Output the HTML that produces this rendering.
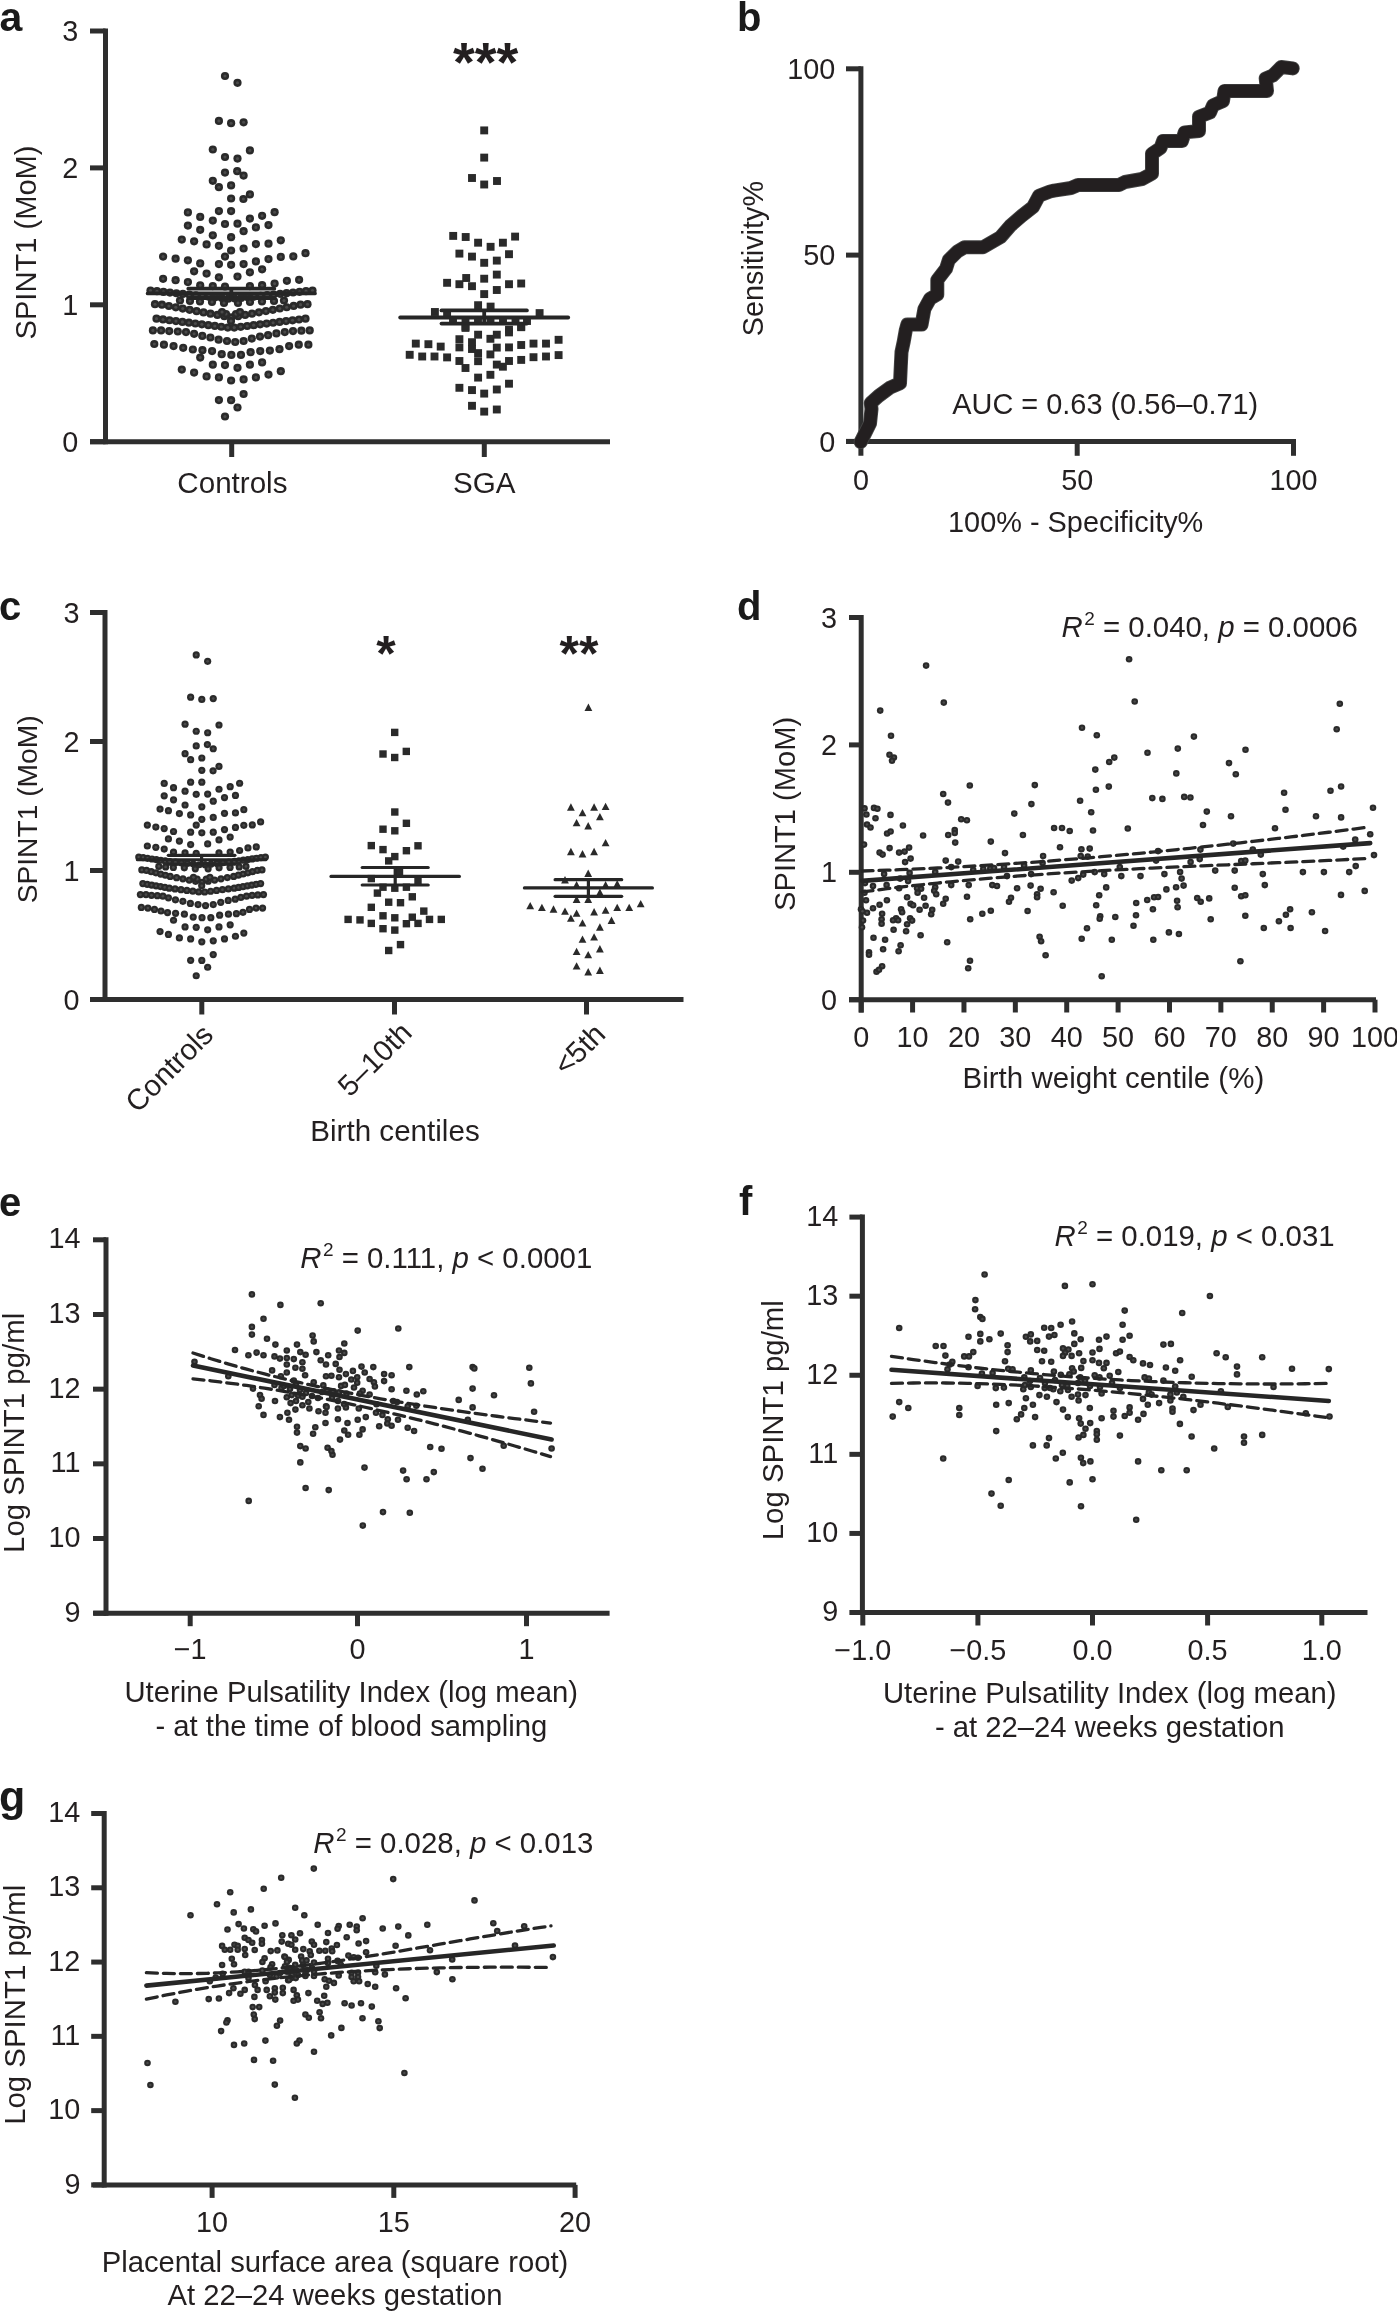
<!DOCTYPE html>
<html><head><meta charset="utf-8"><title>SPINT1 figure</title>
<style>
html,body{margin:0;padding:0;background:#fff;}
svg{display:block;will-change:transform;}
text{font-family:"Liberation Sans",sans-serif;}
</style></head>
<body>
<svg width="1397" height="2315" viewBox="0 0 1397 2315">
<rect width="1397" height="2315" fill="#fff"/>
<text x="-0.5" y="30.8" font-size="41" text-anchor="start" font-weight="bold" fill="#1a1a1a">a</text>
<line x1="105.5" y1="28.5" x2="105.5" y2="444.2" stroke="#2e2e2e" stroke-width="5" stroke-linecap="butt"/>
<line x1="90" y1="441.7" x2="105.5" y2="441.7" stroke="#2e2e2e" stroke-width="5" stroke-linecap="butt"/>
<text x="78.3" y="451.84" font-size="28.8" text-anchor="end" fill="#231f20">0</text>
<line x1="90" y1="304.8" x2="105.5" y2="304.8" stroke="#2e2e2e" stroke-width="5" stroke-linecap="butt"/>
<text x="78.3" y="314.94" font-size="28.8" text-anchor="end" fill="#231f20">1</text>
<line x1="90" y1="167.9" x2="105.5" y2="167.9" stroke="#2e2e2e" stroke-width="5" stroke-linecap="butt"/>
<text x="78.3" y="178.04" font-size="28.8" text-anchor="end" fill="#231f20">2</text>
<line x1="90" y1="31" x2="105.5" y2="31" stroke="#2e2e2e" stroke-width="5" stroke-linecap="butt"/>
<text x="78.3" y="41.14" font-size="28.8" text-anchor="end" fill="#231f20">3</text>
<line x1="90" y1="441.7" x2="610" y2="441.7" stroke="#2e2e2e" stroke-width="5" stroke-linecap="butt"/>
<line x1="231.7" y1="441.7" x2="231.7" y2="457" stroke="#2e2e2e" stroke-width="5" stroke-linecap="butt"/>
<line x1="484.3" y1="441.7" x2="484.3" y2="457" stroke="#2e2e2e" stroke-width="5" stroke-linecap="butt"/>
<text x="232.4" y="493.3" font-size="29.6" text-anchor="middle" fill="#231f20">Controls</text>
<text x="484.3" y="493.3" font-size="29.6" text-anchor="middle" fill="#231f20">SGA</text>
<text x="0" y="0" font-size="29.1" text-anchor="middle" fill="#231f20" transform="translate(35.8,242.5) rotate(-90)">SPINT1 (MoM)</text>
<g fill="#2a2a2a"><circle cx="225" cy="76" r="4.1"/><circle cx="225" cy="76" r="1.56" fill="#4a4a4a"/><circle cx="237.5" cy="82.8" r="4.1"/><circle cx="237.5" cy="82.8" r="1.56" fill="#4a4a4a"/><circle cx="218.9" cy="120.9" r="4.1"/><circle cx="218.9" cy="120.9" r="1.56" fill="#4a4a4a"/><circle cx="231.1" cy="123.2" r="4.1"/><circle cx="231.1" cy="123.2" r="1.56" fill="#4a4a4a"/><circle cx="243.6" cy="122.3" r="4.1"/><circle cx="243.6" cy="122.3" r="1.56" fill="#4a4a4a"/><circle cx="212.8" cy="149.5" r="4.1"/><circle cx="212.8" cy="149.5" r="1.56" fill="#4a4a4a"/><circle cx="249.9" cy="150.4" r="4.1"/><circle cx="249.9" cy="150.4" r="1.56" fill="#4a4a4a"/><circle cx="225" cy="157" r="4.1"/><circle cx="225" cy="157" r="1.56" fill="#4a4a4a"/><circle cx="237.5" cy="158.6" r="4.1"/><circle cx="237.5" cy="158.6" r="1.56" fill="#4a4a4a"/><circle cx="225" cy="172.6" r="4.1"/><circle cx="225" cy="172.6" r="1.56" fill="#4a4a4a"/><circle cx="237.2" cy="171.2" r="4.1"/><circle cx="237.2" cy="171.2" r="1.56" fill="#4a4a4a"/><circle cx="243.6" cy="175.6" r="4.1"/><circle cx="243.6" cy="175.6" r="1.56" fill="#4a4a4a"/><circle cx="212.8" cy="180.8" r="4.1"/><circle cx="212.8" cy="180.8" r="1.56" fill="#4a4a4a"/><circle cx="218.9" cy="187.2" r="4.1"/><circle cx="218.9" cy="187.2" r="1.56" fill="#4a4a4a"/><circle cx="231.1" cy="185.4" r="4.1"/><circle cx="231.1" cy="185.4" r="1.56" fill="#4a4a4a"/><circle cx="249.9" cy="194.4" r="4.1"/><circle cx="249.9" cy="194.4" r="1.56" fill="#4a4a4a"/><circle cx="231.1" cy="198.5" r="4.1"/><circle cx="231.1" cy="198.5" r="1.56" fill="#4a4a4a"/><circle cx="243.4" cy="199" r="4.1"/><circle cx="243.4" cy="199" r="1.56" fill="#4a4a4a"/><circle cx="187.9" cy="212.4" r="4.1"/><circle cx="187.9" cy="212.4" r="1.56" fill="#4a4a4a"/><circle cx="218.9" cy="211.1" r="4.1"/><circle cx="218.9" cy="211.1" r="1.56" fill="#4a4a4a"/><circle cx="231.1" cy="211.1" r="4.1"/><circle cx="231.1" cy="211.1" r="1.56" fill="#4a4a4a"/><circle cx="274.6" cy="212.2" r="4.1"/><circle cx="274.6" cy="212.2" r="1.56" fill="#4a4a4a"/><circle cx="200.2" cy="216.9" r="4.1"/><circle cx="200.2" cy="216.9" r="1.56" fill="#4a4a4a"/><circle cx="262.1" cy="215.8" r="4.1"/><circle cx="262.1" cy="215.8" r="1.56" fill="#4a4a4a"/><circle cx="212.8" cy="220.6" r="4.1"/><circle cx="212.8" cy="220.6" r="1.56" fill="#4a4a4a"/><circle cx="249.9" cy="218.6" r="4.1"/><circle cx="249.9" cy="218.6" r="1.56" fill="#4a4a4a"/><circle cx="225" cy="224" r="4.1"/><circle cx="225" cy="224" r="1.56" fill="#4a4a4a"/><circle cx="237.5" cy="223.7" r="4.1"/><circle cx="237.5" cy="223.7" r="1.56" fill="#4a4a4a"/><circle cx="187.9" cy="225.6" r="4.1"/><circle cx="187.9" cy="225.6" r="1.56" fill="#4a4a4a"/><circle cx="268.5" cy="225.1" r="4.1"/><circle cx="268.5" cy="225.1" r="1.56" fill="#4a4a4a"/><circle cx="255.9" cy="227.4" r="4.1"/><circle cx="255.9" cy="227.4" r="1.56" fill="#4a4a4a"/><circle cx="200.2" cy="229.8" r="4.1"/><circle cx="200.2" cy="229.8" r="1.56" fill="#4a4a4a"/><circle cx="243.6" cy="231.2" r="4.1"/><circle cx="243.6" cy="231.2" r="1.56" fill="#4a4a4a"/><circle cx="212.8" cy="235.3" r="4.1"/><circle cx="212.8" cy="235.3" r="1.56" fill="#4a4a4a"/><circle cx="231.1" cy="237.2" r="4.1"/><circle cx="231.1" cy="237.2" r="1.56" fill="#4a4a4a"/><circle cx="181.8" cy="239.6" r="4.1"/><circle cx="181.8" cy="239.6" r="1.56" fill="#4a4a4a"/><circle cx="194.1" cy="241.3" r="4.1"/><circle cx="194.1" cy="241.3" r="1.56" fill="#4a4a4a"/><circle cx="280.8" cy="240.3" r="4.1"/><circle cx="280.8" cy="240.3" r="1.56" fill="#4a4a4a"/><circle cx="206.6" cy="244.4" r="4.1"/><circle cx="206.6" cy="244.4" r="1.56" fill="#4a4a4a"/><circle cx="255.9" cy="244.1" r="4.1"/><circle cx="255.9" cy="244.1" r="1.56" fill="#4a4a4a"/><circle cx="268.5" cy="243.7" r="4.1"/><circle cx="268.5" cy="243.7" r="1.56" fill="#4a4a4a"/><circle cx="218.9" cy="245.8" r="4.1"/><circle cx="218.9" cy="245.8" r="1.56" fill="#4a4a4a"/><circle cx="243.6" cy="248.5" r="4.1"/><circle cx="243.6" cy="248.5" r="1.56" fill="#4a4a4a"/><circle cx="231.1" cy="250.5" r="4.1"/><circle cx="231.1" cy="250.5" r="1.56" fill="#4a4a4a"/><circle cx="225" cy="256.6" r="4.1"/><circle cx="225" cy="256.6" r="1.56" fill="#4a4a4a"/><circle cx="305.5" cy="253.2" r="4.1"/><circle cx="305.5" cy="253.2" r="1.56" fill="#4a4a4a"/><circle cx="163.1" cy="256.6" r="4.1"/><circle cx="163.1" cy="256.6" r="1.56" fill="#4a4a4a"/><circle cx="175.6" cy="258.7" r="4.1"/><circle cx="175.6" cy="258.7" r="1.56" fill="#4a4a4a"/><circle cx="187.9" cy="260.3" r="4.1"/><circle cx="187.9" cy="260.3" r="1.56" fill="#4a4a4a"/><circle cx="280.8" cy="256.9" r="4.1"/><circle cx="280.8" cy="256.9" r="1.56" fill="#4a4a4a"/><circle cx="293.3" cy="256.4" r="4.1"/><circle cx="293.3" cy="256.4" r="1.56" fill="#4a4a4a"/><circle cx="268.5" cy="259.1" r="4.1"/><circle cx="268.5" cy="259.1" r="1.56" fill="#4a4a4a"/><circle cx="255.9" cy="261.4" r="4.1"/><circle cx="255.9" cy="261.4" r="1.56" fill="#4a4a4a"/><circle cx="200.2" cy="263.4" r="4.1"/><circle cx="200.2" cy="263.4" r="1.56" fill="#4a4a4a"/><circle cx="218.9" cy="264.1" r="4.1"/><circle cx="218.9" cy="264.1" r="1.56" fill="#4a4a4a"/><circle cx="231.1" cy="264.8" r="4.1"/><circle cx="231.1" cy="264.8" r="1.56" fill="#4a4a4a"/><circle cx="243.6" cy="264.1" r="4.1"/><circle cx="243.6" cy="264.1" r="1.56" fill="#4a4a4a"/><circle cx="262.1" cy="269.3" r="4.1"/><circle cx="262.1" cy="269.3" r="1.56" fill="#4a4a4a"/><circle cx="194.1" cy="271.3" r="4.1"/><circle cx="194.1" cy="271.3" r="1.56" fill="#4a4a4a"/><circle cx="249.9" cy="272.3" r="4.1"/><circle cx="249.9" cy="272.3" r="1.56" fill="#4a4a4a"/><circle cx="206.6" cy="273.6" r="4.1"/><circle cx="206.6" cy="273.6" r="1.56" fill="#4a4a4a"/><circle cx="218.9" cy="277.3" r="4.1"/><circle cx="218.9" cy="277.3" r="1.56" fill="#4a4a4a"/><circle cx="237.5" cy="276.6" r="4.1"/><circle cx="237.5" cy="276.6" r="1.56" fill="#4a4a4a"/><circle cx="163.1" cy="278.8" r="4.1"/><circle cx="163.1" cy="278.8" r="1.56" fill="#4a4a4a"/><circle cx="175.6" cy="280.2" r="4.1"/><circle cx="175.6" cy="280.2" r="1.56" fill="#4a4a4a"/><circle cx="187.9" cy="282.1" r="4.1"/><circle cx="187.9" cy="282.1" r="1.56" fill="#4a4a4a"/><circle cx="286.9" cy="280.8" r="4.1"/><circle cx="286.9" cy="280.8" r="1.56" fill="#4a4a4a"/><circle cx="299.1" cy="279.8" r="4.1"/><circle cx="299.1" cy="279.8" r="1.56" fill="#4a4a4a"/><circle cx="274.6" cy="283.6" r="4.1"/><circle cx="274.6" cy="283.6" r="1.56" fill="#4a4a4a"/><circle cx="200.2" cy="285.4" r="4.1"/><circle cx="200.2" cy="285.4" r="1.56" fill="#4a4a4a"/><circle cx="212.8" cy="286.1" r="4.1"/><circle cx="212.8" cy="286.1" r="1.56" fill="#4a4a4a"/><circle cx="225" cy="286.5" r="4.1"/><circle cx="225" cy="286.5" r="1.56" fill="#4a4a4a"/><circle cx="249.9" cy="286.1" r="4.1"/><circle cx="249.9" cy="286.1" r="1.56" fill="#4a4a4a"/><circle cx="262.1" cy="285.2" r="4.1"/><circle cx="262.1" cy="285.2" r="1.56" fill="#4a4a4a"/><circle cx="200.2" cy="357.6" r="4.1"/><circle cx="200.2" cy="357.6" r="1.56" fill="#4a4a4a"/><circle cx="212.8" cy="364.7" r="4.1"/><circle cx="212.8" cy="364.7" r="1.56" fill="#4a4a4a"/><circle cx="225" cy="365.1" r="4.1"/><circle cx="225" cy="365.1" r="1.56" fill="#4a4a4a"/><circle cx="237.5" cy="367.8" r="4.1"/><circle cx="237.5" cy="367.8" r="1.56" fill="#4a4a4a"/><circle cx="249.9" cy="364.7" r="4.1"/><circle cx="249.9" cy="364.7" r="1.56" fill="#4a4a4a"/><circle cx="262.1" cy="362.4" r="4.1"/><circle cx="262.1" cy="362.4" r="1.56" fill="#4a4a4a"/><circle cx="181.8" cy="369.6" r="4.1"/><circle cx="181.8" cy="369.6" r="1.56" fill="#4a4a4a"/><circle cx="194.1" cy="372.6" r="4.1"/><circle cx="194.1" cy="372.6" r="1.56" fill="#4a4a4a"/><circle cx="206.6" cy="376.4" r="4.1"/><circle cx="206.6" cy="376.4" r="1.56" fill="#4a4a4a"/><circle cx="218.9" cy="377.4" r="4.1"/><circle cx="218.9" cy="377.4" r="1.56" fill="#4a4a4a"/><circle cx="231.1" cy="380.5" r="4.1"/><circle cx="231.1" cy="380.5" r="1.56" fill="#4a4a4a"/><circle cx="243.6" cy="379.4" r="4.1"/><circle cx="243.6" cy="379.4" r="1.56" fill="#4a4a4a"/><circle cx="255.9" cy="377.4" r="4.1"/><circle cx="255.9" cy="377.4" r="1.56" fill="#4a4a4a"/><circle cx="268.5" cy="374.6" r="4.1"/><circle cx="268.5" cy="374.6" r="1.56" fill="#4a4a4a"/><circle cx="280.8" cy="371.2" r="4.1"/><circle cx="280.8" cy="371.2" r="1.56" fill="#4a4a4a"/><circle cx="243.6" cy="394" r="4.1"/><circle cx="243.6" cy="394" r="1.56" fill="#4a4a4a"/><circle cx="218.9" cy="400.1" r="4.1"/><circle cx="218.9" cy="400.1" r="1.56" fill="#4a4a4a"/><circle cx="231.1" cy="400.2" r="4.1"/><circle cx="231.1" cy="400.2" r="1.56" fill="#4a4a4a"/><circle cx="237.5" cy="407.5" r="4.1"/><circle cx="237.5" cy="407.5" r="1.56" fill="#4a4a4a"/><circle cx="225" cy="416.5" r="4.1"/><circle cx="225" cy="416.5" r="1.56" fill="#4a4a4a"/><circle cx="150.5" cy="290.6" r="4.1"/><circle cx="150.5" cy="290.6" r="1.56" fill="#4a4a4a"/><circle cx="156.98" cy="291.22" r="4.1"/><circle cx="156.98" cy="291.22" r="1.56" fill="#4a4a4a"/><circle cx="163.46" cy="291.9" r="4.1"/><circle cx="163.46" cy="291.9" r="1.56" fill="#4a4a4a"/><circle cx="169.94" cy="292.58" r="4.1"/><circle cx="169.94" cy="292.58" r="1.56" fill="#4a4a4a"/><circle cx="176.42" cy="293.26" r="4.1"/><circle cx="176.42" cy="293.26" r="1.56" fill="#4a4a4a"/><circle cx="182.9" cy="293.94" r="4.1"/><circle cx="182.9" cy="293.94" r="1.56" fill="#4a4a4a"/><circle cx="189.38" cy="294.62" r="4.1"/><circle cx="189.38" cy="294.62" r="1.56" fill="#4a4a4a"/><circle cx="195.86" cy="295.3" r="4.1"/><circle cx="195.86" cy="295.3" r="1.56" fill="#4a4a4a"/><circle cx="202.34" cy="295.98" r="4.1"/><circle cx="202.34" cy="295.98" r="1.56" fill="#4a4a4a"/><circle cx="208.82" cy="296.66" r="4.1"/><circle cx="208.82" cy="296.66" r="1.56" fill="#4a4a4a"/><circle cx="215.3" cy="297.34" r="4.1"/><circle cx="215.3" cy="297.34" r="1.56" fill="#4a4a4a"/><circle cx="221.78" cy="298.02" r="4.1"/><circle cx="221.78" cy="298.02" r="1.56" fill="#4a4a4a"/><circle cx="228.26" cy="298.7" r="4.1"/><circle cx="228.26" cy="298.7" r="1.56" fill="#4a4a4a"/><circle cx="234.74" cy="298.62" r="4.1"/><circle cx="234.74" cy="298.62" r="1.56" fill="#4a4a4a"/><circle cx="241.22" cy="297.94" r="4.1"/><circle cx="241.22" cy="297.94" r="1.56" fill="#4a4a4a"/><circle cx="247.7" cy="297.26" r="4.1"/><circle cx="247.7" cy="297.26" r="1.56" fill="#4a4a4a"/><circle cx="254.18" cy="296.58" r="4.1"/><circle cx="254.18" cy="296.58" r="1.56" fill="#4a4a4a"/><circle cx="260.66" cy="295.9" r="4.1"/><circle cx="260.66" cy="295.9" r="1.56" fill="#4a4a4a"/><circle cx="267.14" cy="295.22" r="4.1"/><circle cx="267.14" cy="295.22" r="1.56" fill="#4a4a4a"/><circle cx="273.62" cy="294.54" r="4.1"/><circle cx="273.62" cy="294.54" r="1.56" fill="#4a4a4a"/><circle cx="280.1" cy="293.86" r="4.1"/><circle cx="280.1" cy="293.86" r="1.56" fill="#4a4a4a"/><circle cx="286.58" cy="293.17" r="4.1"/><circle cx="286.58" cy="293.17" r="1.56" fill="#4a4a4a"/><circle cx="293.06" cy="292.49" r="4.1"/><circle cx="293.06" cy="292.49" r="1.56" fill="#4a4a4a"/><circle cx="299.54" cy="291.81" r="4.1"/><circle cx="299.54" cy="291.81" r="1.56" fill="#4a4a4a"/><circle cx="306.02" cy="291.13" r="4.1"/><circle cx="306.02" cy="291.13" r="1.56" fill="#4a4a4a"/><circle cx="312.5" cy="290.6" r="4.1"/><circle cx="312.5" cy="290.6" r="1.56" fill="#4a4a4a"/><circle cx="155" cy="304.2" r="4.1"/><circle cx="155" cy="304.2" r="1.56" fill="#4a4a4a"/><circle cx="161.93" cy="304.72" r="4.1"/><circle cx="161.93" cy="304.72" r="1.56" fill="#4a4a4a"/><circle cx="168.86" cy="306" r="4.1"/><circle cx="168.86" cy="306" r="1.56" fill="#4a4a4a"/><circle cx="175.8" cy="307.28" r="4.1"/><circle cx="175.8" cy="307.28" r="1.56" fill="#4a4a4a"/><circle cx="182.73" cy="308.56" r="4.1"/><circle cx="182.73" cy="308.56" r="1.56" fill="#4a4a4a"/><circle cx="189.66" cy="309.84" r="4.1"/><circle cx="189.66" cy="309.84" r="1.56" fill="#4a4a4a"/><circle cx="196.59" cy="311.13" r="4.1"/><circle cx="196.59" cy="311.13" r="1.56" fill="#4a4a4a"/><circle cx="203.52" cy="312.41" r="4.1"/><circle cx="203.52" cy="312.41" r="1.56" fill="#4a4a4a"/><circle cx="210.45" cy="313.69" r="4.1"/><circle cx="210.45" cy="313.69" r="1.56" fill="#4a4a4a"/><circle cx="217.39" cy="314.97" r="4.1"/><circle cx="217.39" cy="314.97" r="1.56" fill="#4a4a4a"/><circle cx="224.32" cy="316.25" r="4.1"/><circle cx="224.32" cy="316.25" r="1.56" fill="#4a4a4a"/><circle cx="231.25" cy="317.47" r="4.1"/><circle cx="231.25" cy="317.47" r="1.56" fill="#4a4a4a"/><circle cx="238.18" cy="316.19" r="4.1"/><circle cx="238.18" cy="316.19" r="1.56" fill="#4a4a4a"/><circle cx="245.11" cy="314.91" r="4.1"/><circle cx="245.11" cy="314.91" r="1.56" fill="#4a4a4a"/><circle cx="252.05" cy="313.63" r="4.1"/><circle cx="252.05" cy="313.63" r="1.56" fill="#4a4a4a"/><circle cx="258.98" cy="312.35" r="4.1"/><circle cx="258.98" cy="312.35" r="1.56" fill="#4a4a4a"/><circle cx="265.91" cy="311.07" r="4.1"/><circle cx="265.91" cy="311.07" r="1.56" fill="#4a4a4a"/><circle cx="272.84" cy="309.79" r="4.1"/><circle cx="272.84" cy="309.79" r="1.56" fill="#4a4a4a"/><circle cx="279.77" cy="308.51" r="4.1"/><circle cx="279.77" cy="308.51" r="1.56" fill="#4a4a4a"/><circle cx="286.7" cy="307.23" r="4.1"/><circle cx="286.7" cy="307.23" r="1.56" fill="#4a4a4a"/><circle cx="293.64" cy="305.95" r="4.1"/><circle cx="293.64" cy="305.95" r="1.56" fill="#4a4a4a"/><circle cx="300.57" cy="304.67" r="4.1"/><circle cx="300.57" cy="304.67" r="1.56" fill="#4a4a4a"/><circle cx="307.5" cy="304.2" r="4.1"/><circle cx="307.5" cy="304.2" r="1.56" fill="#4a4a4a"/><circle cx="156.5" cy="318.65" r="4.1"/><circle cx="156.5" cy="318.65" r="1.56" fill="#4a4a4a"/><circle cx="162.98" cy="319.46" r="4.1"/><circle cx="162.98" cy="319.46" r="1.56" fill="#4a4a4a"/><circle cx="169.46" cy="320.27" r="4.1"/><circle cx="169.46" cy="320.27" r="1.56" fill="#4a4a4a"/><circle cx="175.93" cy="321.09" r="4.1"/><circle cx="175.93" cy="321.09" r="1.56" fill="#4a4a4a"/><circle cx="182.41" cy="321.9" r="4.1"/><circle cx="182.41" cy="321.9" r="1.56" fill="#4a4a4a"/><circle cx="188.89" cy="322.71" r="4.1"/><circle cx="188.89" cy="322.71" r="1.56" fill="#4a4a4a"/><circle cx="195.37" cy="323.52" r="4.1"/><circle cx="195.37" cy="323.52" r="1.56" fill="#4a4a4a"/><circle cx="201.85" cy="324.33" r="4.1"/><circle cx="201.85" cy="324.33" r="1.56" fill="#4a4a4a"/><circle cx="208.33" cy="325.15" r="4.1"/><circle cx="208.33" cy="325.15" r="1.56" fill="#4a4a4a"/><circle cx="214.8" cy="325.96" r="4.1"/><circle cx="214.8" cy="325.96" r="1.56" fill="#4a4a4a"/><circle cx="221.28" cy="326.77" r="4.1"/><circle cx="221.28" cy="326.77" r="1.56" fill="#4a4a4a"/><circle cx="227.76" cy="327.58" r="4.1"/><circle cx="227.76" cy="327.58" r="1.56" fill="#4a4a4a"/><circle cx="234.24" cy="327.61" r="4.1"/><circle cx="234.24" cy="327.61" r="1.56" fill="#4a4a4a"/><circle cx="240.72" cy="326.79" r="4.1"/><circle cx="240.72" cy="326.79" r="1.56" fill="#4a4a4a"/><circle cx="247.2" cy="325.98" r="4.1"/><circle cx="247.2" cy="325.98" r="1.56" fill="#4a4a4a"/><circle cx="253.67" cy="325.17" r="4.1"/><circle cx="253.67" cy="325.17" r="1.56" fill="#4a4a4a"/><circle cx="260.15" cy="324.36" r="4.1"/><circle cx="260.15" cy="324.36" r="1.56" fill="#4a4a4a"/><circle cx="266.63" cy="323.55" r="4.1"/><circle cx="266.63" cy="323.55" r="1.56" fill="#4a4a4a"/><circle cx="273.11" cy="322.73" r="4.1"/><circle cx="273.11" cy="322.73" r="1.56" fill="#4a4a4a"/><circle cx="279.59" cy="321.92" r="4.1"/><circle cx="279.59" cy="321.92" r="1.56" fill="#4a4a4a"/><circle cx="286.07" cy="321.11" r="4.1"/><circle cx="286.07" cy="321.11" r="1.56" fill="#4a4a4a"/><circle cx="292.54" cy="320.3" r="4.1"/><circle cx="292.54" cy="320.3" r="1.56" fill="#4a4a4a"/><circle cx="299.02" cy="319.49" r="4.1"/><circle cx="299.02" cy="319.49" r="1.56" fill="#4a4a4a"/><circle cx="305.5" cy="318.68" r="4.1"/><circle cx="305.5" cy="318.68" r="1.56" fill="#4a4a4a"/><circle cx="152.9" cy="330.4" r="4.1"/><circle cx="152.9" cy="330.4" r="1.56" fill="#4a4a4a"/><circle cx="161.1" cy="330.4" r="4.1"/><circle cx="161.1" cy="330.4" r="1.56" fill="#4a4a4a"/><circle cx="169.2" cy="331.1" r="4.1"/><circle cx="169.2" cy="331.1" r="1.56" fill="#4a4a4a"/><circle cx="177.8" cy="331.5" r="4.1"/><circle cx="177.8" cy="331.5" r="1.56" fill="#4a4a4a"/><circle cx="186" cy="332.1" r="4.1"/><circle cx="186" cy="332.1" r="1.56" fill="#4a4a4a"/><circle cx="194.1" cy="333.8" r="4.1"/><circle cx="194.1" cy="333.8" r="1.56" fill="#4a4a4a"/><circle cx="202.3" cy="335.9" r="4.1"/><circle cx="202.3" cy="335.9" r="1.56" fill="#4a4a4a"/><circle cx="210.4" cy="337.5" r="4.1"/><circle cx="210.4" cy="337.5" r="1.56" fill="#4a4a4a"/><circle cx="218.6" cy="339.7" r="4.1"/><circle cx="218.6" cy="339.7" r="1.56" fill="#4a4a4a"/><circle cx="227" cy="341" r="4.1"/><circle cx="227" cy="341" r="1.56" fill="#4a4a4a"/><circle cx="235.2" cy="342" r="4.1"/><circle cx="235.2" cy="342" r="1.56" fill="#4a4a4a"/><circle cx="243.6" cy="341" r="4.1"/><circle cx="243.6" cy="341" r="1.56" fill="#4a4a4a"/><circle cx="251.8" cy="338.6" r="4.1"/><circle cx="251.8" cy="338.6" r="1.56" fill="#4a4a4a"/><circle cx="260" cy="336.6" r="4.1"/><circle cx="260" cy="336.6" r="1.56" fill="#4a4a4a"/><circle cx="268.1" cy="335.2" r="4.1"/><circle cx="268.1" cy="335.2" r="1.56" fill="#4a4a4a"/><circle cx="276.4" cy="333.4" r="4.1"/><circle cx="276.4" cy="333.4" r="1.56" fill="#4a4a4a"/><circle cx="284.8" cy="332.1" r="4.1"/><circle cx="284.8" cy="332.1" r="1.56" fill="#4a4a4a"/><circle cx="293" cy="331.1" r="4.1"/><circle cx="293" cy="331.1" r="1.56" fill="#4a4a4a"/><circle cx="301.4" cy="330.7" r="4.1"/><circle cx="301.4" cy="330.7" r="1.56" fill="#4a4a4a"/><circle cx="309.7" cy="330.4" r="4.1"/><circle cx="309.7" cy="330.4" r="1.56" fill="#4a4a4a"/><circle cx="154.3" cy="344" r="4.1"/><circle cx="154.3" cy="344" r="1.56" fill="#4a4a4a"/><circle cx="163.93" cy="344.7" r="4.1"/><circle cx="163.93" cy="344.7" r="1.56" fill="#4a4a4a"/><circle cx="173.56" cy="346.1" r="4.1"/><circle cx="173.56" cy="346.1" r="1.56" fill="#4a4a4a"/><circle cx="183.19" cy="347.8" r="4.1"/><circle cx="183.19" cy="347.8" r="1.56" fill="#4a4a4a"/><circle cx="192.82" cy="349.5" r="4.1"/><circle cx="192.82" cy="349.5" r="1.56" fill="#4a4a4a"/><circle cx="202.45" cy="350.2" r="4.1"/><circle cx="202.45" cy="350.2" r="1.56" fill="#4a4a4a"/><circle cx="212.08" cy="351.1" r="4.1"/><circle cx="212.08" cy="351.1" r="1.56" fill="#4a4a4a"/><circle cx="221.71" cy="354.2" r="4.1"/><circle cx="221.71" cy="354.2" r="1.56" fill="#4a4a4a"/><circle cx="231.34" cy="354.9" r="4.1"/><circle cx="231.34" cy="354.9" r="1.56" fill="#4a4a4a"/><circle cx="240.97" cy="354.9" r="4.1"/><circle cx="240.97" cy="354.9" r="1.56" fill="#4a4a4a"/><circle cx="250.6" cy="352.2" r="4.1"/><circle cx="250.6" cy="352.2" r="1.56" fill="#4a4a4a"/><circle cx="260.23" cy="351.1" r="4.1"/><circle cx="260.23" cy="351.1" r="1.56" fill="#4a4a4a"/><circle cx="269.86" cy="350.6" r="4.1"/><circle cx="269.86" cy="350.6" r="1.56" fill="#4a4a4a"/><circle cx="279.49" cy="349.2" r="4.1"/><circle cx="279.49" cy="349.2" r="1.56" fill="#4a4a4a"/><circle cx="289.12" cy="346.1" r="4.1"/><circle cx="289.12" cy="346.1" r="1.56" fill="#4a4a4a"/><circle cx="298.75" cy="344.7" r="4.1"/><circle cx="298.75" cy="344.7" r="1.56" fill="#4a4a4a"/><circle cx="308.38" cy="344.7" r="4.1"/><circle cx="308.38" cy="344.7" r="1.56" fill="#4a4a4a"/><circle cx="180" cy="300.5" r="4.1"/><circle cx="180" cy="300.5" r="1.56" fill="#4a4a4a"/><circle cx="190" cy="301" r="4.1"/><circle cx="190" cy="301" r="1.56" fill="#4a4a4a"/><circle cx="200" cy="301.5" r="4.1"/><circle cx="200" cy="301.5" r="1.56" fill="#4a4a4a"/><circle cx="212" cy="302" r="4.1"/><circle cx="212" cy="302" r="1.56" fill="#4a4a4a"/><circle cx="224" cy="303" r="4.1"/><circle cx="224" cy="303" r="1.56" fill="#4a4a4a"/><circle cx="238" cy="303" r="4.1"/><circle cx="238" cy="303" r="1.56" fill="#4a4a4a"/><circle cx="250" cy="302" r="4.1"/><circle cx="250" cy="302" r="1.56" fill="#4a4a4a"/><circle cx="262" cy="301.5" r="4.1"/><circle cx="262" cy="301.5" r="1.56" fill="#4a4a4a"/><circle cx="274" cy="301" r="4.1"/><circle cx="274" cy="301" r="1.56" fill="#4a4a4a"/><circle cx="284" cy="300.5" r="4.1"/><circle cx="284" cy="300.5" r="1.56" fill="#4a4a4a"/><circle cx="226" cy="314" r="4.1"/><circle cx="226" cy="314" r="1.56" fill="#4a4a4a"/><circle cx="236" cy="314" r="4.1"/><circle cx="236" cy="314" r="1.56" fill="#4a4a4a"/><circle cx="231" cy="321" r="4.1"/><circle cx="231" cy="321" r="1.56" fill="#4a4a4a"/><circle cx="222" cy="312" r="4.1"/><circle cx="222" cy="312" r="1.56" fill="#4a4a4a"/><circle cx="240" cy="312" r="4.1"/><circle cx="240" cy="312" r="1.56" fill="#4a4a4a"/></g>
<line x1="147.7" y1="293.4" x2="314.9" y2="293.4" stroke="#262626" stroke-width="3.8" stroke-linecap="round"/>
<line x1="188.3" y1="288.7" x2="274.3" y2="288.7" stroke="#262626" stroke-width="3.8" stroke-linecap="round"/>
<line x1="188.3" y1="298" x2="274.3" y2="298" stroke="#262626" stroke-width="3.8" stroke-linecap="round"/>
<line x1="231.3" y1="288.7" x2="231.3" y2="298" stroke="#262626" stroke-width="3.8" stroke-linecap="butt"/>
<g fill="#2a2a2a"><rect x="480.25" y="126.45" width="7.9" height="7.9"/><rect x="480.25" y="153.65" width="7.9" height="7.9"/><rect x="468.05" y="174.05" width="7.9" height="7.9"/><rect x="480.25" y="180.55" width="7.9" height="7.9"/><rect x="493.05" y="177.05" width="7.9" height="7.9"/><rect x="449.25" y="231.95" width="7.9" height="7.9"/><rect x="461.75" y="233.05" width="7.9" height="7.9"/><rect x="474.15" y="238.75" width="7.9" height="7.9"/><rect x="486.65" y="242.85" width="7.9" height="7.9"/><rect x="498.95" y="238.75" width="7.9" height="7.9"/><rect x="511.15" y="232.65" width="7.9" height="7.9"/><rect x="455.45" y="249.65" width="7.9" height="7.9"/><rect x="468.05" y="252.65" width="7.9" height="7.9"/><rect x="480.25" y="258.85" width="7.9" height="7.9"/><rect x="492.85" y="256.65" width="7.9" height="7.9"/><rect x="505.05" y="250.25" width="7.9" height="7.9"/><rect x="462.25" y="274.05" width="7.9" height="7.9"/><rect x="443.15" y="278.85" width="7.9" height="7.9"/><rect x="455.45" y="280.25" width="7.9" height="7.9"/><rect x="468.05" y="282.25" width="7.9" height="7.9"/><rect x="480.25" y="274.75" width="7.9" height="7.9"/><rect x="492.85" y="270.65" width="7.9" height="7.9"/><rect x="505.05" y="280.25" width="7.9" height="7.9"/><rect x="517.25" y="279.55" width="7.9" height="7.9"/><rect x="480.25" y="290.15" width="7.9" height="7.9"/><rect x="492.85" y="286.05" width="7.9" height="7.9"/><rect x="474.15" y="301.25" width="7.9" height="7.9"/><rect x="486.65" y="302.65" width="7.9" height="7.9"/><rect x="430.95" y="308.05" width="7.9" height="7.9"/><rect x="443.15" y="309.15" width="7.9" height="7.9"/><rect x="535.65" y="309.15" width="7.9" height="7.9"/><rect x="461.55" y="322.75" width="7.9" height="7.9"/><rect x="517.25" y="322.75" width="7.9" height="7.9"/><rect x="505.05" y="325.75" width="7.9" height="7.9"/><rect x="449.05" y="316.55" width="7.9" height="7.9"/><rect x="461.55" y="316.55" width="7.9" height="7.9"/><rect x="474.05" y="316.55" width="7.9" height="7.9"/><rect x="486.55" y="316.55" width="7.9" height="7.9"/><rect x="499.05" y="316.55" width="7.9" height="7.9"/><rect x="511.55" y="316.55" width="7.9" height="7.9"/><rect x="523.05" y="317.05" width="7.9" height="7.9"/><rect x="461.55" y="323.95" width="7.9" height="7.9"/><rect x="517.25" y="323.25" width="7.9" height="7.9"/><rect x="474.15" y="330.75" width="7.9" height="7.9"/><rect x="492.85" y="330.75" width="7.9" height="7.9"/><rect x="505.05" y="328.45" width="7.9" height="7.9"/><rect x="486.45" y="334.85" width="7.9" height="7.9"/><rect x="411.85" y="339.65" width="7.9" height="7.9"/><rect x="424.45" y="340.25" width="7.9" height="7.9"/><rect x="436.75" y="342.65" width="7.9" height="7.9"/><rect x="455.45" y="335.25" width="7.9" height="7.9"/><rect x="455.45" y="343.45" width="7.9" height="7.9"/><rect x="468.05" y="338.25" width="7.9" height="7.9"/><rect x="468.05" y="345.05" width="7.9" height="7.9"/><rect x="492.85" y="343.65" width="7.9" height="7.9"/><rect x="505.05" y="343.45" width="7.9" height="7.9"/><rect x="517.25" y="341.05" width="7.9" height="7.9"/><rect x="529.55" y="339.65" width="7.9" height="7.9"/><rect x="542.05" y="339.65" width="7.9" height="7.9"/><rect x="554.65" y="335.85" width="7.9" height="7.9"/><rect x="405.75" y="350.85" width="7.9" height="7.9"/><rect x="418.25" y="352.55" width="7.9" height="7.9"/><rect x="430.55" y="352.55" width="7.9" height="7.9"/><rect x="443.15" y="353.45" width="7.9" height="7.9"/><rect x="474.15" y="349.15" width="7.9" height="7.9"/><rect x="486.45" y="350.45" width="7.9" height="7.9"/><rect x="455.45" y="357.05" width="7.9" height="7.9"/><rect x="474.15" y="357.25" width="7.9" height="7.9"/><rect x="461.55" y="364.05" width="7.9" height="7.9"/><rect x="492.85" y="360.65" width="7.9" height="7.9"/><rect x="498.95" y="362.75" width="7.9" height="7.9"/><rect x="505.05" y="357.05" width="7.9" height="7.9"/><rect x="517.25" y="355.95" width="7.9" height="7.9"/><rect x="529.55" y="353.25" width="7.9" height="7.9"/><rect x="542.05" y="352.55" width="7.9" height="7.9"/><rect x="554.65" y="351.15" width="7.9" height="7.9"/><rect x="474.15" y="373.65" width="7.9" height="7.9"/><rect x="486.45" y="370.85" width="7.9" height="7.9"/><rect x="455.45" y="383.85" width="7.9" height="7.9"/><rect x="468.05" y="386.15" width="7.9" height="7.9"/><rect x="480.25" y="389.65" width="7.9" height="7.9"/><rect x="492.85" y="385.55" width="7.9" height="7.9"/><rect x="505.05" y="379.75" width="7.9" height="7.9"/><rect x="468.05" y="401.85" width="7.9" height="7.9"/><rect x="480.25" y="407.65" width="7.9" height="7.9"/><rect x="492.85" y="405.55" width="7.9" height="7.9"/></g>
<line x1="400.2" y1="317.5" x2="568.2" y2="317.5" stroke="#262626" stroke-width="3.8" stroke-linecap="round"/>
<line x1="441.5" y1="310.4" x2="526.9" y2="310.4" stroke="#262626" stroke-width="3.8" stroke-linecap="round"/>
<line x1="441.5" y1="323.6" x2="526.9" y2="323.6" stroke="#262626" stroke-width="3.8" stroke-linecap="round"/>
<line x1="484.2" y1="310.4" x2="484.2" y2="323.6" stroke="#262626" stroke-width="3.8" stroke-linecap="butt"/>
<text x="485.6" y="80.5" font-size="56" text-anchor="middle" font-weight="bold" fill="#231f20">***</text>
<text x="737" y="31" font-size="40" text-anchor="start" font-weight="bold" fill="#1a1a1a">b</text>
<line x1="860.9" y1="66.3" x2="860.9" y2="455.8" stroke="#2e2e2e" stroke-width="5" stroke-linecap="butt"/>
<line x1="846" y1="441.4" x2="860.9" y2="441.4" stroke="#2e2e2e" stroke-width="5" stroke-linecap="butt"/>
<line x1="846" y1="255.1" x2="860.9" y2="255.1" stroke="#2e2e2e" stroke-width="5" stroke-linecap="butt"/>
<line x1="846" y1="68.8" x2="860.9" y2="68.8" stroke="#2e2e2e" stroke-width="5" stroke-linecap="butt"/>
<text x="835.2" y="451.54" font-size="28.8" text-anchor="end" fill="#231f20">0</text>
<text x="835.2" y="265.24" font-size="28.8" text-anchor="end" fill="#231f20">50</text>
<text x="835.2" y="78.94" font-size="28.8" text-anchor="end" fill="#231f20">100</text>
<line x1="846" y1="441.4" x2="1296" y2="441.4" stroke="#2e2e2e" stroke-width="5" stroke-linecap="butt"/>
<line x1="1077.2" y1="441.4" x2="1077.2" y2="455.8" stroke="#2e2e2e" stroke-width="5" stroke-linecap="butt"/>
<line x1="1293.5" y1="441.4" x2="1293.5" y2="455.8" stroke="#2e2e2e" stroke-width="5" stroke-linecap="butt"/>
<text x="860.9" y="490.2" font-size="28.8" text-anchor="middle" fill="#231f20">0</text>
<text x="1077.2" y="490.2" font-size="28.8" text-anchor="middle" fill="#231f20">50</text>
<text x="1293.5" y="490.2" font-size="28.8" text-anchor="middle" fill="#231f20">100</text>
<path d="M860.7 442 L865.7 432 L870 423.4 L871.5 409 L870.8 403 L878.6 396 L890 387.6 L900 383.3 L900.8 366 L901.5 352 L903.7 341.8 L905.8 330 L907.3 324.6 L921.6 324.6 L924.4 309 L930 298.8 L937.3 294.5 L937.3 280 L946 268.8 L948.8 260 L957.4 251.6 L964.5 247.3 L983 247.3 L1000.3 237.3 L1010.3 225.8 L1021.8 215.8 L1033 207 L1039 195.7 L1050 191.5 L1054 190.6 L1071 188 L1078 185 L1119 185 L1125 182 L1142 179 L1152 173.6 L1152 153.7 L1160.5 148 L1163 141 L1182 141 L1184.7 132.4 L1199 131 L1199 116.7 L1210 112.5 L1213 105.4 L1223 101 L1224.5 91 L1267 91 L1265.7 78.4 L1272.8 75.5 L1281.3 67 L1292.7 68.4" fill="none" stroke="#454545" stroke-width="14" stroke-linejoin="round" stroke-linecap="round"/>
<path d="M860.7 442 L865.7 432 L870 423.4 L871.5 409 L870.8 403 L878.6 396 L890 387.6 L900 383.3 L900.8 366 L901.5 352 L903.7 341.8 L905.8 330 L907.3 324.6 L921.6 324.6 L924.4 309 L930 298.8 L937.3 294.5 L937.3 280 L946 268.8 L948.8 260 L957.4 251.6 L964.5 247.3 L983 247.3 L1000.3 237.3 L1010.3 225.8 L1021.8 215.8 L1033 207 L1039 195.7 L1050 191.5 L1054 190.6 L1071 188 L1078 185 L1119 185 L1125 182 L1142 179 L1152 173.6 L1152 153.7 L1160.5 148 L1163 141 L1182 141 L1184.7 132.4 L1199 131 L1199 116.7 L1210 112.5 L1213 105.4 L1223 101 L1224.5 91 L1267 91 L1265.7 78.4 L1272.8 75.5 L1281.3 67 L1292.7 68.4" fill="none" stroke="#231f20" stroke-width="12.3" stroke-linejoin="round" stroke-linecap="round"/>
<text x="952.3" y="413.8" font-size="28.9" text-anchor="start" fill="#231f20">AUC = 0.63 (0.56–0.71)</text>
<text x="948" y="531.8" font-size="28.9" text-anchor="start" fill="#231f20">100% - Specificity%</text>
<text x="0" y="0" font-size="28.8" text-anchor="middle" fill="#231f20" transform="translate(763.2,258.6) rotate(-90)">Sensitivity%</text>
<text x="-1" y="619.5" font-size="40" text-anchor="start" font-weight="bold" fill="#1a1a1a">c</text>
<line x1="105" y1="610" x2="105" y2="1002" stroke="#2e2e2e" stroke-width="5" stroke-linecap="butt"/>
<line x1="90" y1="999.5" x2="105" y2="999.5" stroke="#2e2e2e" stroke-width="5" stroke-linecap="butt"/>
<text x="79.5" y="1009.64" font-size="28.8" text-anchor="end" fill="#231f20">0</text>
<line x1="90" y1="870.5" x2="105" y2="870.5" stroke="#2e2e2e" stroke-width="5" stroke-linecap="butt"/>
<text x="79.5" y="880.64" font-size="28.8" text-anchor="end" fill="#231f20">1</text>
<line x1="90" y1="741.5" x2="105" y2="741.5" stroke="#2e2e2e" stroke-width="5" stroke-linecap="butt"/>
<text x="79.5" y="751.64" font-size="28.8" text-anchor="end" fill="#231f20">2</text>
<line x1="90" y1="612.5" x2="105" y2="612.5" stroke="#2e2e2e" stroke-width="5" stroke-linecap="butt"/>
<text x="79.5" y="622.64" font-size="28.8" text-anchor="end" fill="#231f20">3</text>
<line x1="90" y1="999.5" x2="683.5" y2="999.5" stroke="#2e2e2e" stroke-width="5" stroke-linecap="butt"/>
<line x1="201.8" y1="999.5" x2="201.8" y2="1014.5" stroke="#2e2e2e" stroke-width="5" stroke-linecap="butt"/>
<line x1="394.5" y1="999.5" x2="394.5" y2="1014.5" stroke="#2e2e2e" stroke-width="5" stroke-linecap="butt"/>
<line x1="586.5" y1="999.5" x2="586.5" y2="1014.5" stroke="#2e2e2e" stroke-width="5" stroke-linecap="butt"/>
<text x="0" y="0" font-size="29.4" text-anchor="end" fill="#231f20" transform="translate(215,1036.5) rotate(-45)">Controls</text>
<text x="0" y="0" font-size="29.4" text-anchor="end" fill="#231f20" transform="translate(413.5,1034.5) rotate(-45)">5–10th</text>
<text x="0" y="0" font-size="29.4" text-anchor="end" fill="#231f20" transform="translate(607,1036) rotate(-45)">&lt;5th</text>
<text x="395" y="1140.7" font-size="29.6" text-anchor="middle" fill="#231f20">Birth centiles</text>
<text x="0" y="0" font-size="28.2" text-anchor="middle" fill="#231f20" transform="translate(37.1,809.4) rotate(-90)">SPINT1 (MoM)</text>
<g fill="#2a2a2a"><circle cx="196.22" cy="654.9" r="3.6"/><circle cx="196.22" cy="654.9" r="1.37" fill="#4a4a4a"/><circle cx="207.66" cy="661.31" r="3.6"/><circle cx="207.66" cy="661.31" r="1.37" fill="#4a4a4a"/><circle cx="190.64" cy="697.21" r="3.6"/><circle cx="190.64" cy="697.21" r="1.37" fill="#4a4a4a"/><circle cx="201.8" cy="699.38" r="3.6"/><circle cx="201.8" cy="699.38" r="1.37" fill="#4a4a4a"/><circle cx="213.24" cy="698.53" r="3.6"/><circle cx="213.24" cy="698.53" r="1.37" fill="#4a4a4a"/><circle cx="185.06" cy="724.16" r="3.6"/><circle cx="185.06" cy="724.16" r="1.37" fill="#4a4a4a"/><circle cx="219" cy="725.01" r="3.6"/><circle cx="219" cy="725.01" r="1.37" fill="#4a4a4a"/><circle cx="196.22" cy="731.23" r="3.6"/><circle cx="196.22" cy="731.23" r="1.37" fill="#4a4a4a"/><circle cx="207.66" cy="732.74" r="3.6"/><circle cx="207.66" cy="732.74" r="1.37" fill="#4a4a4a"/><circle cx="196.22" cy="745.93" r="3.6"/><circle cx="196.22" cy="745.93" r="1.37" fill="#4a4a4a"/><circle cx="207.38" cy="744.61" r="3.6"/><circle cx="207.38" cy="744.61" r="1.37" fill="#4a4a4a"/><circle cx="213.24" cy="748.76" r="3.6"/><circle cx="213.24" cy="748.76" r="1.37" fill="#4a4a4a"/><circle cx="185.06" cy="753.66" r="3.6"/><circle cx="185.06" cy="753.66" r="1.37" fill="#4a4a4a"/><circle cx="190.64" cy="759.69" r="3.6"/><circle cx="190.64" cy="759.69" r="1.37" fill="#4a4a4a"/><circle cx="201.8" cy="757.99" r="3.6"/><circle cx="201.8" cy="757.99" r="1.37" fill="#4a4a4a"/><circle cx="219" cy="766.47" r="3.6"/><circle cx="219" cy="766.47" r="1.37" fill="#4a4a4a"/><circle cx="201.8" cy="770.33" r="3.6"/><circle cx="201.8" cy="770.33" r="1.37" fill="#4a4a4a"/><circle cx="213.05" cy="770.81" r="3.6"/><circle cx="213.05" cy="770.81" r="1.37" fill="#4a4a4a"/><circle cx="164.2" cy="783.43" r="3.6"/><circle cx="164.2" cy="783.43" r="1.37" fill="#4a4a4a"/><circle cx="190.64" cy="782.21" r="3.6"/><circle cx="190.64" cy="782.21" r="1.37" fill="#4a4a4a"/><circle cx="201.8" cy="782.21" r="3.6"/><circle cx="201.8" cy="782.21" r="1.37" fill="#4a4a4a"/><circle cx="239.61" cy="783.24" r="3.6"/><circle cx="239.61" cy="783.24" r="1.37" fill="#4a4a4a"/><circle cx="173.53" cy="787.67" r="3.6"/><circle cx="173.53" cy="787.67" r="1.37" fill="#4a4a4a"/><circle cx="230.17" cy="786.64" r="3.6"/><circle cx="230.17" cy="786.64" r="1.37" fill="#4a4a4a"/><circle cx="185.06" cy="791.16" r="3.6"/><circle cx="185.06" cy="791.16" r="1.37" fill="#4a4a4a"/><circle cx="219" cy="789.27" r="3.6"/><circle cx="219" cy="789.27" r="1.37" fill="#4a4a4a"/><circle cx="196.22" cy="794.36" r="3.6"/><circle cx="196.22" cy="794.36" r="1.37" fill="#4a4a4a"/><circle cx="207.66" cy="794.08" r="3.6"/><circle cx="207.66" cy="794.08" r="1.37" fill="#4a4a4a"/><circle cx="164.2" cy="795.87" r="3.6"/><circle cx="164.2" cy="795.87" r="1.37" fill="#4a4a4a"/><circle cx="235.46" cy="795.4" r="3.6"/><circle cx="235.46" cy="795.4" r="1.37" fill="#4a4a4a"/><circle cx="224.49" cy="797.57" r="3.6"/><circle cx="224.49" cy="797.57" r="1.37" fill="#4a4a4a"/><circle cx="173.53" cy="799.83" r="3.6"/><circle cx="173.53" cy="799.83" r="1.37" fill="#4a4a4a"/><circle cx="213.24" cy="801.15" r="3.6"/><circle cx="213.24" cy="801.15" r="1.37" fill="#4a4a4a"/><circle cx="185.06" cy="805.01" r="3.6"/><circle cx="185.06" cy="805.01" r="1.37" fill="#4a4a4a"/><circle cx="201.8" cy="806.8" r="3.6"/><circle cx="201.8" cy="806.8" r="1.37" fill="#4a4a4a"/><circle cx="160.05" cy="809.06" r="3.6"/><circle cx="160.05" cy="809.06" r="1.37" fill="#4a4a4a"/><circle cx="168.42" cy="810.66" r="3.6"/><circle cx="168.42" cy="810.66" r="1.37" fill="#4a4a4a"/><circle cx="243.82" cy="809.72" r="3.6"/><circle cx="243.82" cy="809.72" r="1.37" fill="#4a4a4a"/><circle cx="179.38" cy="813.59" r="3.6"/><circle cx="179.38" cy="813.59" r="1.37" fill="#4a4a4a"/><circle cx="224.49" cy="813.3" r="3.6"/><circle cx="224.49" cy="813.3" r="1.37" fill="#4a4a4a"/><circle cx="235.46" cy="812.93" r="3.6"/><circle cx="235.46" cy="812.93" r="1.37" fill="#4a4a4a"/><circle cx="190.64" cy="814.9" r="3.6"/><circle cx="190.64" cy="814.9" r="1.37" fill="#4a4a4a"/><circle cx="213.24" cy="817.45" r="3.6"/><circle cx="213.24" cy="817.45" r="1.37" fill="#4a4a4a"/><circle cx="201.8" cy="819.33" r="3.6"/><circle cx="201.8" cy="819.33" r="1.37" fill="#4a4a4a"/><circle cx="196.22" cy="825.08" r="3.6"/><circle cx="196.22" cy="825.08" r="1.37" fill="#4a4a4a"/><circle cx="260.62" cy="821.88" r="3.6"/><circle cx="260.62" cy="821.88" r="1.37" fill="#4a4a4a"/><circle cx="147.34" cy="825.08" r="3.6"/><circle cx="147.34" cy="825.08" r="1.37" fill="#4a4a4a"/><circle cx="155.84" cy="827.06" r="3.6"/><circle cx="155.84" cy="827.06" r="1.37" fill="#4a4a4a"/><circle cx="164.2" cy="828.57" r="3.6"/><circle cx="164.2" cy="828.57" r="1.37" fill="#4a4a4a"/><circle cx="243.82" cy="825.36" r="3.6"/><circle cx="243.82" cy="825.36" r="1.37" fill="#4a4a4a"/><circle cx="252.32" cy="824.89" r="3.6"/><circle cx="252.32" cy="824.89" r="1.37" fill="#4a4a4a"/><circle cx="235.46" cy="827.44" r="3.6"/><circle cx="235.46" cy="827.44" r="1.37" fill="#4a4a4a"/><circle cx="224.49" cy="829.6" r="3.6"/><circle cx="224.49" cy="829.6" r="1.37" fill="#4a4a4a"/><circle cx="173.53" cy="831.49" r="3.6"/><circle cx="173.53" cy="831.49" r="1.37" fill="#4a4a4a"/><circle cx="190.64" cy="832.15" r="3.6"/><circle cx="190.64" cy="832.15" r="1.37" fill="#4a4a4a"/><circle cx="201.8" cy="832.81" r="3.6"/><circle cx="201.8" cy="832.81" r="1.37" fill="#4a4a4a"/><circle cx="213.24" cy="832.15" r="3.6"/><circle cx="213.24" cy="832.15" r="1.37" fill="#4a4a4a"/><circle cx="230.17" cy="837.05" r="3.6"/><circle cx="230.17" cy="837.05" r="1.37" fill="#4a4a4a"/><circle cx="168.42" cy="838.93" r="3.6"/><circle cx="168.42" cy="838.93" r="1.37" fill="#4a4a4a"/><circle cx="219" cy="839.88" r="3.6"/><circle cx="219" cy="839.88" r="1.37" fill="#4a4a4a"/><circle cx="179.38" cy="841.1" r="3.6"/><circle cx="179.38" cy="841.1" r="1.37" fill="#4a4a4a"/><circle cx="190.64" cy="844.59" r="3.6"/><circle cx="190.64" cy="844.59" r="1.37" fill="#4a4a4a"/><circle cx="207.66" cy="843.93" r="3.6"/><circle cx="207.66" cy="843.93" r="1.37" fill="#4a4a4a"/><circle cx="147.34" cy="846" r="3.6"/><circle cx="147.34" cy="846" r="1.37" fill="#4a4a4a"/><circle cx="155.84" cy="847.32" r="3.6"/><circle cx="155.84" cy="847.32" r="1.37" fill="#4a4a4a"/><circle cx="164.2" cy="849.11" r="3.6"/><circle cx="164.2" cy="849.11" r="1.37" fill="#4a4a4a"/><circle cx="247.97" cy="847.88" r="3.6"/><circle cx="247.97" cy="847.88" r="1.37" fill="#4a4a4a"/><circle cx="256.27" cy="846.94" r="3.6"/><circle cx="256.27" cy="846.94" r="1.37" fill="#4a4a4a"/><circle cx="239.61" cy="850.52" r="3.6"/><circle cx="239.61" cy="850.52" r="1.37" fill="#4a4a4a"/><circle cx="173.53" cy="852.22" r="3.6"/><circle cx="173.53" cy="852.22" r="1.37" fill="#4a4a4a"/><circle cx="185.06" cy="852.88" r="3.6"/><circle cx="185.06" cy="852.88" r="1.37" fill="#4a4a4a"/><circle cx="196.22" cy="853.26" r="3.6"/><circle cx="196.22" cy="853.26" r="1.37" fill="#4a4a4a"/><circle cx="219" cy="852.88" r="3.6"/><circle cx="219" cy="852.88" r="1.37" fill="#4a4a4a"/><circle cx="230.17" cy="852.03" r="3.6"/><circle cx="230.17" cy="852.03" r="1.37" fill="#4a4a4a"/><circle cx="173.53" cy="920.25" r="3.6"/><circle cx="173.53" cy="920.25" r="1.37" fill="#4a4a4a"/><circle cx="185.06" cy="926.94" r="3.6"/><circle cx="185.06" cy="926.94" r="1.37" fill="#4a4a4a"/><circle cx="196.22" cy="927.32" r="3.6"/><circle cx="196.22" cy="927.32" r="1.37" fill="#4a4a4a"/><circle cx="207.66" cy="929.86" r="3.6"/><circle cx="207.66" cy="929.86" r="1.37" fill="#4a4a4a"/><circle cx="219" cy="926.94" r="3.6"/><circle cx="219" cy="926.94" r="1.37" fill="#4a4a4a"/><circle cx="230.17" cy="924.78" r="3.6"/><circle cx="230.17" cy="924.78" r="1.37" fill="#4a4a4a"/><circle cx="160.05" cy="931.56" r="3.6"/><circle cx="160.05" cy="931.56" r="1.37" fill="#4a4a4a"/><circle cx="168.42" cy="934.39" r="3.6"/><circle cx="168.42" cy="934.39" r="1.37" fill="#4a4a4a"/><circle cx="179.38" cy="937.97" r="3.6"/><circle cx="179.38" cy="937.97" r="1.37" fill="#4a4a4a"/><circle cx="190.64" cy="938.91" r="3.6"/><circle cx="190.64" cy="938.91" r="1.37" fill="#4a4a4a"/><circle cx="201.8" cy="941.83" r="3.6"/><circle cx="201.8" cy="941.83" r="1.37" fill="#4a4a4a"/><circle cx="213.24" cy="940.8" r="3.6"/><circle cx="213.24" cy="940.8" r="1.37" fill="#4a4a4a"/><circle cx="224.49" cy="938.91" r="3.6"/><circle cx="224.49" cy="938.91" r="1.37" fill="#4a4a4a"/><circle cx="235.46" cy="936.27" r="3.6"/><circle cx="235.46" cy="936.27" r="1.37" fill="#4a4a4a"/><circle cx="243.82" cy="933.07" r="3.6"/><circle cx="243.82" cy="933.07" r="1.37" fill="#4a4a4a"/><circle cx="213.24" cy="954.55" r="3.6"/><circle cx="213.24" cy="954.55" r="1.37" fill="#4a4a4a"/><circle cx="190.64" cy="960.3" r="3.6"/><circle cx="190.64" cy="960.3" r="1.37" fill="#4a4a4a"/><circle cx="201.8" cy="960.39" r="3.6"/><circle cx="201.8" cy="960.39" r="1.37" fill="#4a4a4a"/><circle cx="207.66" cy="967.27" r="3.6"/><circle cx="207.66" cy="967.27" r="1.37" fill="#4a4a4a"/><circle cx="196.22" cy="975.75" r="3.6"/><circle cx="196.22" cy="975.75" r="1.37" fill="#4a4a4a"/><circle cx="138.77" cy="857.12" r="3.6"/><circle cx="138.77" cy="857.12" r="1.37" fill="#4a4a4a"/><circle cx="143.17" cy="857.7" r="3.6"/><circle cx="143.17" cy="857.7" r="1.37" fill="#4a4a4a"/><circle cx="147.58" cy="858.34" r="3.6"/><circle cx="147.58" cy="858.34" r="1.37" fill="#4a4a4a"/><circle cx="151.99" cy="858.98" r="3.6"/><circle cx="151.99" cy="858.98" r="1.37" fill="#4a4a4a"/><circle cx="156.39" cy="859.62" r="3.6"/><circle cx="156.39" cy="859.62" r="1.37" fill="#4a4a4a"/><circle cx="160.8" cy="860.27" r="3.6"/><circle cx="160.8" cy="860.27" r="1.37" fill="#4a4a4a"/><circle cx="165.21" cy="860.91" r="3.6"/><circle cx="165.21" cy="860.91" r="1.37" fill="#4a4a4a"/><circle cx="169.61" cy="861.55" r="3.6"/><circle cx="169.61" cy="861.55" r="1.37" fill="#4a4a4a"/><circle cx="175.48" cy="862.19" r="3.6"/><circle cx="175.48" cy="862.19" r="1.37" fill="#4a4a4a"/><circle cx="181.41" cy="862.83" r="3.6"/><circle cx="181.41" cy="862.83" r="1.37" fill="#4a4a4a"/><circle cx="187.34" cy="863.47" r="3.6"/><circle cx="187.34" cy="863.47" r="1.37" fill="#4a4a4a"/><circle cx="193.27" cy="864.11" r="3.6"/><circle cx="193.27" cy="864.11" r="1.37" fill="#4a4a4a"/><circle cx="199.2" cy="864.75" r="3.6"/><circle cx="199.2" cy="864.75" r="1.37" fill="#4a4a4a"/><circle cx="205.13" cy="864.67" r="3.6"/><circle cx="205.13" cy="864.67" r="1.37" fill="#4a4a4a"/><circle cx="211.06" cy="864.03" r="3.6"/><circle cx="211.06" cy="864.03" r="1.37" fill="#4a4a4a"/><circle cx="216.99" cy="863.39" r="3.6"/><circle cx="216.99" cy="863.39" r="1.37" fill="#4a4a4a"/><circle cx="222.92" cy="862.75" r="3.6"/><circle cx="222.92" cy="862.75" r="1.37" fill="#4a4a4a"/><circle cx="228.85" cy="862.11" r="3.6"/><circle cx="228.85" cy="862.11" r="1.37" fill="#4a4a4a"/><circle cx="234.53" cy="861.47" r="3.6"/><circle cx="234.53" cy="861.47" r="1.37" fill="#4a4a4a"/><circle cx="238.94" cy="860.83" r="3.6"/><circle cx="238.94" cy="860.83" r="1.37" fill="#4a4a4a"/><circle cx="243.35" cy="860.19" r="3.6"/><circle cx="243.35" cy="860.19" r="1.37" fill="#4a4a4a"/><circle cx="247.75" cy="859.55" r="3.6"/><circle cx="247.75" cy="859.55" r="1.37" fill="#4a4a4a"/><circle cx="252.16" cy="858.9" r="3.6"/><circle cx="252.16" cy="858.9" r="1.37" fill="#4a4a4a"/><circle cx="256.56" cy="858.26" r="3.6"/><circle cx="256.56" cy="858.26" r="1.37" fill="#4a4a4a"/><circle cx="260.97" cy="857.62" r="3.6"/><circle cx="260.97" cy="857.62" r="1.37" fill="#4a4a4a"/><circle cx="265.38" cy="857.12" r="3.6"/><circle cx="265.38" cy="857.12" r="1.37" fill="#4a4a4a"/><circle cx="141.83" cy="869.93" r="3.6"/><circle cx="141.83" cy="869.93" r="1.37" fill="#4a4a4a"/><circle cx="146.54" cy="870.43" r="3.6"/><circle cx="146.54" cy="870.43" r="1.37" fill="#4a4a4a"/><circle cx="151.25" cy="871.63" r="3.6"/><circle cx="151.25" cy="871.63" r="1.37" fill="#4a4a4a"/><circle cx="155.97" cy="872.84" r="3.6"/><circle cx="155.97" cy="872.84" r="1.37" fill="#4a4a4a"/><circle cx="160.68" cy="874.05" r="3.6"/><circle cx="160.68" cy="874.05" r="1.37" fill="#4a4a4a"/><circle cx="165.4" cy="875.25" r="3.6"/><circle cx="165.4" cy="875.25" r="1.37" fill="#4a4a4a"/><circle cx="170.22" cy="876.46" r="3.6"/><circle cx="170.22" cy="876.46" r="1.37" fill="#4a4a4a"/><circle cx="176.57" cy="877.67" r="3.6"/><circle cx="176.57" cy="877.67" r="1.37" fill="#4a4a4a"/><circle cx="182.91" cy="878.87" r="3.6"/><circle cx="182.91" cy="878.87" r="1.37" fill="#4a4a4a"/><circle cx="189.25" cy="880.08" r="3.6"/><circle cx="189.25" cy="880.08" r="1.37" fill="#4a4a4a"/><circle cx="195.59" cy="881.29" r="3.6"/><circle cx="195.59" cy="881.29" r="1.37" fill="#4a4a4a"/><circle cx="201.94" cy="882.44" r="3.6"/><circle cx="201.94" cy="882.44" r="1.37" fill="#4a4a4a"/><circle cx="208.28" cy="881.23" r="3.6"/><circle cx="208.28" cy="881.23" r="1.37" fill="#4a4a4a"/><circle cx="214.62" cy="880.03" r="3.6"/><circle cx="214.62" cy="880.03" r="1.37" fill="#4a4a4a"/><circle cx="220.97" cy="878.82" r="3.6"/><circle cx="220.97" cy="878.82" r="1.37" fill="#4a4a4a"/><circle cx="227.31" cy="877.61" r="3.6"/><circle cx="227.31" cy="877.61" r="1.37" fill="#4a4a4a"/><circle cx="233.65" cy="876.41" r="3.6"/><circle cx="233.65" cy="876.41" r="1.37" fill="#4a4a4a"/><circle cx="238.41" cy="875.2" r="3.6"/><circle cx="238.41" cy="875.2" r="1.37" fill="#4a4a4a"/><circle cx="243.12" cy="874" r="3.6"/><circle cx="243.12" cy="874" r="1.37" fill="#4a4a4a"/><circle cx="247.84" cy="872.79" r="3.6"/><circle cx="247.84" cy="872.79" r="1.37" fill="#4a4a4a"/><circle cx="252.55" cy="871.58" r="3.6"/><circle cx="252.55" cy="871.58" r="1.37" fill="#4a4a4a"/><circle cx="257.26" cy="870.38" r="3.6"/><circle cx="257.26" cy="870.38" r="1.37" fill="#4a4a4a"/><circle cx="261.98" cy="869.93" r="3.6"/><circle cx="261.98" cy="869.93" r="1.37" fill="#4a4a4a"/><circle cx="142.85" cy="883.55" r="3.6"/><circle cx="142.85" cy="883.55" r="1.37" fill="#4a4a4a"/><circle cx="147.25" cy="884.32" r="3.6"/><circle cx="147.25" cy="884.32" r="1.37" fill="#4a4a4a"/><circle cx="151.66" cy="885.08" r="3.6"/><circle cx="151.66" cy="885.08" r="1.37" fill="#4a4a4a"/><circle cx="156.06" cy="885.85" r="3.6"/><circle cx="156.06" cy="885.85" r="1.37" fill="#4a4a4a"/><circle cx="160.47" cy="886.61" r="3.6"/><circle cx="160.47" cy="886.61" r="1.37" fill="#4a4a4a"/><circle cx="164.87" cy="887.38" r="3.6"/><circle cx="164.87" cy="887.38" r="1.37" fill="#4a4a4a"/><circle cx="169.28" cy="888.14" r="3.6"/><circle cx="169.28" cy="888.14" r="1.37" fill="#4a4a4a"/><circle cx="175.03" cy="888.91" r="3.6"/><circle cx="175.03" cy="888.91" r="1.37" fill="#4a4a4a"/><circle cx="180.96" cy="889.67" r="3.6"/><circle cx="180.96" cy="889.67" r="1.37" fill="#4a4a4a"/><circle cx="186.89" cy="890.44" r="3.6"/><circle cx="186.89" cy="890.44" r="1.37" fill="#4a4a4a"/><circle cx="192.82" cy="891.2" r="3.6"/><circle cx="192.82" cy="891.2" r="1.37" fill="#4a4a4a"/><circle cx="198.74" cy="891.97" r="3.6"/><circle cx="198.74" cy="891.97" r="1.37" fill="#4a4a4a"/><circle cx="204.67" cy="891.99" r="3.6"/><circle cx="204.67" cy="891.99" r="1.37" fill="#4a4a4a"/><circle cx="210.6" cy="891.23" r="3.6"/><circle cx="210.6" cy="891.23" r="1.37" fill="#4a4a4a"/><circle cx="216.53" cy="890.46" r="3.6"/><circle cx="216.53" cy="890.46" r="1.37" fill="#4a4a4a"/><circle cx="222.46" cy="889.7" r="3.6"/><circle cx="222.46" cy="889.7" r="1.37" fill="#4a4a4a"/><circle cx="228.38" cy="888.93" r="3.6"/><circle cx="228.38" cy="888.93" r="1.37" fill="#4a4a4a"/><circle cx="234.19" cy="888.17" r="3.6"/><circle cx="234.19" cy="888.17" r="1.37" fill="#4a4a4a"/><circle cx="238.59" cy="887.4" r="3.6"/><circle cx="238.59" cy="887.4" r="1.37" fill="#4a4a4a"/><circle cx="243" cy="886.63" r="3.6"/><circle cx="243" cy="886.63" r="1.37" fill="#4a4a4a"/><circle cx="247.4" cy="885.87" r="3.6"/><circle cx="247.4" cy="885.87" r="1.37" fill="#4a4a4a"/><circle cx="251.81" cy="885.1" r="3.6"/><circle cx="251.81" cy="885.1" r="1.37" fill="#4a4a4a"/><circle cx="256.21" cy="884.34" r="3.6"/><circle cx="256.21" cy="884.34" r="1.37" fill="#4a4a4a"/><circle cx="260.62" cy="883.57" r="3.6"/><circle cx="260.62" cy="883.57" r="1.37" fill="#4a4a4a"/><circle cx="140.4" cy="894.62" r="3.6"/><circle cx="140.4" cy="894.62" r="1.37" fill="#4a4a4a"/><circle cx="145.98" cy="894.62" r="3.6"/><circle cx="145.98" cy="894.62" r="1.37" fill="#4a4a4a"/><circle cx="151.48" cy="895.28" r="3.6"/><circle cx="151.48" cy="895.28" r="1.37" fill="#4a4a4a"/><circle cx="157.33" cy="895.66" r="3.6"/><circle cx="157.33" cy="895.66" r="1.37" fill="#4a4a4a"/><circle cx="162.91" cy="896.22" r="3.6"/><circle cx="162.91" cy="896.22" r="1.37" fill="#4a4a4a"/><circle cx="168.42" cy="897.83" r="3.6"/><circle cx="168.42" cy="897.83" r="1.37" fill="#4a4a4a"/><circle cx="175.45" cy="899.81" r="3.6"/><circle cx="175.45" cy="899.81" r="1.37" fill="#4a4a4a"/><circle cx="182.86" cy="901.31" r="3.6"/><circle cx="182.86" cy="901.31" r="1.37" fill="#4a4a4a"/><circle cx="190.36" cy="903.39" r="3.6"/><circle cx="190.36" cy="903.39" r="1.37" fill="#4a4a4a"/><circle cx="198.05" cy="904.61" r="3.6"/><circle cx="198.05" cy="904.61" r="1.37" fill="#4a4a4a"/><circle cx="205.55" cy="905.55" r="3.6"/><circle cx="205.55" cy="905.55" r="1.37" fill="#4a4a4a"/><circle cx="213.24" cy="904.61" r="3.6"/><circle cx="213.24" cy="904.61" r="1.37" fill="#4a4a4a"/><circle cx="220.74" cy="902.35" r="3.6"/><circle cx="220.74" cy="902.35" r="1.37" fill="#4a4a4a"/><circle cx="228.24" cy="900.46" r="3.6"/><circle cx="228.24" cy="900.46" r="1.37" fill="#4a4a4a"/><circle cx="235.19" cy="899.15" r="3.6"/><circle cx="235.19" cy="899.15" r="1.37" fill="#4a4a4a"/><circle cx="240.83" cy="897.45" r="3.6"/><circle cx="240.83" cy="897.45" r="1.37" fill="#4a4a4a"/><circle cx="246.54" cy="896.22" r="3.6"/><circle cx="246.54" cy="896.22" r="1.37" fill="#4a4a4a"/><circle cx="252.12" cy="895.28" r="3.6"/><circle cx="252.12" cy="895.28" r="1.37" fill="#4a4a4a"/><circle cx="257.83" cy="894.91" r="3.6"/><circle cx="257.83" cy="894.91" r="1.37" fill="#4a4a4a"/><circle cx="263.47" cy="894.62" r="3.6"/><circle cx="263.47" cy="894.62" r="1.37" fill="#4a4a4a"/><circle cx="141.35" cy="907.44" r="3.6"/><circle cx="141.35" cy="907.44" r="1.37" fill="#4a4a4a"/><circle cx="147.9" cy="908.1" r="3.6"/><circle cx="147.9" cy="908.1" r="1.37" fill="#4a4a4a"/><circle cx="154.45" cy="909.42" r="3.6"/><circle cx="154.45" cy="909.42" r="1.37" fill="#4a4a4a"/><circle cx="161" cy="911.02" r="3.6"/><circle cx="161" cy="911.02" r="1.37" fill="#4a4a4a"/><circle cx="167.54" cy="912.62" r="3.6"/><circle cx="167.54" cy="912.62" r="1.37" fill="#4a4a4a"/><circle cx="175.59" cy="913.28" r="3.6"/><circle cx="175.59" cy="913.28" r="1.37" fill="#4a4a4a"/><circle cx="184.4" cy="914.13" r="3.6"/><circle cx="184.4" cy="914.13" r="1.37" fill="#4a4a4a"/><circle cx="193.21" cy="917.05" r="3.6"/><circle cx="193.21" cy="917.05" r="1.37" fill="#4a4a4a"/><circle cx="202.02" cy="917.71" r="3.6"/><circle cx="202.02" cy="917.71" r="1.37" fill="#4a4a4a"/><circle cx="210.83" cy="917.71" r="3.6"/><circle cx="210.83" cy="917.71" r="1.37" fill="#4a4a4a"/><circle cx="219.64" cy="915.16" r="3.6"/><circle cx="219.64" cy="915.16" r="1.37" fill="#4a4a4a"/><circle cx="228.45" cy="914.13" r="3.6"/><circle cx="228.45" cy="914.13" r="1.37" fill="#4a4a4a"/><circle cx="236.38" cy="913.66" r="3.6"/><circle cx="236.38" cy="913.66" r="1.37" fill="#4a4a4a"/><circle cx="242.93" cy="912.34" r="3.6"/><circle cx="242.93" cy="912.34" r="1.37" fill="#4a4a4a"/><circle cx="249.48" cy="909.42" r="3.6"/><circle cx="249.48" cy="909.42" r="1.37" fill="#4a4a4a"/><circle cx="256.03" cy="908.1" r="3.6"/><circle cx="256.03" cy="908.1" r="1.37" fill="#4a4a4a"/><circle cx="262.58" cy="908.1" r="3.6"/><circle cx="262.58" cy="908.1" r="1.37" fill="#4a4a4a"/><circle cx="158.83" cy="866.45" r="3.6"/><circle cx="158.83" cy="866.45" r="1.37" fill="#4a4a4a"/><circle cx="165.63" cy="866.92" r="3.6"/><circle cx="165.63" cy="866.92" r="1.37" fill="#4a4a4a"/><circle cx="173.34" cy="867.39" r="3.6"/><circle cx="173.34" cy="867.39" r="1.37" fill="#4a4a4a"/><circle cx="184.32" cy="867.86" r="3.6"/><circle cx="184.32" cy="867.86" r="1.37" fill="#4a4a4a"/><circle cx="195.3" cy="868.8" r="3.6"/><circle cx="195.3" cy="868.8" r="1.37" fill="#4a4a4a"/><circle cx="208.11" cy="868.8" r="3.6"/><circle cx="208.11" cy="868.8" r="1.37" fill="#4a4a4a"/><circle cx="219.09" cy="867.86" r="3.6"/><circle cx="219.09" cy="867.86" r="1.37" fill="#4a4a4a"/><circle cx="230.07" cy="867.39" r="3.6"/><circle cx="230.07" cy="867.39" r="1.37" fill="#4a4a4a"/><circle cx="239.2" cy="866.92" r="3.6"/><circle cx="239.2" cy="866.92" r="1.37" fill="#4a4a4a"/><circle cx="246" cy="866.45" r="3.6"/><circle cx="246" cy="866.45" r="1.37" fill="#4a4a4a"/><circle cx="197.13" cy="879.17" r="3.6"/><circle cx="197.13" cy="879.17" r="1.37" fill="#4a4a4a"/><circle cx="206.28" cy="879.17" r="3.6"/><circle cx="206.28" cy="879.17" r="1.37" fill="#4a4a4a"/><circle cx="201.71" cy="885.77" r="3.6"/><circle cx="201.71" cy="885.77" r="1.37" fill="#4a4a4a"/><circle cx="193.47" cy="877.28" r="3.6"/><circle cx="193.47" cy="877.28" r="1.37" fill="#4a4a4a"/><circle cx="209.94" cy="877.28" r="3.6"/><circle cx="209.94" cy="877.28" r="1.37" fill="#4a4a4a"/></g>
<line x1="137.4" y1="859.76" x2="265.8" y2="859.76" stroke="#262626" stroke-width="3.2" stroke-linecap="round"/>
<line x1="168.3" y1="855.36" x2="234.9" y2="855.36" stroke="#262626" stroke-width="3.2" stroke-linecap="round"/>
<line x1="168.3" y1="864.16" x2="234.9" y2="864.16" stroke="#262626" stroke-width="3.2" stroke-linecap="round"/>
<line x1="201.6" y1="855.36" x2="201.6" y2="864.16" stroke="#262626" stroke-width="3.2" stroke-linecap="butt"/>
<g fill="#2a2a2a"><rect x="391" y="728.7" width="7.4" height="7.4"/><rect x="379.3" y="750.3" width="7.4" height="7.4"/><rect x="391" y="753.8" width="7.4" height="7.4"/><rect x="402.6" y="747.7" width="7.4" height="7.4"/><rect x="391.1" y="808.3" width="7.4" height="7.4"/><rect x="402.7" y="819.6" width="7.4" height="7.4"/><rect x="379.3" y="825.5" width="7.4" height="7.4"/><rect x="391.1" y="827.1" width="7.4" height="7.4"/><rect x="367.6" y="841.9" width="7.4" height="7.4"/><rect x="379.3" y="845.9" width="7.4" height="7.4"/><rect x="402.7" y="847" width="7.4" height="7.4"/><rect x="414.3" y="842.1" width="7.4" height="7.4"/><rect x="391.1" y="852.9" width="7.4" height="7.4"/><rect x="385" y="857.2" width="7.4" height="7.4"/><rect x="395.8" y="868.4" width="7.4" height="7.4"/><rect x="367.6" y="874.9" width="7.4" height="7.4"/><rect x="414.3" y="877" width="7.4" height="7.4"/><rect x="379.3" y="883.5" width="7.4" height="7.4"/><rect x="391.1" y="884.5" width="7.4" height="7.4"/><rect x="402.7" y="883.5" width="7.4" height="7.4"/><rect x="373.7" y="889.4" width="7.4" height="7.4"/><rect x="408.6" y="893.1" width="7.4" height="7.4"/><rect x="385" y="898.5" width="7.4" height="7.4"/><rect x="396.8" y="899" width="7.4" height="7.4"/><rect x="367.6" y="903.6" width="7.4" height="7.4"/><rect x="420.1" y="907.4" width="7.4" height="7.4"/><rect x="344.4" y="915.7" width="7.4" height="7.4"/><rect x="356.3" y="916.2" width="7.4" height="7.4"/><rect x="367.6" y="919.7" width="7.4" height="7.4"/><rect x="379.3" y="912.1" width="7.4" height="7.4"/><rect x="391.1" y="914.1" width="7.4" height="7.4"/><rect x="408.6" y="913.5" width="7.4" height="7.4"/><rect x="402.7" y="920" width="7.4" height="7.4"/><rect x="414.3" y="919.7" width="7.4" height="7.4"/><rect x="425.8" y="915.7" width="7.4" height="7.4"/><rect x="437.6" y="915.7" width="7.4" height="7.4"/><rect x="379.3" y="925" width="7.4" height="7.4"/><rect x="391.1" y="926.4" width="7.4" height="7.4"/><rect x="396.8" y="940.9" width="7.4" height="7.4"/><rect x="385" y="946.8" width="7.4" height="7.4"/></g>
<line x1="331" y1="876.4" x2="459.4" y2="876.4" stroke="#262626" stroke-width="3.2" stroke-linecap="round"/>
<line x1="362.2" y1="867.5" x2="428.2" y2="867.5" stroke="#262626" stroke-width="3.2" stroke-linecap="round"/>
<line x1="362.2" y1="885" x2="428.2" y2="885" stroke="#262626" stroke-width="3.2" stroke-linecap="round"/>
<line x1="395.2" y1="867.5" x2="395.2" y2="885" stroke="#262626" stroke-width="3.2" stroke-linecap="butt"/>
<g fill="#2a2a2a"><path d="M588.4 703.6L592.3 711.01L584.5 711.01Z"/><path d="M570.9 803.3L574.8 810.71L567 810.71Z"/><path d="M594.1 803.3L598 810.71L590.2 810.71Z"/><path d="M605.6 802.7L609.5 810.11L601.7 810.11Z"/><path d="M582.5 808.9L586.4 816.31L578.6 816.31Z"/><path d="M599.9 812.9L603.8 820.31L596 820.31Z"/><path d="M576.6 818.9L580.5 826.31L572.7 826.31Z"/><path d="M588.2 822.1L592.1 829.51L584.3 829.51Z"/><path d="M605.6 838.9L609.5 846.31L601.7 846.31Z"/><path d="M570.9 847.8L574.8 855.21L567 855.21Z"/><path d="M582.5 850L586.4 857.41L578.6 857.41Z"/><path d="M594.1 847.8L598 855.21L590.2 855.21Z"/><path d="M588.2 869.6L592.1 877.01L584.3 877.01Z"/><path d="M565 876.1L568.9 883.51L561.1 883.51Z"/><path d="M576.6 881.1L580.5 888.51L572.7 888.51Z"/><path d="M605.6 881.1L609.5 888.51L601.7 888.51Z"/><path d="M617.2 880.1L621.1 887.51L613.3 887.51Z"/><path d="M599.9 888.6L603.8 896.01L596 896.01Z"/><path d="M576.6 895.6L580.5 903.01L572.7 903.01Z"/><path d="M588.2 895.6L592.1 903.01L584.3 903.01Z"/><path d="M530.2 901.9L534.1 909.31L526.3 909.31Z"/><path d="M541.9 903.7L545.8 911.11L538 911.11Z"/><path d="M553.5 905.3L557.4 912.71L549.6 912.71Z"/><path d="M565 907.4L568.9 914.81L561.1 914.81Z"/><path d="M576.6 909.4L580.5 916.81L572.7 916.81Z"/><path d="M594.1 908L598 915.41L590.2 915.41Z"/><path d="M605.6 906.4L609.5 913.81L601.7 913.81Z"/><path d="M617.2 903.7L621.1 911.11L613.3 911.11Z"/><path d="M629.2 903.7L633.1 911.11L625.3 911.11Z"/><path d="M640.7 899.9L644.6 907.31L636.8 907.31Z"/><path d="M570.9 914.4L574.8 921.81L567 921.81Z"/><path d="M582.5 919.2L586.4 926.61L578.6 926.61Z"/><path d="M611.5 916.6L615.4 924.01L607.6 924.01Z"/><path d="M599.9 923.3L603.8 930.71L596 930.71Z"/><path d="M582.5 935.4L586.4 942.81L578.6 942.81Z"/><path d="M594.1 933.2L598 940.61L590.2 940.61Z"/><path d="M576.6 947.7L580.5 955.11L572.7 955.11Z"/><path d="M588.2 950.9L592.1 958.31L584.3 958.31Z"/><path d="M599.9 945L603.8 952.41L596 952.41Z"/><path d="M576.6 962.2L580.5 969.61L572.7 969.61Z"/><path d="M588.2 968.1L592.1 975.51L584.3 975.51Z"/><path d="M599.9 966.5L603.8 973.91L596 973.91Z"/></g>
<line x1="524.4" y1="887.9" x2="652.4" y2="887.9" stroke="#262626" stroke-width="3.2" stroke-linecap="round"/>
<line x1="555.1" y1="879.7" x2="621.7" y2="879.7" stroke="#262626" stroke-width="3.2" stroke-linecap="round"/>
<line x1="555.1" y1="896.3" x2="621.7" y2="896.3" stroke="#262626" stroke-width="3.2" stroke-linecap="round"/>
<line x1="588.4" y1="879.7" x2="588.4" y2="896.3" stroke="#262626" stroke-width="3.2" stroke-linecap="butt"/>
<text x="386" y="670.5" font-size="50" text-anchor="middle" font-weight="bold" fill="#231f20">*</text>
<text x="579" y="670.5" font-size="50" text-anchor="middle" font-weight="bold" fill="#231f20">**</text>
<text x="737" y="619.5" font-size="40" text-anchor="start" font-weight="bold" fill="#1a1a1a">d</text>
<line x1="861.2" y1="615" x2="861.2" y2="1012.5" stroke="#2e2e2e" stroke-width="5" stroke-linecap="butt"/>
<line x1="849" y1="999.7" x2="861.2" y2="999.7" stroke="#2e2e2e" stroke-width="5" stroke-linecap="butt"/>
<text x="837" y="1009.84" font-size="28.8" text-anchor="end" fill="#231f20">0</text>
<line x1="849" y1="872.3" x2="861.2" y2="872.3" stroke="#2e2e2e" stroke-width="5" stroke-linecap="butt"/>
<text x="837" y="882.44" font-size="28.8" text-anchor="end" fill="#231f20">1</text>
<line x1="849" y1="744.9" x2="861.2" y2="744.9" stroke="#2e2e2e" stroke-width="5" stroke-linecap="butt"/>
<text x="837" y="755.04" font-size="28.8" text-anchor="end" fill="#231f20">2</text>
<line x1="849" y1="617.5" x2="861.2" y2="617.5" stroke="#2e2e2e" stroke-width="5" stroke-linecap="butt"/>
<text x="837" y="627.64" font-size="28.8" text-anchor="end" fill="#231f20">3</text>
<line x1="849" y1="999.7" x2="1376" y2="999.7" stroke="#2e2e2e" stroke-width="5" stroke-linecap="butt"/>
<line x1="861.2" y1="999.7" x2="861.2" y2="1012.5" stroke="#2e2e2e" stroke-width="5" stroke-linecap="butt"/>
<text x="861.2" y="1046.6" font-size="28.8" text-anchor="middle" fill="#231f20">0</text>
<line x1="912.58" y1="999.7" x2="912.58" y2="1012.5" stroke="#2e2e2e" stroke-width="5" stroke-linecap="butt"/>
<text x="912.58" y="1046.6" font-size="28.8" text-anchor="middle" fill="#231f20">10</text>
<line x1="963.96" y1="999.7" x2="963.96" y2="1012.5" stroke="#2e2e2e" stroke-width="5" stroke-linecap="butt"/>
<text x="963.96" y="1046.6" font-size="28.8" text-anchor="middle" fill="#231f20">20</text>
<line x1="1015.34" y1="999.7" x2="1015.34" y2="1012.5" stroke="#2e2e2e" stroke-width="5" stroke-linecap="butt"/>
<text x="1015.34" y="1046.6" font-size="28.8" text-anchor="middle" fill="#231f20">30</text>
<line x1="1066.72" y1="999.7" x2="1066.72" y2="1012.5" stroke="#2e2e2e" stroke-width="5" stroke-linecap="butt"/>
<text x="1066.72" y="1046.6" font-size="28.8" text-anchor="middle" fill="#231f20">40</text>
<line x1="1118.1" y1="999.7" x2="1118.1" y2="1012.5" stroke="#2e2e2e" stroke-width="5" stroke-linecap="butt"/>
<text x="1118.1" y="1046.6" font-size="28.8" text-anchor="middle" fill="#231f20">50</text>
<line x1="1169.48" y1="999.7" x2="1169.48" y2="1012.5" stroke="#2e2e2e" stroke-width="5" stroke-linecap="butt"/>
<text x="1169.48" y="1046.6" font-size="28.8" text-anchor="middle" fill="#231f20">60</text>
<line x1="1220.86" y1="999.7" x2="1220.86" y2="1012.5" stroke="#2e2e2e" stroke-width="5" stroke-linecap="butt"/>
<text x="1220.86" y="1046.6" font-size="28.8" text-anchor="middle" fill="#231f20">70</text>
<line x1="1272.24" y1="999.7" x2="1272.24" y2="1012.5" stroke="#2e2e2e" stroke-width="5" stroke-linecap="butt"/>
<text x="1272.24" y="1046.6" font-size="28.8" text-anchor="middle" fill="#231f20">80</text>
<line x1="1323.62" y1="999.7" x2="1323.62" y2="1012.5" stroke="#2e2e2e" stroke-width="5" stroke-linecap="butt"/>
<text x="1323.62" y="1046.6" font-size="28.8" text-anchor="middle" fill="#231f20">90</text>
<line x1="1375" y1="999.7" x2="1375" y2="1012.5" stroke="#2e2e2e" stroke-width="5" stroke-linecap="butt"/>
<text x="1375" y="1046.6" font-size="28.8" text-anchor="middle" fill="#231f20">100</text>
<text x="1113.4" y="1088" font-size="29.5" text-anchor="middle" fill="#231f20">Birth weight centile (%)</text>
<text x="0" y="0" font-size="29.1" text-anchor="middle" fill="#231f20" transform="translate(795.3,813.9) rotate(-90)">SPINT1 (MoM)</text>
<text x="1061.5" y="637.1" font-size="29.4" fill="#231f20"><tspan font-style="italic">R</tspan><tspan font-size="19" dx="1.5" dy="-12">2</tspan><tspan dy="12"> = 0.040, </tspan><tspan font-style="italic">p</tspan> = 0.0006</text>
<g fill="#2a2a2a"><circle cx="926.1" cy="665.6" r="3.3"/><circle cx="926.1" cy="665.6" r="1.25" fill="#4a4a4a"/><circle cx="943.8" cy="702.6" r="3.3"/><circle cx="943.8" cy="702.6" r="1.25" fill="#4a4a4a"/><circle cx="880.2" cy="710.6" r="3.3"/><circle cx="880.2" cy="710.6" r="1.25" fill="#4a4a4a"/><circle cx="891" cy="735.8" r="3.3"/><circle cx="891" cy="735.8" r="1.25" fill="#4a4a4a"/><circle cx="889.5" cy="754.8" r="3.3"/><circle cx="889.5" cy="754.8" r="1.25" fill="#4a4a4a"/><circle cx="893.9" cy="757.6" r="3.3"/><circle cx="893.9" cy="757.6" r="1.25" fill="#4a4a4a"/><circle cx="892" cy="760.8" r="3.3"/><circle cx="892" cy="760.8" r="1.25" fill="#4a4a4a"/><circle cx="1082" cy="727.8" r="3.3"/><circle cx="1082" cy="727.8" r="1.25" fill="#4a4a4a"/><circle cx="1096.8" cy="735.2" r="3.3"/><circle cx="1096.8" cy="735.2" r="1.25" fill="#4a4a4a"/><circle cx="1114.3" cy="757.6" r="3.3"/><circle cx="1114.3" cy="757.6" r="1.25" fill="#4a4a4a"/><circle cx="1109.2" cy="762" r="3.3"/><circle cx="1109.2" cy="762" r="1.25" fill="#4a4a4a"/><circle cx="1095.3" cy="769.6" r="3.3"/><circle cx="1095.3" cy="769.6" r="1.25" fill="#4a4a4a"/><circle cx="969.8" cy="785.5" r="3.3"/><circle cx="969.8" cy="785.5" r="1.25" fill="#4a4a4a"/><circle cx="1034.8" cy="785.1" r="3.3"/><circle cx="1034.8" cy="785.1" r="1.25" fill="#4a4a4a"/><circle cx="1108.8" cy="786.6" r="3.3"/><circle cx="1108.8" cy="786.6" r="1.25" fill="#4a4a4a"/><circle cx="1095.9" cy="789.8" r="3.3"/><circle cx="1095.9" cy="789.8" r="1.25" fill="#4a4a4a"/><circle cx="943.2" cy="794" r="3.3"/><circle cx="943.2" cy="794" r="1.25" fill="#4a4a4a"/><circle cx="948" cy="802.6" r="3.3"/><circle cx="948" cy="802.6" r="1.25" fill="#4a4a4a"/><circle cx="1031.4" cy="804.1" r="3.3"/><circle cx="1031.4" cy="804.1" r="1.25" fill="#4a4a4a"/><circle cx="1080.1" cy="800.7" r="3.3"/><circle cx="1080.1" cy="800.7" r="1.25" fill="#4a4a4a"/><circle cx="1091.2" cy="812.2" r="3.3"/><circle cx="1091.2" cy="812.2" r="1.25" fill="#4a4a4a"/><circle cx="1014.3" cy="813.6" r="3.3"/><circle cx="1014.3" cy="813.6" r="1.25" fill="#4a4a4a"/><circle cx="890.5" cy="814.9" r="3.3"/><circle cx="890.5" cy="814.9" r="1.25" fill="#4a4a4a"/><circle cx="864.5" cy="808.4" r="3.3"/><circle cx="864.5" cy="808.4" r="1.25" fill="#4a4a4a"/><circle cx="874" cy="807.9" r="3.3"/><circle cx="874" cy="807.9" r="1.25" fill="#4a4a4a"/><circle cx="877.4" cy="808.8" r="3.3"/><circle cx="877.4" cy="808.8" r="1.25" fill="#4a4a4a"/><circle cx="866.4" cy="814.5" r="3.3"/><circle cx="866.4" cy="814.5" r="1.25" fill="#4a4a4a"/><circle cx="875.5" cy="818.3" r="3.3"/><circle cx="875.5" cy="818.3" r="1.25" fill="#4a4a4a"/><circle cx="961.2" cy="819.2" r="3.3"/><circle cx="961.2" cy="819.2" r="1.25" fill="#4a4a4a"/><circle cx="966.9" cy="820.2" r="3.3"/><circle cx="966.9" cy="820.2" r="1.25" fill="#4a4a4a"/><circle cx="1129.1" cy="659.3" r="3.3"/><circle cx="1129.1" cy="659.3" r="1.25" fill="#4a4a4a"/><circle cx="1134.7" cy="701.5" r="3.3"/><circle cx="1134.7" cy="701.5" r="1.25" fill="#4a4a4a"/><circle cx="1339.8" cy="703.8" r="3.3"/><circle cx="1339.8" cy="703.8" r="1.25" fill="#4a4a4a"/><circle cx="1336.7" cy="729.3" r="3.3"/><circle cx="1336.7" cy="729.3" r="1.25" fill="#4a4a4a"/><circle cx="1193.9" cy="736.6" r="3.3"/><circle cx="1193.9" cy="736.6" r="1.25" fill="#4a4a4a"/><circle cx="1177.8" cy="748.6" r="3.3"/><circle cx="1177.8" cy="748.6" r="1.25" fill="#4a4a4a"/><circle cx="1147.5" cy="752.7" r="3.3"/><circle cx="1147.5" cy="752.7" r="1.25" fill="#4a4a4a"/><circle cx="1245.5" cy="749.8" r="3.3"/><circle cx="1245.5" cy="749.8" r="1.25" fill="#4a4a4a"/><circle cx="1229" cy="763.1" r="3.3"/><circle cx="1229" cy="763.1" r="1.25" fill="#4a4a4a"/><circle cx="1176.3" cy="773.4" r="3.3"/><circle cx="1176.3" cy="773.4" r="1.25" fill="#4a4a4a"/><circle cx="1235.8" cy="774.3" r="3.3"/><circle cx="1235.8" cy="774.3" r="1.25" fill="#4a4a4a"/><circle cx="1152.3" cy="798.1" r="3.3"/><circle cx="1152.3" cy="798.1" r="1.25" fill="#4a4a4a"/><circle cx="1162.4" cy="798.9" r="3.3"/><circle cx="1162.4" cy="798.9" r="1.25" fill="#4a4a4a"/><circle cx="1184.2" cy="796.9" r="3.3"/><circle cx="1184.2" cy="796.9" r="1.25" fill="#4a4a4a"/><circle cx="1190.4" cy="797.5" r="3.3"/><circle cx="1190.4" cy="797.5" r="1.25" fill="#4a4a4a"/><circle cx="1284.1" cy="792.7" r="3.3"/><circle cx="1284.1" cy="792.7" r="1.25" fill="#4a4a4a"/><circle cx="1330.5" cy="790.8" r="3.3"/><circle cx="1330.5" cy="790.8" r="1.25" fill="#4a4a4a"/><circle cx="1341.1" cy="786.5" r="3.3"/><circle cx="1341.1" cy="786.5" r="1.25" fill="#4a4a4a"/><circle cx="1206.8" cy="811.6" r="3.3"/><circle cx="1206.8" cy="811.6" r="1.25" fill="#4a4a4a"/><circle cx="1231" cy="816.3" r="3.3"/><circle cx="1231" cy="816.3" r="1.25" fill="#4a4a4a"/><circle cx="1285.5" cy="809.7" r="3.3"/><circle cx="1285.5" cy="809.7" r="1.25" fill="#4a4a4a"/><circle cx="1316" cy="816.3" r="3.3"/><circle cx="1316" cy="816.3" r="1.25" fill="#4a4a4a"/><circle cx="1341.1" cy="817.4" r="3.3"/><circle cx="1341.1" cy="817.4" r="1.25" fill="#4a4a4a"/><circle cx="1373" cy="807.8" r="3.3"/><circle cx="1373" cy="807.8" r="1.25" fill="#4a4a4a"/><circle cx="867" cy="824.5" r="3.3"/><circle cx="867" cy="824.5" r="1.25" fill="#4a4a4a"/><circle cx="870.5" cy="827.5" r="3.3"/><circle cx="870.5" cy="827.5" r="1.25" fill="#4a4a4a"/><circle cx="902.9" cy="825.5" r="3.3"/><circle cx="902.9" cy="825.5" r="1.25" fill="#4a4a4a"/><circle cx="887.1" cy="833.5" r="3.3"/><circle cx="887.1" cy="833.5" r="1.25" fill="#4a4a4a"/><circle cx="890.6" cy="831.5" r="3.3"/><circle cx="890.6" cy="831.5" r="1.25" fill="#4a4a4a"/><circle cx="923.1" cy="835.5" r="3.3"/><circle cx="923.1" cy="835.5" r="1.25" fill="#4a4a4a"/><circle cx="948.2" cy="835" r="3.3"/><circle cx="948.2" cy="835" r="1.25" fill="#4a4a4a"/><circle cx="954.7" cy="830" r="3.3"/><circle cx="954.7" cy="830" r="1.25" fill="#4a4a4a"/><circle cx="954.7" cy="833" r="3.3"/><circle cx="954.7" cy="833" r="1.25" fill="#4a4a4a"/><circle cx="955.2" cy="842.6" r="3.3"/><circle cx="955.2" cy="842.6" r="1.25" fill="#4a4a4a"/><circle cx="990.8" cy="841.6" r="3.3"/><circle cx="990.8" cy="841.6" r="1.25" fill="#4a4a4a"/><circle cx="864" cy="844.6" r="3.3"/><circle cx="864" cy="844.6" r="1.25" fill="#4a4a4a"/><circle cx="889.6" cy="848.1" r="3.3"/><circle cx="889.6" cy="848.1" r="1.25" fill="#4a4a4a"/><circle cx="879.6" cy="852.6" r="3.3"/><circle cx="879.6" cy="852.6" r="1.25" fill="#4a4a4a"/><circle cx="882.6" cy="854.6" r="3.3"/><circle cx="882.6" cy="854.6" r="1.25" fill="#4a4a4a"/><circle cx="899.1" cy="852.6" r="3.3"/><circle cx="899.1" cy="852.6" r="1.25" fill="#4a4a4a"/><circle cx="904.6" cy="851.6" r="3.3"/><circle cx="904.6" cy="851.6" r="1.25" fill="#4a4a4a"/><circle cx="909.1" cy="847.6" r="3.3"/><circle cx="909.1" cy="847.6" r="1.25" fill="#4a4a4a"/><circle cx="905.1" cy="862.1" r="3.3"/><circle cx="905.1" cy="862.1" r="1.25" fill="#4a4a4a"/><circle cx="910.6" cy="858.6" r="3.3"/><circle cx="910.6" cy="858.6" r="1.25" fill="#4a4a4a"/><circle cx="945.7" cy="860.6" r="3.3"/><circle cx="945.7" cy="860.6" r="1.25" fill="#4a4a4a"/><circle cx="958.2" cy="861.6" r="3.3"/><circle cx="958.2" cy="861.6" r="1.25" fill="#4a4a4a"/><circle cx="951.2" cy="867.1" r="3.3"/><circle cx="951.2" cy="867.1" r="1.25" fill="#4a4a4a"/><circle cx="884.1" cy="874.1" r="3.3"/><circle cx="884.1" cy="874.1" r="1.25" fill="#4a4a4a"/><circle cx="909.6" cy="872.9" r="3.3"/><circle cx="909.6" cy="872.9" r="1.25" fill="#4a4a4a"/><circle cx="935.2" cy="872.1" r="3.3"/><circle cx="935.2" cy="872.1" r="1.25" fill="#4a4a4a"/><circle cx="973.2" cy="870.1" r="3.3"/><circle cx="973.2" cy="870.1" r="1.25" fill="#4a4a4a"/><circle cx="983.3" cy="869.1" r="3.3"/><circle cx="983.3" cy="869.1" r="1.25" fill="#4a4a4a"/><circle cx="990.3" cy="868.6" r="3.3"/><circle cx="990.3" cy="868.6" r="1.25" fill="#4a4a4a"/><circle cx="900.1" cy="878.6" r="3.3"/><circle cx="900.1" cy="878.6" r="1.25" fill="#4a4a4a"/><circle cx="908.1" cy="881.1" r="3.3"/><circle cx="908.1" cy="881.1" r="1.25" fill="#4a4a4a"/><circle cx="865" cy="883.1" r="3.3"/><circle cx="865" cy="883.1" r="1.25" fill="#4a4a4a"/><circle cx="873" cy="886.1" r="3.3"/><circle cx="873" cy="886.1" r="1.25" fill="#4a4a4a"/><circle cx="886.6" cy="885.1" r="3.3"/><circle cx="886.6" cy="885.1" r="1.25" fill="#4a4a4a"/><circle cx="899.1" cy="888.2" r="3.3"/><circle cx="899.1" cy="888.2" r="1.25" fill="#4a4a4a"/><circle cx="917.1" cy="888.2" r="3.3"/><circle cx="917.1" cy="888.2" r="1.25" fill="#4a4a4a"/><circle cx="921.1" cy="888.7" r="3.3"/><circle cx="921.1" cy="888.7" r="1.25" fill="#4a4a4a"/><circle cx="935.2" cy="887.2" r="3.3"/><circle cx="935.2" cy="887.2" r="1.25" fill="#4a4a4a"/><circle cx="951.2" cy="885.1" r="3.3"/><circle cx="951.2" cy="885.1" r="1.25" fill="#4a4a4a"/><circle cx="968.7" cy="885.1" r="3.3"/><circle cx="968.7" cy="885.1" r="1.25" fill="#4a4a4a"/><circle cx="992.3" cy="885.1" r="3.3"/><circle cx="992.3" cy="885.1" r="1.25" fill="#4a4a4a"/><circle cx="864.5" cy="892.7" r="3.3"/><circle cx="864.5" cy="892.7" r="1.25" fill="#4a4a4a"/><circle cx="917.6" cy="892.7" r="3.3"/><circle cx="917.6" cy="892.7" r="1.25" fill="#4a4a4a"/><circle cx="934.2" cy="890.7" r="3.3"/><circle cx="934.2" cy="890.7" r="1.25" fill="#4a4a4a"/><circle cx="936.2" cy="894.2" r="3.3"/><circle cx="936.2" cy="894.2" r="1.25" fill="#4a4a4a"/><circle cx="907.1" cy="897.2" r="3.3"/><circle cx="907.1" cy="897.2" r="1.25" fill="#4a4a4a"/><circle cx="924.1" cy="897.7" r="3.3"/><circle cx="924.1" cy="897.7" r="1.25" fill="#4a4a4a"/><circle cx="945.7" cy="898.7" r="3.3"/><circle cx="945.7" cy="898.7" r="1.25" fill="#4a4a4a"/><circle cx="866" cy="900.2" r="3.3"/><circle cx="866" cy="900.2" r="1.25" fill="#4a4a4a"/><circle cx="886.9" cy="900.2" r="3.3"/><circle cx="886.9" cy="900.2" r="1.25" fill="#4a4a4a"/><circle cx="967" cy="896.7" r="3.3"/><circle cx="967" cy="896.7" r="1.25" fill="#4a4a4a"/><circle cx="910.6" cy="903.7" r="3.3"/><circle cx="910.6" cy="903.7" r="1.25" fill="#4a4a4a"/><circle cx="913.1" cy="905.2" r="3.3"/><circle cx="913.1" cy="905.2" r="1.25" fill="#4a4a4a"/><circle cx="943.2" cy="903.7" r="3.3"/><circle cx="943.2" cy="903.7" r="1.25" fill="#4a4a4a"/><circle cx="879.6" cy="904.7" r="3.3"/><circle cx="879.6" cy="904.7" r="1.25" fill="#4a4a4a"/><circle cx="873" cy="908.2" r="3.3"/><circle cx="873" cy="908.2" r="1.25" fill="#4a4a4a"/><circle cx="861" cy="909.2" r="3.3"/><circle cx="861" cy="909.2" r="1.25" fill="#4a4a4a"/><circle cx="862.5" cy="911.2" r="3.3"/><circle cx="862.5" cy="911.2" r="1.25" fill="#4a4a4a"/><circle cx="867" cy="912.7" r="3.3"/><circle cx="867" cy="912.7" r="1.25" fill="#4a4a4a"/><circle cx="925.6" cy="905.7" r="3.3"/><circle cx="925.6" cy="905.7" r="1.25" fill="#4a4a4a"/><circle cx="919.6" cy="909.7" r="3.3"/><circle cx="919.6" cy="909.7" r="1.25" fill="#4a4a4a"/><circle cx="932.2" cy="909.7" r="3.3"/><circle cx="932.2" cy="909.7" r="1.25" fill="#4a4a4a"/><circle cx="931.2" cy="914.2" r="3.3"/><circle cx="931.2" cy="914.2" r="1.25" fill="#4a4a4a"/><circle cx="901.1" cy="909.2" r="3.3"/><circle cx="901.1" cy="909.2" r="1.25" fill="#4a4a4a"/><circle cx="902.1" cy="912.2" r="3.3"/><circle cx="902.1" cy="912.2" r="1.25" fill="#4a4a4a"/><circle cx="990.8" cy="910.7" r="3.3"/><circle cx="990.8" cy="910.7" r="1.25" fill="#4a4a4a"/><circle cx="982.3" cy="913.7" r="3.3"/><circle cx="982.3" cy="913.7" r="1.25" fill="#4a4a4a"/><circle cx="882.1" cy="913.7" r="3.3"/><circle cx="882.1" cy="913.7" r="1.25" fill="#4a4a4a"/><circle cx="881.6" cy="919.2" r="3.3"/><circle cx="881.6" cy="919.2" r="1.25" fill="#4a4a4a"/><circle cx="881.6" cy="923.7" r="3.3"/><circle cx="881.6" cy="923.7" r="1.25" fill="#4a4a4a"/><circle cx="896.1" cy="918.2" r="3.3"/><circle cx="896.1" cy="918.2" r="1.25" fill="#4a4a4a"/><circle cx="893.1" cy="920.2" r="3.3"/><circle cx="893.1" cy="920.2" r="1.25" fill="#4a4a4a"/><circle cx="898.1" cy="920.2" r="3.3"/><circle cx="898.1" cy="920.2" r="1.25" fill="#4a4a4a"/><circle cx="910.1" cy="918.2" r="3.3"/><circle cx="910.1" cy="918.2" r="1.25" fill="#4a4a4a"/><circle cx="912.1" cy="920.6" r="3.3"/><circle cx="912.1" cy="920.6" r="1.25" fill="#4a4a4a"/><circle cx="907.1" cy="924.2" r="3.3"/><circle cx="907.1" cy="924.2" r="1.25" fill="#4a4a4a"/><circle cx="970.2" cy="919.2" r="3.3"/><circle cx="970.2" cy="919.2" r="1.25" fill="#4a4a4a"/><circle cx="863" cy="920.6" r="3.3"/><circle cx="863" cy="920.6" r="1.25" fill="#4a4a4a"/><circle cx="862" cy="927.2" r="3.3"/><circle cx="862" cy="927.2" r="1.25" fill="#4a4a4a"/><circle cx="893.6" cy="929.7" r="3.3"/><circle cx="893.6" cy="929.7" r="1.25" fill="#4a4a4a"/><circle cx="906.1" cy="931.2" r="3.3"/><circle cx="906.1" cy="931.2" r="1.25" fill="#4a4a4a"/><circle cx="920.6" cy="935.3" r="3.3"/><circle cx="920.6" cy="935.3" r="1.25" fill="#4a4a4a"/><circle cx="873.5" cy="937.8" r="3.3"/><circle cx="873.5" cy="937.8" r="1.25" fill="#4a4a4a"/><circle cx="885.1" cy="939.8" r="3.3"/><circle cx="885.1" cy="939.8" r="1.25" fill="#4a4a4a"/><circle cx="947.2" cy="942.3" r="3.3"/><circle cx="947.2" cy="942.3" r="1.25" fill="#4a4a4a"/><circle cx="900.6" cy="945.3" r="3.3"/><circle cx="900.6" cy="945.3" r="1.25" fill="#4a4a4a"/><circle cx="898.6" cy="951.3" r="3.3"/><circle cx="898.6" cy="951.3" r="1.25" fill="#4a4a4a"/><circle cx="883.1" cy="949.3" r="3.3"/><circle cx="883.1" cy="949.3" r="1.25" fill="#4a4a4a"/><circle cx="869" cy="952.3" r="3.3"/><circle cx="869" cy="952.3" r="1.25" fill="#4a4a4a"/><circle cx="869" cy="954.8" r="3.3"/><circle cx="869" cy="954.8" r="1.25" fill="#4a4a4a"/><circle cx="970" cy="960.8" r="3.3"/><circle cx="970" cy="960.8" r="1.25" fill="#4a4a4a"/><circle cx="968.2" cy="968.3" r="3.3"/><circle cx="968.2" cy="968.3" r="1.25" fill="#4a4a4a"/><circle cx="882.1" cy="966.3" r="3.3"/><circle cx="882.1" cy="966.3" r="1.25" fill="#4a4a4a"/><circle cx="876.5" cy="971.8" r="3.3"/><circle cx="876.5" cy="971.8" r="1.25" fill="#4a4a4a"/><circle cx="879" cy="969.8" r="3.3"/><circle cx="879" cy="969.8" r="1.25" fill="#4a4a4a"/><circle cx="1054.1" cy="828" r="3.3"/><circle cx="1054.1" cy="828" r="1.25" fill="#4a4a4a"/><circle cx="1062" cy="828" r="3.3"/><circle cx="1062" cy="828" r="1.25" fill="#4a4a4a"/><circle cx="1069.7" cy="831" r="3.3"/><circle cx="1069.7" cy="831" r="1.25" fill="#4a4a4a"/><circle cx="1093" cy="830.5" r="3.3"/><circle cx="1093" cy="830.5" r="1.25" fill="#4a4a4a"/><circle cx="1127.8" cy="828.5" r="3.3"/><circle cx="1127.8" cy="828.5" r="1.25" fill="#4a4a4a"/><circle cx="1022.9" cy="835" r="3.3"/><circle cx="1022.9" cy="835" r="1.25" fill="#4a4a4a"/><circle cx="1005" cy="853.1" r="3.3"/><circle cx="1005" cy="853.1" r="1.25" fill="#4a4a4a"/><circle cx="1060" cy="847.3" r="3.3"/><circle cx="1060" cy="847.3" r="1.25" fill="#4a4a4a"/><circle cx="1081.4" cy="849.3" r="3.3"/><circle cx="1081.4" cy="849.3" r="1.25" fill="#4a4a4a"/><circle cx="1089.7" cy="848.6" r="3.3"/><circle cx="1089.7" cy="848.6" r="1.25" fill="#4a4a4a"/><circle cx="1043.1" cy="856.1" r="3.3"/><circle cx="1043.1" cy="856.1" r="1.25" fill="#4a4a4a"/><circle cx="1042.6" cy="863.1" r="3.3"/><circle cx="1042.6" cy="863.1" r="1.25" fill="#4a4a4a"/><circle cx="1024.1" cy="865.6" r="3.3"/><circle cx="1024.1" cy="865.6" r="1.25" fill="#4a4a4a"/><circle cx="1004" cy="867.1" r="3.3"/><circle cx="1004" cy="867.1" r="1.25" fill="#4a4a4a"/><circle cx="994" cy="868.1" r="3.3"/><circle cx="994" cy="868.1" r="1.25" fill="#4a4a4a"/><circle cx="1080.7" cy="856.1" r="3.3"/><circle cx="1080.7" cy="856.1" r="1.25" fill="#4a4a4a"/><circle cx="1087.7" cy="856.6" r="3.3"/><circle cx="1087.7" cy="856.6" r="1.25" fill="#4a4a4a"/><circle cx="1119.8" cy="867.1" r="3.3"/><circle cx="1119.8" cy="867.1" r="1.25" fill="#4a4a4a"/><circle cx="1007" cy="876.1" r="3.3"/><circle cx="1007" cy="876.1" r="1.25" fill="#4a4a4a"/><circle cx="1031.1" cy="874.1" r="3.3"/><circle cx="1031.1" cy="874.1" r="1.25" fill="#4a4a4a"/><circle cx="1083.2" cy="874.6" r="3.3"/><circle cx="1083.2" cy="874.6" r="1.25" fill="#4a4a4a"/><circle cx="1078.2" cy="878.1" r="3.3"/><circle cx="1078.2" cy="878.1" r="1.25" fill="#4a4a4a"/><circle cx="1071.7" cy="880.6" r="3.3"/><circle cx="1071.7" cy="880.6" r="1.25" fill="#4a4a4a"/><circle cx="1094.7" cy="872.1" r="3.3"/><circle cx="1094.7" cy="872.1" r="1.25" fill="#4a4a4a"/><circle cx="1104.2" cy="874.1" r="3.3"/><circle cx="1104.2" cy="874.1" r="1.25" fill="#4a4a4a"/><circle cx="1121.3" cy="876.1" r="3.3"/><circle cx="1121.3" cy="876.1" r="1.25" fill="#4a4a4a"/><circle cx="997" cy="886" r="3.3"/><circle cx="997" cy="886" r="1.25" fill="#4a4a4a"/><circle cx="1017.1" cy="888.2" r="3.3"/><circle cx="1017.1" cy="888.2" r="1.25" fill="#4a4a4a"/><circle cx="1030.6" cy="885.6" r="3.3"/><circle cx="1030.6" cy="885.6" r="1.25" fill="#4a4a4a"/><circle cx="1040.6" cy="888.7" r="3.3"/><circle cx="1040.6" cy="888.7" r="1.25" fill="#4a4a4a"/><circle cx="1037.1" cy="894.2" r="3.3"/><circle cx="1037.1" cy="894.2" r="1.25" fill="#4a4a4a"/><circle cx="1037.1" cy="897.2" r="3.3"/><circle cx="1037.1" cy="897.2" r="1.25" fill="#4a4a4a"/><circle cx="1053.6" cy="892.2" r="3.3"/><circle cx="1053.6" cy="892.2" r="1.25" fill="#4a4a4a"/><circle cx="1106.2" cy="887.4" r="3.3"/><circle cx="1106.2" cy="887.4" r="1.25" fill="#4a4a4a"/><circle cx="1099.2" cy="895.2" r="3.3"/><circle cx="1099.2" cy="895.2" r="1.25" fill="#4a4a4a"/><circle cx="1011" cy="897.7" r="3.3"/><circle cx="1011" cy="897.7" r="1.25" fill="#4a4a4a"/><circle cx="1009" cy="901.7" r="3.3"/><circle cx="1009" cy="901.7" r="1.25" fill="#4a4a4a"/><circle cx="1062.7" cy="905.7" r="3.3"/><circle cx="1062.7" cy="905.7" r="1.25" fill="#4a4a4a"/><circle cx="1096.2" cy="905.2" r="3.3"/><circle cx="1096.2" cy="905.2" r="1.25" fill="#4a4a4a"/><circle cx="1027.6" cy="911" r="3.3"/><circle cx="1027.6" cy="911" r="1.25" fill="#4a4a4a"/><circle cx="1100.2" cy="916.2" r="3.3"/><circle cx="1100.2" cy="916.2" r="1.25" fill="#4a4a4a"/><circle cx="1099.7" cy="918.7" r="3.3"/><circle cx="1099.7" cy="918.7" r="1.25" fill="#4a4a4a"/><circle cx="1115.3" cy="917" r="3.3"/><circle cx="1115.3" cy="917" r="1.25" fill="#4a4a4a"/><circle cx="1087" cy="928.2" r="3.3"/><circle cx="1087" cy="928.2" r="1.25" fill="#4a4a4a"/><circle cx="1039.6" cy="936.8" r="3.3"/><circle cx="1039.6" cy="936.8" r="1.25" fill="#4a4a4a"/><circle cx="1041.1" cy="941.3" r="3.3"/><circle cx="1041.1" cy="941.3" r="1.25" fill="#4a4a4a"/><circle cx="1081.7" cy="938.8" r="3.3"/><circle cx="1081.7" cy="938.8" r="1.25" fill="#4a4a4a"/><circle cx="1111.8" cy="939.8" r="3.3"/><circle cx="1111.8" cy="939.8" r="1.25" fill="#4a4a4a"/><circle cx="1045.6" cy="955.3" r="3.3"/><circle cx="1045.6" cy="955.3" r="1.25" fill="#4a4a4a"/><circle cx="1101.7" cy="976.3" r="3.3"/><circle cx="1101.7" cy="976.3" r="1.25" fill="#4a4a4a"/><circle cx="1203" cy="825" r="3.3"/><circle cx="1203" cy="825" r="1.25" fill="#4a4a4a"/><circle cx="1233.2" cy="843.6" r="3.3"/><circle cx="1233.2" cy="843.6" r="1.25" fill="#4a4a4a"/><circle cx="1200.4" cy="849.6" r="3.3"/><circle cx="1200.4" cy="849.6" r="1.25" fill="#4a4a4a"/><circle cx="1158.1" cy="851.1" r="3.3"/><circle cx="1158.1" cy="851.1" r="1.25" fill="#4a4a4a"/><circle cx="1252.8" cy="849.6" r="3.3"/><circle cx="1252.8" cy="849.6" r="1.25" fill="#4a4a4a"/><circle cx="1260.8" cy="854.6" r="3.3"/><circle cx="1260.8" cy="854.6" r="1.25" fill="#4a4a4a"/><circle cx="1156.1" cy="860.6" r="3.3"/><circle cx="1156.1" cy="860.6" r="1.25" fill="#4a4a4a"/><circle cx="1190.6" cy="862.1" r="3.3"/><circle cx="1190.6" cy="862.1" r="1.25" fill="#4a4a4a"/><circle cx="1199.7" cy="859.1" r="3.3"/><circle cx="1199.7" cy="859.1" r="1.25" fill="#4a4a4a"/><circle cx="1241.2" cy="861.1" r="3.3"/><circle cx="1241.2" cy="861.1" r="1.25" fill="#4a4a4a"/><circle cx="1245.3" cy="860.6" r="3.3"/><circle cx="1245.3" cy="860.6" r="1.25" fill="#4a4a4a"/><circle cx="1215.2" cy="870.6" r="3.3"/><circle cx="1215.2" cy="870.6" r="1.25" fill="#4a4a4a"/><circle cx="1234.7" cy="870.6" r="3.3"/><circle cx="1234.7" cy="870.6" r="1.25" fill="#4a4a4a"/><circle cx="1140.5" cy="876.1" r="3.3"/><circle cx="1140.5" cy="876.1" r="1.25" fill="#4a4a4a"/><circle cx="1164.4" cy="874.1" r="3.3"/><circle cx="1164.4" cy="874.1" r="1.25" fill="#4a4a4a"/><circle cx="1180.1" cy="872.1" r="3.3"/><circle cx="1180.1" cy="872.1" r="1.25" fill="#4a4a4a"/><circle cx="1181.6" cy="878.6" r="3.3"/><circle cx="1181.6" cy="878.6" r="1.25" fill="#4a4a4a"/><circle cx="1183.6" cy="885.6" r="3.3"/><circle cx="1183.6" cy="885.6" r="1.25" fill="#4a4a4a"/><circle cx="1176.1" cy="887.2" r="3.3"/><circle cx="1176.1" cy="887.2" r="1.25" fill="#4a4a4a"/><circle cx="1166.4" cy="889.4" r="3.3"/><circle cx="1166.4" cy="889.4" r="1.25" fill="#4a4a4a"/><circle cx="1262.8" cy="874.1" r="3.3"/><circle cx="1262.8" cy="874.1" r="1.25" fill="#4a4a4a"/><circle cx="1234.7" cy="887.7" r="3.3"/><circle cx="1234.7" cy="887.7" r="1.25" fill="#4a4a4a"/><circle cx="1264.8" cy="885.1" r="3.3"/><circle cx="1264.8" cy="885.1" r="1.25" fill="#4a4a4a"/><circle cx="1136.2" cy="903" r="3.3"/><circle cx="1136.2" cy="903" r="1.25" fill="#4a4a4a"/><circle cx="1147.2" cy="900" r="3.3"/><circle cx="1147.2" cy="900" r="1.25" fill="#4a4a4a"/><circle cx="1154.1" cy="897.2" r="3.3"/><circle cx="1154.1" cy="897.2" r="1.25" fill="#4a4a4a"/><circle cx="1158.1" cy="897" r="3.3"/><circle cx="1158.1" cy="897" r="1.25" fill="#4a4a4a"/><circle cx="1177.1" cy="900.7" r="3.3"/><circle cx="1177.1" cy="900.7" r="1.25" fill="#4a4a4a"/><circle cx="1177.6" cy="907.2" r="3.3"/><circle cx="1177.6" cy="907.2" r="1.25" fill="#4a4a4a"/><circle cx="1197.2" cy="898" r="3.3"/><circle cx="1197.2" cy="898" r="1.25" fill="#4a4a4a"/><circle cx="1200.7" cy="901.7" r="3.3"/><circle cx="1200.7" cy="901.7" r="1.25" fill="#4a4a4a"/><circle cx="1209.2" cy="898.4" r="3.3"/><circle cx="1209.2" cy="898.4" r="1.25" fill="#4a4a4a"/><circle cx="1241.2" cy="896.2" r="3.3"/><circle cx="1241.2" cy="896.2" r="1.25" fill="#4a4a4a"/><circle cx="1245.3" cy="895.2" r="3.3"/><circle cx="1245.3" cy="895.2" r="1.25" fill="#4a4a4a"/><circle cx="1152.9" cy="909.2" r="3.3"/><circle cx="1152.9" cy="909.2" r="1.25" fill="#4a4a4a"/><circle cx="1136" cy="915.2" r="3.3"/><circle cx="1136" cy="915.2" r="1.25" fill="#4a4a4a"/><circle cx="1133.5" cy="925.7" r="3.3"/><circle cx="1133.5" cy="925.7" r="1.25" fill="#4a4a4a"/><circle cx="1210.7" cy="919.2" r="3.3"/><circle cx="1210.7" cy="919.2" r="1.25" fill="#4a4a4a"/><circle cx="1245.3" cy="915.7" r="3.3"/><circle cx="1245.3" cy="915.7" r="1.25" fill="#4a4a4a"/><circle cx="1263.8" cy="928" r="3.3"/><circle cx="1263.8" cy="928" r="1.25" fill="#4a4a4a"/><circle cx="1168.9" cy="932.4" r="3.3"/><circle cx="1168.9" cy="932.4" r="1.25" fill="#4a4a4a"/><circle cx="1178.9" cy="934" r="3.3"/><circle cx="1178.9" cy="934" r="1.25" fill="#4a4a4a"/><circle cx="1153.3" cy="939.8" r="3.3"/><circle cx="1153.3" cy="939.8" r="1.25" fill="#4a4a4a"/><circle cx="1240.4" cy="961.3" r="3.3"/><circle cx="1240.4" cy="961.3" r="1.25" fill="#4a4a4a"/><circle cx="1275" cy="828.2" r="3.3"/><circle cx="1275" cy="828.2" r="1.25" fill="#4a4a4a"/><circle cx="1370.2" cy="834.2" r="3.3"/><circle cx="1370.2" cy="834.2" r="1.25" fill="#4a4a4a"/><circle cx="1355.2" cy="839.6" r="3.3"/><circle cx="1355.2" cy="839.6" r="1.25" fill="#4a4a4a"/><circle cx="1343.2" cy="846.6" r="3.3"/><circle cx="1343.2" cy="846.6" r="1.25" fill="#4a4a4a"/><circle cx="1374" cy="855.1" r="3.3"/><circle cx="1374" cy="855.1" r="1.25" fill="#4a4a4a"/><circle cx="1355.7" cy="866.1" r="3.3"/><circle cx="1355.7" cy="866.1" r="1.25" fill="#4a4a4a"/><circle cx="1302.9" cy="872.1" r="3.3"/><circle cx="1302.9" cy="872.1" r="1.25" fill="#4a4a4a"/><circle cx="1323.9" cy="872.1" r="3.3"/><circle cx="1323.9" cy="872.1" r="1.25" fill="#4a4a4a"/><circle cx="1349.2" cy="872.1" r="3.3"/><circle cx="1349.2" cy="872.1" r="1.25" fill="#4a4a4a"/><circle cx="1341" cy="894.9" r="3.3"/><circle cx="1341" cy="894.9" r="1.25" fill="#4a4a4a"/><circle cx="1364.7" cy="890.9" r="3.3"/><circle cx="1364.7" cy="890.9" r="1.25" fill="#4a4a4a"/><circle cx="1290.1" cy="909.2" r="3.3"/><circle cx="1290.1" cy="909.2" r="1.25" fill="#4a4a4a"/><circle cx="1285.9" cy="914.7" r="3.3"/><circle cx="1285.9" cy="914.7" r="1.25" fill="#4a4a4a"/><circle cx="1278.9" cy="921.2" r="3.3"/><circle cx="1278.9" cy="921.2" r="1.25" fill="#4a4a4a"/><circle cx="1290.6" cy="928" r="3.3"/><circle cx="1290.6" cy="928" r="1.25" fill="#4a4a4a"/><circle cx="1311.9" cy="912.2" r="3.3"/><circle cx="1311.9" cy="912.2" r="1.25" fill="#4a4a4a"/><circle cx="1325.1" cy="931" r="3.3"/><circle cx="1325.1" cy="931" r="1.25" fill="#4a4a4a"/></g>
<path d="M862.2 880.9 L1370.2 843.1" fill="none" stroke="#262626" stroke-width="4.6" stroke-linecap="round"/>
<path d="M862 871 L874.61 870.61 L887.23 870.18 L899.84 869.7 L912.45 869.18 L925.06 868.61 L937.67 868.01 L950.29 867.37 L962.9 866.68 L975.51 865.96 L988.12 865.2 L1000.74 864.4 L1013.35 863.56 L1025.96 862.69 L1038.58 861.78 L1051.19 860.84 L1063.8 859.86 L1076.41 858.84 L1089.03 857.79 L1101.64 856.71 L1114.25 855.6 L1126.86 854.45 L1139.47 853.28 L1152.09 852.07 L1164.7 850.83 L1177.31 849.56 L1189.92 848.27 L1202.54 846.94 L1215.15 845.59 L1227.76 844.21 L1240.38 842.8 L1252.99 841.37 L1265.6 839.91 L1278.21 838.43 L1290.83 836.92 L1303.44 835.39 L1316.05 833.84 L1328.66 832.26 L1341.28 830.66 L1353.89 829.04 L1366.5 827.4" fill="none" stroke="#262626" stroke-width="3.3" stroke-linecap="round" stroke-dasharray="11 6"/>
<path d="M862 891.97 L874.61 890.3 L887.23 888.71 L899.84 887.19 L912.45 885.74 L925.06 884.35 L937.67 883.03 L950.29 881.78 L962.9 880.59 L975.51 879.45 L988.12 878.37 L1000.74 877.34 L1013.35 876.36 L1025.96 875.42 L1038.58 874.53 L1051.19 873.69 L1063.8 872.88 L1076.41 872.11 L1089.03 871.37 L1101.64 870.67 L1114.25 869.99 L1126.86 869.34 L1139.47 868.72 L1152.09 868.11 L1164.7 867.53 L1177.31 866.96 L1189.92 866.4 L1202.54 865.85 L1215.15 865.32 L1227.76 864.79 L1240.38 864.26 L1252.99 863.73 L1265.6 863.2 L1278.21 862.66 L1290.83 862.12 L1303.44 861.57 L1316.05 861 L1328.66 860.42 L1341.28 859.83 L1353.89 859.21 L1366.5 858.57" fill="none" stroke="#262626" stroke-width="3.3" stroke-linecap="round" stroke-dasharray="11 6"/>
<text x="-1" y="1216.3" font-size="40" text-anchor="start" font-weight="bold" fill="#1a1a1a">e</text>
<line x1="106" y1="1237.3" x2="106" y2="1615.7" stroke="#2e2e2e" stroke-width="5" stroke-linecap="butt"/>
<line x1="93" y1="1613.2" x2="106" y2="1613.2" stroke="#2e2e2e" stroke-width="5" stroke-linecap="butt"/>
<text x="80.5" y="1621.84" font-size="28.8" text-anchor="end" fill="#231f20">9</text>
<line x1="93" y1="1538.52" x2="106" y2="1538.52" stroke="#2e2e2e" stroke-width="5" stroke-linecap="butt"/>
<text x="80.5" y="1547.16" font-size="28.8" text-anchor="end" fill="#231f20">10</text>
<line x1="93" y1="1463.84" x2="106" y2="1463.84" stroke="#2e2e2e" stroke-width="5" stroke-linecap="butt"/>
<text x="80.5" y="1472.48" font-size="28.8" text-anchor="end" fill="#231f20">11</text>
<line x1="93" y1="1389.16" x2="106" y2="1389.16" stroke="#2e2e2e" stroke-width="5" stroke-linecap="butt"/>
<text x="80.5" y="1397.8" font-size="28.8" text-anchor="end" fill="#231f20">12</text>
<line x1="93" y1="1314.48" x2="106" y2="1314.48" stroke="#2e2e2e" stroke-width="5" stroke-linecap="butt"/>
<text x="80.5" y="1323.12" font-size="28.8" text-anchor="end" fill="#231f20">13</text>
<line x1="93" y1="1239.8" x2="106" y2="1239.8" stroke="#2e2e2e" stroke-width="5" stroke-linecap="butt"/>
<text x="80.5" y="1248.44" font-size="28.8" text-anchor="end" fill="#231f20">14</text>
<line x1="93.5" y1="1613.2" x2="609.6" y2="1613.2" stroke="#2e2e2e" stroke-width="5" stroke-linecap="butt"/>
<line x1="190.2" y1="1613.2" x2="190.2" y2="1626.2" stroke="#2e2e2e" stroke-width="5" stroke-linecap="butt"/>
<text x="190.2" y="1658.8" font-size="28.8" text-anchor="middle" fill="#231f20">−1</text>
<line x1="357.5" y1="1613.2" x2="357.5" y2="1626.2" stroke="#2e2e2e" stroke-width="5" stroke-linecap="butt"/>
<text x="357.5" y="1658.8" font-size="28.8" text-anchor="middle" fill="#231f20">0</text>
<line x1="526.5" y1="1613.2" x2="526.5" y2="1626.2" stroke="#2e2e2e" stroke-width="5" stroke-linecap="butt"/>
<text x="526.5" y="1658.8" font-size="28.8" text-anchor="middle" fill="#231f20">1</text>
<text x="351.3" y="1702" font-size="29.25" text-anchor="middle" fill="#231f20">Uterine Pulsatility Index (log mean)</text>
<text x="351.3" y="1735.5" font-size="29.25" text-anchor="middle" fill="#231f20">- at the time of blood sampling</text>
<text x="0" y="0" font-size="29.4" text-anchor="middle" fill="#231f20" transform="translate(23.9,1432.9) rotate(-90)">Log SPINT1 pg/ml</text>
<text x="300.2" y="1267.5" font-size="29.4" fill="#231f20"><tspan font-style="italic">R</tspan><tspan font-size="19" dx="1.5" dy="-12">2</tspan><tspan dy="12"> = 0.111, </tspan><tspan font-style="italic">p</tspan> &lt; 0.0001</text>
<g fill="#2a2a2a"><circle cx="251.9" cy="1294.4" r="3.3"/><circle cx="251.9" cy="1294.4" r="1.25" fill="#4a4a4a"/><circle cx="280.4" cy="1304.9" r="3.3"/><circle cx="280.4" cy="1304.9" r="1.25" fill="#4a4a4a"/><circle cx="320.7" cy="1303.3" r="3.3"/><circle cx="320.7" cy="1303.3" r="1.25" fill="#4a4a4a"/><circle cx="263.5" cy="1318.8" r="3.3"/><circle cx="263.5" cy="1318.8" r="1.25" fill="#4a4a4a"/><circle cx="251.9" cy="1326.9" r="3.3"/><circle cx="251.9" cy="1326.9" r="1.25" fill="#4a4a4a"/><circle cx="251.9" cy="1334.6" r="3.3"/><circle cx="251.9" cy="1334.6" r="1.25" fill="#4a4a4a"/><circle cx="267" cy="1338.7" r="3.3"/><circle cx="267" cy="1338.7" r="1.25" fill="#4a4a4a"/><circle cx="275.4" cy="1344.6" r="3.3"/><circle cx="275.4" cy="1344.6" r="1.25" fill="#4a4a4a"/><circle cx="297" cy="1344.6" r="3.3"/><circle cx="297" cy="1344.6" r="1.25" fill="#4a4a4a"/><circle cx="312.6" cy="1335.5" r="3.3"/><circle cx="312.6" cy="1335.5" r="1.25" fill="#4a4a4a"/><circle cx="313.7" cy="1341.4" r="3.3"/><circle cx="313.7" cy="1341.4" r="1.25" fill="#4a4a4a"/><circle cx="235" cy="1350" r="3.3"/><circle cx="235" cy="1350" r="1.25" fill="#4a4a4a"/><circle cx="248.4" cy="1355.3" r="3.3"/><circle cx="248.4" cy="1355.3" r="1.25" fill="#4a4a4a"/><circle cx="256.6" cy="1352.6" r="3.3"/><circle cx="256.6" cy="1352.6" r="1.25" fill="#4a4a4a"/><circle cx="263.5" cy="1355.3" r="3.3"/><circle cx="263.5" cy="1355.3" r="1.25" fill="#4a4a4a"/><circle cx="274.5" cy="1356.4" r="3.3"/><circle cx="274.5" cy="1356.4" r="1.25" fill="#4a4a4a"/><circle cx="279.9" cy="1358.6" r="3.3"/><circle cx="279.9" cy="1358.6" r="1.25" fill="#4a4a4a"/><circle cx="286.8" cy="1350.5" r="3.3"/><circle cx="286.8" cy="1350.5" r="1.25" fill="#4a4a4a"/><circle cx="286.8" cy="1358" r="3.3"/><circle cx="286.8" cy="1358" r="1.25" fill="#4a4a4a"/><circle cx="293.8" cy="1359.1" r="3.3"/><circle cx="293.8" cy="1359.1" r="1.25" fill="#4a4a4a"/><circle cx="286.8" cy="1364.5" r="3.3"/><circle cx="286.8" cy="1364.5" r="1.25" fill="#4a4a4a"/><circle cx="300.3" cy="1352.1" r="3.3"/><circle cx="300.3" cy="1352.1" r="1.25" fill="#4a4a4a"/><circle cx="305.6" cy="1354.8" r="3.3"/><circle cx="305.6" cy="1354.8" r="1.25" fill="#4a4a4a"/><circle cx="316.4" cy="1352.1" r="3.3"/><circle cx="316.4" cy="1352.1" r="1.25" fill="#4a4a4a"/><circle cx="328.2" cy="1355.3" r="3.3"/><circle cx="328.2" cy="1355.3" r="1.25" fill="#4a4a4a"/><circle cx="320.7" cy="1360.2" r="3.3"/><circle cx="320.7" cy="1360.2" r="1.25" fill="#4a4a4a"/><circle cx="326" cy="1364.5" r="3.3"/><circle cx="326" cy="1364.5" r="1.25" fill="#4a4a4a"/><circle cx="302.4" cy="1362.3" r="3.3"/><circle cx="302.4" cy="1362.3" r="1.25" fill="#4a4a4a"/><circle cx="302.4" cy="1368.8" r="3.3"/><circle cx="302.4" cy="1368.8" r="1.25" fill="#4a4a4a"/><circle cx="305.1" cy="1375.2" r="3.3"/><circle cx="305.1" cy="1375.2" r="1.25" fill="#4a4a4a"/><circle cx="295.4" cy="1367.7" r="3.3"/><circle cx="295.4" cy="1367.7" r="1.25" fill="#4a4a4a"/><circle cx="194.5" cy="1361.8" r="3.3"/><circle cx="194.5" cy="1361.8" r="1.25" fill="#4a4a4a"/><circle cx="272.1" cy="1370.4" r="3.3"/><circle cx="272.1" cy="1370.4" r="1.25" fill="#4a4a4a"/><circle cx="286.8" cy="1372.5" r="3.3"/><circle cx="286.8" cy="1372.5" r="1.25" fill="#4a4a4a"/><circle cx="228.3" cy="1376.3" r="3.3"/><circle cx="228.3" cy="1376.3" r="1.25" fill="#4a4a4a"/><circle cx="280.9" cy="1376.3" r="3.3"/><circle cx="280.9" cy="1376.3" r="1.25" fill="#4a4a4a"/><circle cx="326" cy="1376.3" r="3.3"/><circle cx="326" cy="1376.3" r="1.25" fill="#4a4a4a"/><circle cx="293.8" cy="1380.6" r="3.3"/><circle cx="293.8" cy="1380.6" r="1.25" fill="#4a4a4a"/><circle cx="313.7" cy="1382.2" r="3.3"/><circle cx="313.7" cy="1382.2" r="1.25" fill="#4a4a4a"/><circle cx="323.3" cy="1385.4" r="3.3"/><circle cx="323.3" cy="1385.4" r="1.25" fill="#4a4a4a"/><circle cx="274.5" cy="1384.9" r="3.3"/><circle cx="274.5" cy="1384.9" r="1.25" fill="#4a4a4a"/><circle cx="281.5" cy="1388.1" r="3.3"/><circle cx="281.5" cy="1388.1" r="1.25" fill="#4a4a4a"/><circle cx="253" cy="1388.6" r="3.3"/><circle cx="253" cy="1388.6" r="1.25" fill="#4a4a4a"/><circle cx="260" cy="1395.1" r="3.3"/><circle cx="260" cy="1395.1" r="1.25" fill="#4a4a4a"/><circle cx="261.6" cy="1398.8" r="3.3"/><circle cx="261.6" cy="1398.8" r="1.25" fill="#4a4a4a"/><circle cx="275" cy="1401" r="3.3"/><circle cx="275" cy="1401" r="1.25" fill="#4a4a4a"/><circle cx="286.8" cy="1397.2" r="3.3"/><circle cx="286.8" cy="1397.2" r="1.25" fill="#4a4a4a"/><circle cx="291.7" cy="1395.1" r="3.3"/><circle cx="291.7" cy="1395.1" r="1.25" fill="#4a4a4a"/><circle cx="298.1" cy="1395.6" r="3.3"/><circle cx="298.1" cy="1395.6" r="1.25" fill="#4a4a4a"/><circle cx="302.4" cy="1396.7" r="3.3"/><circle cx="302.4" cy="1396.7" r="1.25" fill="#4a4a4a"/><circle cx="290.6" cy="1403.1" r="3.3"/><circle cx="290.6" cy="1403.1" r="1.25" fill="#4a4a4a"/><circle cx="296" cy="1401" r="3.3"/><circle cx="296" cy="1401" r="1.25" fill="#4a4a4a"/><circle cx="302.4" cy="1405.3" r="3.3"/><circle cx="302.4" cy="1405.3" r="1.25" fill="#4a4a4a"/><circle cx="308.3" cy="1402" r="3.3"/><circle cx="308.3" cy="1402" r="1.25" fill="#4a4a4a"/><circle cx="309.4" cy="1408.5" r="3.3"/><circle cx="309.4" cy="1408.5" r="1.25" fill="#4a4a4a"/><circle cx="295.4" cy="1409.6" r="3.3"/><circle cx="295.4" cy="1409.6" r="1.25" fill="#4a4a4a"/><circle cx="326" cy="1406.3" r="3.3"/><circle cx="326" cy="1406.3" r="1.25" fill="#4a4a4a"/><circle cx="318.5" cy="1411.2" r="3.3"/><circle cx="318.5" cy="1411.2" r="1.25" fill="#4a4a4a"/><circle cx="325.5" cy="1412.8" r="3.3"/><circle cx="325.5" cy="1412.8" r="1.25" fill="#4a4a4a"/><circle cx="258.7" cy="1406.3" r="3.3"/><circle cx="258.7" cy="1406.3" r="1.25" fill="#4a4a4a"/><circle cx="263.5" cy="1414.9" r="3.3"/><circle cx="263.5" cy="1414.9" r="1.25" fill="#4a4a4a"/><circle cx="279.9" cy="1417.1" r="3.3"/><circle cx="279.9" cy="1417.1" r="1.25" fill="#4a4a4a"/><circle cx="287.4" cy="1412.8" r="3.3"/><circle cx="287.4" cy="1412.8" r="1.25" fill="#4a4a4a"/><circle cx="289" cy="1419.8" r="3.3"/><circle cx="289" cy="1419.8" r="1.25" fill="#4a4a4a"/><circle cx="297" cy="1426.7" r="3.3"/><circle cx="297" cy="1426.7" r="1.25" fill="#4a4a4a"/><circle cx="297" cy="1432.6" r="3.3"/><circle cx="297" cy="1432.6" r="1.25" fill="#4a4a4a"/><circle cx="315.3" cy="1427.3" r="3.3"/><circle cx="315.3" cy="1427.3" r="1.25" fill="#4a4a4a"/><circle cx="313.1" cy="1433.7" r="3.3"/><circle cx="313.1" cy="1433.7" r="1.25" fill="#4a4a4a"/><circle cx="325.5" cy="1423" r="3.3"/><circle cx="325.5" cy="1423" r="1.25" fill="#4a4a4a"/><circle cx="357.7" cy="1330.6" r="3.3"/><circle cx="357.7" cy="1330.6" r="1.25" fill="#4a4a4a"/><circle cx="398.3" cy="1328.5" r="3.3"/><circle cx="398.3" cy="1328.5" r="1.25" fill="#4a4a4a"/><circle cx="344.3" cy="1343.5" r="3.3"/><circle cx="344.3" cy="1343.5" r="1.25" fill="#4a4a4a"/><circle cx="339" cy="1350.5" r="3.3"/><circle cx="339" cy="1350.5" r="1.25" fill="#4a4a4a"/><circle cx="344.3" cy="1352.9" r="3.3"/><circle cx="344.3" cy="1352.9" r="1.25" fill="#4a4a4a"/><circle cx="339.5" cy="1357" r="3.3"/><circle cx="339.5" cy="1357" r="1.25" fill="#4a4a4a"/><circle cx="335.7" cy="1363.9" r="3.3"/><circle cx="335.7" cy="1363.9" r="1.25" fill="#4a4a4a"/><circle cx="339.5" cy="1369.8" r="3.3"/><circle cx="339.5" cy="1369.8" r="1.25" fill="#4a4a4a"/><circle cx="345.9" cy="1374.1" r="3.3"/><circle cx="345.9" cy="1374.1" r="1.25" fill="#4a4a4a"/><circle cx="339" cy="1377.3" r="3.3"/><circle cx="339" cy="1377.3" r="1.25" fill="#4a4a4a"/><circle cx="331.4" cy="1375.7" r="3.3"/><circle cx="331.4" cy="1375.7" r="1.25" fill="#4a4a4a"/><circle cx="352.9" cy="1370.9" r="3.3"/><circle cx="352.9" cy="1370.9" r="1.25" fill="#4a4a4a"/><circle cx="361.5" cy="1366.6" r="3.3"/><circle cx="361.5" cy="1366.6" r="1.25" fill="#4a4a4a"/><circle cx="364.7" cy="1372.5" r="3.3"/><circle cx="364.7" cy="1372.5" r="1.25" fill="#4a4a4a"/><circle cx="373.3" cy="1367.1" r="3.3"/><circle cx="373.3" cy="1367.1" r="1.25" fill="#4a4a4a"/><circle cx="351.3" cy="1379.5" r="3.3"/><circle cx="351.3" cy="1379.5" r="1.25" fill="#4a4a4a"/><circle cx="357.2" cy="1377.3" r="3.3"/><circle cx="357.2" cy="1377.3" r="1.25" fill="#4a4a4a"/><circle cx="357.2" cy="1382.7" r="3.3"/><circle cx="357.2" cy="1382.7" r="1.25" fill="#4a4a4a"/><circle cx="369.6" cy="1379" r="3.3"/><circle cx="369.6" cy="1379" r="1.25" fill="#4a4a4a"/><circle cx="373.9" cy="1382.2" r="3.3"/><circle cx="373.9" cy="1382.2" r="1.25" fill="#4a4a4a"/><circle cx="374.9" cy="1386.5" r="3.3"/><circle cx="374.9" cy="1386.5" r="1.25" fill="#4a4a4a"/><circle cx="384.1" cy="1374.1" r="3.3"/><circle cx="384.1" cy="1374.1" r="1.25" fill="#4a4a4a"/><circle cx="384.1" cy="1381.1" r="3.3"/><circle cx="384.1" cy="1381.1" r="1.25" fill="#4a4a4a"/><circle cx="391.6" cy="1375.2" r="3.3"/><circle cx="391.6" cy="1375.2" r="1.25" fill="#4a4a4a"/><circle cx="409.3" cy="1367.1" r="3.3"/><circle cx="409.3" cy="1367.1" r="1.25" fill="#4a4a4a"/><circle cx="472.6" cy="1367.1" r="3.3"/><circle cx="472.6" cy="1367.1" r="1.25" fill="#4a4a4a"/><circle cx="341.1" cy="1385.9" r="3.3"/><circle cx="341.1" cy="1385.9" r="1.25" fill="#4a4a4a"/><circle cx="344.9" cy="1384.9" r="3.3"/><circle cx="344.9" cy="1384.9" r="1.25" fill="#4a4a4a"/><circle cx="354" cy="1387.5" r="3.3"/><circle cx="354" cy="1387.5" r="1.25" fill="#4a4a4a"/><circle cx="362.6" cy="1390.8" r="3.3"/><circle cx="362.6" cy="1390.8" r="1.25" fill="#4a4a4a"/><circle cx="327.1" cy="1390.2" r="3.3"/><circle cx="327.1" cy="1390.2" r="1.25" fill="#4a4a4a"/><circle cx="333.1" cy="1391.3" r="3.3"/><circle cx="333.1" cy="1391.3" r="1.25" fill="#4a4a4a"/><circle cx="339" cy="1392.4" r="3.3"/><circle cx="339" cy="1392.4" r="1.25" fill="#4a4a4a"/><circle cx="346.5" cy="1393.5" r="3.3"/><circle cx="346.5" cy="1393.5" r="1.25" fill="#4a4a4a"/><circle cx="359.9" cy="1393.5" r="3.3"/><circle cx="359.9" cy="1393.5" r="1.25" fill="#4a4a4a"/><circle cx="369.6" cy="1394.5" r="3.3"/><circle cx="369.6" cy="1394.5" r="1.25" fill="#4a4a4a"/><circle cx="391.6" cy="1389.2" r="3.3"/><circle cx="391.6" cy="1389.2" r="1.25" fill="#4a4a4a"/><circle cx="406.4" cy="1390.8" r="3.3"/><circle cx="406.4" cy="1390.8" r="1.25" fill="#4a4a4a"/><circle cx="416.8" cy="1394.5" r="3.3"/><circle cx="416.8" cy="1394.5" r="1.25" fill="#4a4a4a"/><circle cx="423.3" cy="1391.3" r="3.3"/><circle cx="423.3" cy="1391.3" r="1.25" fill="#4a4a4a"/><circle cx="458.7" cy="1399.9" r="3.3"/><circle cx="458.7" cy="1399.9" r="1.25" fill="#4a4a4a"/><circle cx="472.6" cy="1388.6" r="3.3"/><circle cx="472.6" cy="1388.6" r="1.25" fill="#4a4a4a"/><circle cx="376.5" cy="1404.2" r="3.3"/><circle cx="376.5" cy="1404.2" r="1.25" fill="#4a4a4a"/><circle cx="393.2" cy="1401" r="3.3"/><circle cx="393.2" cy="1401" r="1.25" fill="#4a4a4a"/><circle cx="397" cy="1402" r="3.3"/><circle cx="397" cy="1402" r="1.25" fill="#4a4a4a"/><circle cx="407.7" cy="1406.3" r="3.3"/><circle cx="407.7" cy="1406.3" r="1.25" fill="#4a4a4a"/><circle cx="416.3" cy="1405.8" r="3.3"/><circle cx="416.3" cy="1405.8" r="1.25" fill="#4a4a4a"/><circle cx="472.6" cy="1407.4" r="3.3"/><circle cx="472.6" cy="1407.4" r="1.25" fill="#4a4a4a"/><circle cx="326.6" cy="1406.9" r="3.3"/><circle cx="326.6" cy="1406.9" r="1.25" fill="#4a4a4a"/><circle cx="337.9" cy="1408.5" r="3.3"/><circle cx="337.9" cy="1408.5" r="1.25" fill="#4a4a4a"/><circle cx="345.9" cy="1407.4" r="3.3"/><circle cx="345.9" cy="1407.4" r="1.25" fill="#4a4a4a"/><circle cx="358.8" cy="1408.5" r="3.3"/><circle cx="358.8" cy="1408.5" r="1.25" fill="#4a4a4a"/><circle cx="376" cy="1412.8" r="3.3"/><circle cx="376" cy="1412.8" r="1.25" fill="#4a4a4a"/><circle cx="382.4" cy="1414.9" r="3.3"/><circle cx="382.4" cy="1414.9" r="1.25" fill="#4a4a4a"/><circle cx="387.8" cy="1419.2" r="3.3"/><circle cx="387.8" cy="1419.2" r="1.25" fill="#4a4a4a"/><circle cx="398" cy="1419.8" r="3.3"/><circle cx="398" cy="1419.8" r="1.25" fill="#4a4a4a"/><circle cx="387.3" cy="1423.5" r="3.3"/><circle cx="387.3" cy="1423.5" r="1.25" fill="#4a4a4a"/><circle cx="391.6" cy="1425.7" r="3.3"/><circle cx="391.6" cy="1425.7" r="1.25" fill="#4a4a4a"/><circle cx="379.2" cy="1426.2" r="3.3"/><circle cx="379.2" cy="1426.2" r="1.25" fill="#4a4a4a"/><circle cx="365.8" cy="1417.1" r="3.3"/><circle cx="365.8" cy="1417.1" r="1.25" fill="#4a4a4a"/><circle cx="357.7" cy="1419.8" r="3.3"/><circle cx="357.7" cy="1419.8" r="1.25" fill="#4a4a4a"/><circle cx="337.9" cy="1419.2" r="3.3"/><circle cx="337.9" cy="1419.2" r="1.25" fill="#4a4a4a"/><circle cx="347.5" cy="1423" r="3.3"/><circle cx="347.5" cy="1423" r="1.25" fill="#4a4a4a"/><circle cx="344.3" cy="1430.5" r="3.3"/><circle cx="344.3" cy="1430.5" r="1.25" fill="#4a4a4a"/><circle cx="348.1" cy="1434.8" r="3.3"/><circle cx="348.1" cy="1434.8" r="1.25" fill="#4a4a4a"/><circle cx="362.6" cy="1429.4" r="3.3"/><circle cx="362.6" cy="1429.4" r="1.25" fill="#4a4a4a"/><circle cx="359.4" cy="1434.8" r="3.3"/><circle cx="359.4" cy="1434.8" r="1.25" fill="#4a4a4a"/><circle cx="407.7" cy="1427.8" r="3.3"/><circle cx="407.7" cy="1427.8" r="1.25" fill="#4a4a4a"/><circle cx="414.1" cy="1431" r="3.3"/><circle cx="414.1" cy="1431" r="1.25" fill="#4a4a4a"/><circle cx="340" cy="1439.6" r="3.3"/><circle cx="340" cy="1439.6" r="1.25" fill="#4a4a4a"/><circle cx="467.8" cy="1419.8" r="3.3"/><circle cx="467.8" cy="1419.8" r="1.25" fill="#4a4a4a"/><circle cx="474.3" cy="1368.4" r="3.3"/><circle cx="474.3" cy="1368.4" r="1.25" fill="#4a4a4a"/><circle cx="529.3" cy="1367.7" r="3.3"/><circle cx="529.3" cy="1367.7" r="1.25" fill="#4a4a4a"/><circle cx="530.9" cy="1383.4" r="3.3"/><circle cx="530.9" cy="1383.4" r="1.25" fill="#4a4a4a"/><circle cx="494" cy="1395.2" r="3.3"/><circle cx="494" cy="1395.2" r="1.25" fill="#4a4a4a"/><circle cx="534.1" cy="1411.7" r="3.3"/><circle cx="534.1" cy="1411.7" r="1.25" fill="#4a4a4a"/><circle cx="300.3" cy="1446.1" r="3.3"/><circle cx="300.3" cy="1446.1" r="1.25" fill="#4a4a4a"/><circle cx="305.6" cy="1448.5" r="3.3"/><circle cx="305.6" cy="1448.5" r="1.25" fill="#4a4a4a"/><circle cx="327.6" cy="1447.7" r="3.3"/><circle cx="327.6" cy="1447.7" r="1.25" fill="#4a4a4a"/><circle cx="300.3" cy="1462.4" r="3.3"/><circle cx="300.3" cy="1462.4" r="1.25" fill="#4a4a4a"/><circle cx="305.6" cy="1488" r="3.3"/><circle cx="305.6" cy="1488" r="1.25" fill="#4a4a4a"/><circle cx="328.7" cy="1490.1" r="3.3"/><circle cx="328.7" cy="1490.1" r="1.25" fill="#4a4a4a"/><circle cx="248.7" cy="1500.9" r="3.3"/><circle cx="248.7" cy="1500.9" r="1.25" fill="#4a4a4a"/><circle cx="332.5" cy="1454.7" r="3.3"/><circle cx="332.5" cy="1454.7" r="1.25" fill="#4a4a4a"/><circle cx="331.4" cy="1451" r="3.3"/><circle cx="331.4" cy="1451" r="1.25" fill="#4a4a4a"/><circle cx="430.2" cy="1447" r="3.3"/><circle cx="430.2" cy="1447" r="1.25" fill="#4a4a4a"/><circle cx="441.5" cy="1448.8" r="3.3"/><circle cx="441.5" cy="1448.8" r="1.25" fill="#4a4a4a"/><circle cx="470.5" cy="1458.1" r="3.3"/><circle cx="470.5" cy="1458.1" r="1.25" fill="#4a4a4a"/><circle cx="364.5" cy="1467.6" r="3.3"/><circle cx="364.5" cy="1467.6" r="1.25" fill="#4a4a4a"/><circle cx="403.1" cy="1470.6" r="3.3"/><circle cx="403.1" cy="1470.6" r="1.25" fill="#4a4a4a"/><circle cx="406.6" cy="1479.2" r="3.3"/><circle cx="406.6" cy="1479.2" r="1.25" fill="#4a4a4a"/><circle cx="433.8" cy="1472.1" r="3.3"/><circle cx="433.8" cy="1472.1" r="1.25" fill="#4a4a4a"/><circle cx="426.5" cy="1479.2" r="3.3"/><circle cx="426.5" cy="1479.2" r="1.25" fill="#4a4a4a"/><circle cx="383" cy="1512.1" r="3.3"/><circle cx="383" cy="1512.1" r="1.25" fill="#4a4a4a"/><circle cx="409.8" cy="1512.7" r="3.3"/><circle cx="409.8" cy="1512.7" r="1.25" fill="#4a4a4a"/><circle cx="362.8" cy="1525.6" r="3.3"/><circle cx="362.8" cy="1525.6" r="1.25" fill="#4a4a4a"/><circle cx="503.7" cy="1445.7" r="3.3"/><circle cx="503.7" cy="1445.7" r="1.25" fill="#4a4a4a"/><circle cx="551.6" cy="1448.5" r="3.3"/><circle cx="551.6" cy="1448.5" r="1.25" fill="#4a4a4a"/><circle cx="482.5" cy="1468.7" r="3.3"/><circle cx="482.5" cy="1468.7" r="1.25" fill="#4a4a4a"/><circle cx="300" cy="1390" r="3.3"/><circle cx="300" cy="1390" r="1.25" fill="#4a4a4a"/><circle cx="306" cy="1393" r="3.3"/><circle cx="306" cy="1393" r="1.25" fill="#4a4a4a"/><circle cx="312" cy="1396" r="3.3"/><circle cx="312" cy="1396" r="1.25" fill="#4a4a4a"/><circle cx="318" cy="1398" r="3.3"/><circle cx="318" cy="1398" r="1.25" fill="#4a4a4a"/><circle cx="296" cy="1385" r="3.3"/><circle cx="296" cy="1385" r="1.25" fill="#4a4a4a"/><circle cx="332" cy="1398" r="3.3"/><circle cx="332" cy="1398" r="1.25" fill="#4a4a4a"/><circle cx="338" cy="1401" r="3.3"/><circle cx="338" cy="1401" r="1.25" fill="#4a4a4a"/><circle cx="344" cy="1404" r="3.3"/><circle cx="344" cy="1404" r="1.25" fill="#4a4a4a"/><circle cx="322" cy="1392" r="3.3"/><circle cx="322" cy="1392" r="1.25" fill="#4a4a4a"/><circle cx="284" cy="1386" r="3.3"/><circle cx="284" cy="1386" r="1.25" fill="#4a4a4a"/><circle cx="290" cy="1389" r="3.3"/><circle cx="290" cy="1389" r="1.25" fill="#4a4a4a"/></g>
<path d="M193 1365.6 L551.6 1439.5" fill="none" stroke="#262626" stroke-width="4.6" stroke-linecap="round"/>
<path d="M193 1353.01 L201.94 1355.91 L210.88 1358.72 L219.81 1361.45 L228.75 1364.1 L237.69 1366.67 L246.62 1369.16 L255.56 1371.58 L264.5 1373.93 L273.44 1376.21 L282.38 1378.41 L291.31 1380.56 L300.25 1382.63 L309.19 1384.65 L318.12 1386.6 L327.06 1388.5 L336 1390.34 L344.94 1392.13 L353.88 1393.87 L362.81 1395.55 L371.75 1397.19 L380.69 1398.78 L389.62 1400.33 L398.56 1401.84 L407.5 1403.31 L416.44 1404.74 L425.38 1406.13 L434.31 1407.49 L443.25 1408.82 L452.19 1410.12 L461.12 1411.39 L470.06 1412.64 L479 1413.87 L487.94 1415.07 L496.88 1416.26 L505.81 1417.42 L514.75 1418.58 L523.69 1419.72 L532.62 1420.84 L541.56 1421.96 L550.5 1423.08" fill="none" stroke="#262626" stroke-width="3.3" stroke-linecap="round" stroke-dasharray="11 6"/>
<path d="M193 1378.87 L201.94 1379.82 L210.88 1380.83 L219.81 1381.9 L228.75 1383.04 L237.69 1384.23 L246.62 1385.48 L255.56 1386.79 L264.5 1388.16 L273.44 1389.59 L282.38 1391.07 L291.31 1392.61 L300.25 1394.2 L309.19 1395.84 L318.12 1397.53 L327.06 1399.28 L336 1401.07 L344.94 1402.91 L353.88 1404.8 L362.81 1406.74 L371.75 1408.73 L380.69 1410.76 L389.62 1412.83 L398.56 1414.95 L407.5 1417.11 L416.44 1419.31 L425.38 1421.55 L434.31 1423.83 L443.25 1426.15 L452.19 1428.5 L461.12 1430.9 L470.06 1433.33 L479 1435.79 L487.94 1438.29 L496.88 1440.82 L505.81 1443.38 L514.75 1445.97 L523.69 1448.6 L532.62 1451.25 L541.56 1453.93 L550.5 1456.64" fill="none" stroke="#262626" stroke-width="3.3" stroke-linecap="round" stroke-dasharray="11 6"/>
<text x="739" y="1214.6" font-size="40" text-anchor="start" font-weight="bold" fill="#1a1a1a">f</text>
<line x1="862.4" y1="1214.6" x2="862.4" y2="1615" stroke="#2e2e2e" stroke-width="5" stroke-linecap="butt"/>
<line x1="849.4" y1="1612.5" x2="862.4" y2="1612.5" stroke="#2e2e2e" stroke-width="5" stroke-linecap="butt"/>
<text x="838.2" y="1621.14" font-size="28.8" text-anchor="end" fill="#231f20">9</text>
<line x1="849.4" y1="1533.42" x2="862.4" y2="1533.42" stroke="#2e2e2e" stroke-width="5" stroke-linecap="butt"/>
<text x="838.2" y="1542.06" font-size="28.8" text-anchor="end" fill="#231f20">10</text>
<line x1="849.4" y1="1454.34" x2="862.4" y2="1454.34" stroke="#2e2e2e" stroke-width="5" stroke-linecap="butt"/>
<text x="838.2" y="1462.98" font-size="28.8" text-anchor="end" fill="#231f20">11</text>
<line x1="849.4" y1="1375.26" x2="862.4" y2="1375.26" stroke="#2e2e2e" stroke-width="5" stroke-linecap="butt"/>
<text x="838.2" y="1383.9" font-size="28.8" text-anchor="end" fill="#231f20">12</text>
<line x1="849.4" y1="1296.18" x2="862.4" y2="1296.18" stroke="#2e2e2e" stroke-width="5" stroke-linecap="butt"/>
<text x="838.2" y="1304.82" font-size="28.8" text-anchor="end" fill="#231f20">13</text>
<line x1="849.4" y1="1217.1" x2="862.4" y2="1217.1" stroke="#2e2e2e" stroke-width="5" stroke-linecap="butt"/>
<text x="838.2" y="1225.74" font-size="28.8" text-anchor="end" fill="#231f20">14</text>
<line x1="850.6" y1="1612.5" x2="1367.5" y2="1612.5" stroke="#2e2e2e" stroke-width="5" stroke-linecap="butt"/>
<line x1="862.8" y1="1612.5" x2="862.8" y2="1625.5" stroke="#2e2e2e" stroke-width="5" stroke-linecap="butt"/>
<text x="862.8" y="1660.2" font-size="28.8" text-anchor="middle" fill="#231f20">−1.0</text>
<line x1="977.9" y1="1612.5" x2="977.9" y2="1625.5" stroke="#2e2e2e" stroke-width="5" stroke-linecap="butt"/>
<text x="977.9" y="1660.2" font-size="28.8" text-anchor="middle" fill="#231f20">−0.5</text>
<line x1="1092.5" y1="1612.5" x2="1092.5" y2="1625.5" stroke="#2e2e2e" stroke-width="5" stroke-linecap="butt"/>
<text x="1092.5" y="1660.2" font-size="28.8" text-anchor="middle" fill="#231f20">0.0</text>
<line x1="1207.6" y1="1612.5" x2="1207.6" y2="1625.5" stroke="#2e2e2e" stroke-width="5" stroke-linecap="butt"/>
<text x="1207.6" y="1660.2" font-size="28.8" text-anchor="middle" fill="#231f20">0.5</text>
<line x1="1321.8" y1="1612.5" x2="1321.8" y2="1625.5" stroke="#2e2e2e" stroke-width="5" stroke-linecap="butt"/>
<text x="1321.8" y="1660.2" font-size="28.8" text-anchor="middle" fill="#231f20">1.0</text>
<text x="1109.7" y="1703" font-size="29.25" text-anchor="middle" fill="#231f20">Uterine Pulsatility Index (log mean)</text>
<text x="1109.7" y="1736.9" font-size="29.25" text-anchor="middle" fill="#231f20">- at 22–24 weeks gestation</text>
<text x="0" y="0" font-size="29.4" text-anchor="middle" fill="#231f20" transform="translate(782.6,1420.2) rotate(-90)">Log SPINT1 pg/ml</text>
<text x="1054.5" y="1246.3" font-size="29.4" fill="#231f20"><tspan font-style="italic">R</tspan><tspan font-size="19" dx="1.5" dy="-12">2</tspan><tspan dy="12"> = 0.019, </tspan><tspan font-style="italic">p</tspan> &lt; 0.031</text>
<g fill="#2a2a2a"><circle cx="984.6" cy="1274.5" r="3.3"/><circle cx="984.6" cy="1274.5" r="1.25" fill="#4a4a4a"/><circle cx="975.4" cy="1300.1" r="3.3"/><circle cx="975.4" cy="1300.1" r="1.25" fill="#4a4a4a"/><circle cx="975.1" cy="1309.2" r="3.3"/><circle cx="975.1" cy="1309.2" r="1.25" fill="#4a4a4a"/><circle cx="980.3" cy="1317" r="3.3"/><circle cx="980.3" cy="1317" r="1.25" fill="#4a4a4a"/><circle cx="982.4" cy="1318.9" r="3.3"/><circle cx="982.4" cy="1318.9" r="1.25" fill="#4a4a4a"/><circle cx="899.2" cy="1328" r="3.3"/><circle cx="899.2" cy="1328" r="1.25" fill="#4a4a4a"/><circle cx="968.5" cy="1336.8" r="3.3"/><circle cx="968.5" cy="1336.8" r="1.25" fill="#4a4a4a"/><circle cx="980.3" cy="1333.9" r="3.3"/><circle cx="980.3" cy="1333.9" r="1.25" fill="#4a4a4a"/><circle cx="980.3" cy="1341.4" r="3.3"/><circle cx="980.3" cy="1341.4" r="1.25" fill="#4a4a4a"/><circle cx="989.4" cy="1339.3" r="3.3"/><circle cx="989.4" cy="1339.3" r="1.25" fill="#4a4a4a"/><circle cx="1000.7" cy="1333.6" r="3.3"/><circle cx="1000.7" cy="1333.6" r="1.25" fill="#4a4a4a"/><circle cx="935.7" cy="1346" r="3.3"/><circle cx="935.7" cy="1346" r="1.25" fill="#4a4a4a"/><circle cx="943.5" cy="1346" r="3.3"/><circle cx="943.5" cy="1346" r="1.25" fill="#4a4a4a"/><circle cx="1007.6" cy="1345.2" r="3.3"/><circle cx="1007.6" cy="1345.2" r="1.25" fill="#4a4a4a"/><circle cx="1007.6" cy="1352.1" r="3.3"/><circle cx="1007.6" cy="1352.1" r="1.25" fill="#4a4a4a"/><circle cx="945.4" cy="1355.6" r="3.3"/><circle cx="945.4" cy="1355.6" r="1.25" fill="#4a4a4a"/><circle cx="973.3" cy="1352.1" r="3.3"/><circle cx="973.3" cy="1352.1" r="1.25" fill="#4a4a4a"/><circle cx="964.2" cy="1356.4" r="3.3"/><circle cx="964.2" cy="1356.4" r="1.25" fill="#4a4a4a"/><circle cx="969" cy="1356.4" r="3.3"/><circle cx="969" cy="1356.4" r="1.25" fill="#4a4a4a"/><circle cx="952.3" cy="1361.8" r="3.3"/><circle cx="952.3" cy="1361.8" r="1.25" fill="#4a4a4a"/><circle cx="949.7" cy="1364.5" r="3.3"/><circle cx="949.7" cy="1364.5" r="1.25" fill="#4a4a4a"/><circle cx="947.5" cy="1369.3" r="3.3"/><circle cx="947.5" cy="1369.3" r="1.25" fill="#4a4a4a"/><circle cx="968.5" cy="1367.2" r="3.3"/><circle cx="968.5" cy="1367.2" r="1.25" fill="#4a4a4a"/><circle cx="1005" cy="1361.3" r="3.3"/><circle cx="1005" cy="1361.3" r="1.25" fill="#4a4a4a"/><circle cx="1008.2" cy="1368.8" r="3.3"/><circle cx="1008.2" cy="1368.8" r="1.25" fill="#4a4a4a"/><circle cx="981.9" cy="1373.6" r="3.3"/><circle cx="981.9" cy="1373.6" r="1.25" fill="#4a4a4a"/><circle cx="992.6" cy="1373.1" r="3.3"/><circle cx="992.6" cy="1373.1" r="1.25" fill="#4a4a4a"/><circle cx="977.6" cy="1386" r="3.3"/><circle cx="977.6" cy="1386" r="1.25" fill="#4a4a4a"/><circle cx="995.8" cy="1388.1" r="3.3"/><circle cx="995.8" cy="1388.1" r="1.25" fill="#4a4a4a"/><circle cx="1003.9" cy="1387.6" r="3.3"/><circle cx="1003.9" cy="1387.6" r="1.25" fill="#4a4a4a"/><circle cx="899.2" cy="1402.1" r="3.3"/><circle cx="899.2" cy="1402.1" r="1.25" fill="#4a4a4a"/><circle cx="908.3" cy="1408" r="3.3"/><circle cx="908.3" cy="1408" r="1.25" fill="#4a4a4a"/><circle cx="959.3" cy="1408" r="3.3"/><circle cx="959.3" cy="1408" r="1.25" fill="#4a4a4a"/><circle cx="959.3" cy="1415" r="3.3"/><circle cx="959.3" cy="1415" r="1.25" fill="#4a4a4a"/><circle cx="996.2" cy="1404.8" r="3.3"/><circle cx="996.2" cy="1404.8" r="1.25" fill="#4a4a4a"/><circle cx="1008.7" cy="1403.1" r="3.3"/><circle cx="1008.7" cy="1403.1" r="1.25" fill="#4a4a4a"/><circle cx="892.7" cy="1416.6" r="3.3"/><circle cx="892.7" cy="1416.6" r="1.25" fill="#4a4a4a"/><circle cx="1064.9" cy="1285.9" r="3.3"/><circle cx="1064.9" cy="1285.9" r="1.25" fill="#4a4a4a"/><circle cx="1092.5" cy="1284.3" r="3.3"/><circle cx="1092.5" cy="1284.3" r="1.25" fill="#4a4a4a"/><circle cx="1124.7" cy="1310.6" r="3.3"/><circle cx="1124.7" cy="1310.6" r="1.25" fill="#4a4a4a"/><circle cx="1072.1" cy="1321.5" r="3.3"/><circle cx="1072.1" cy="1321.5" r="1.25" fill="#4a4a4a"/><circle cx="1060.6" cy="1324.8" r="3.3"/><circle cx="1060.6" cy="1324.8" r="1.25" fill="#4a4a4a"/><circle cx="1044.2" cy="1327.8" r="3.3"/><circle cx="1044.2" cy="1327.8" r="1.25" fill="#4a4a4a"/><circle cx="1051.2" cy="1328" r="3.3"/><circle cx="1051.2" cy="1328" r="1.25" fill="#4a4a4a"/><circle cx="1122.6" cy="1324.8" r="3.3"/><circle cx="1122.6" cy="1324.8" r="1.25" fill="#4a4a4a"/><circle cx="1025.9" cy="1336.8" r="3.3"/><circle cx="1025.9" cy="1336.8" r="1.25" fill="#4a4a4a"/><circle cx="1030.8" cy="1334.4" r="3.3"/><circle cx="1030.8" cy="1334.4" r="1.25" fill="#4a4a4a"/><circle cx="1030.2" cy="1341.4" r="3.3"/><circle cx="1030.2" cy="1341.4" r="1.25" fill="#4a4a4a"/><circle cx="1037.2" cy="1340.9" r="3.3"/><circle cx="1037.2" cy="1340.9" r="1.25" fill="#4a4a4a"/><circle cx="1049" cy="1336.6" r="3.3"/><circle cx="1049" cy="1336.6" r="1.25" fill="#4a4a4a"/><circle cx="1054.4" cy="1335" r="3.3"/><circle cx="1054.4" cy="1335" r="1.25" fill="#4a4a4a"/><circle cx="1074.3" cy="1333.4" r="3.3"/><circle cx="1074.3" cy="1333.4" r="1.25" fill="#4a4a4a"/><circle cx="1080.7" cy="1339.3" r="3.3"/><circle cx="1080.7" cy="1339.3" r="1.25" fill="#4a4a4a"/><circle cx="1074.3" cy="1343.9" r="3.3"/><circle cx="1074.3" cy="1343.9" r="1.25" fill="#4a4a4a"/><circle cx="1099" cy="1339.8" r="3.3"/><circle cx="1099" cy="1339.8" r="1.25" fill="#4a4a4a"/><circle cx="1106.5" cy="1336.6" r="3.3"/><circle cx="1106.5" cy="1336.6" r="1.25" fill="#4a4a4a"/><circle cx="1122.6" cy="1339.8" r="3.3"/><circle cx="1122.6" cy="1339.8" r="1.25" fill="#4a4a4a"/><circle cx="1129.6" cy="1335.7" r="3.3"/><circle cx="1129.6" cy="1335.7" r="1.25" fill="#4a4a4a"/><circle cx="1037.2" cy="1350" r="3.3"/><circle cx="1037.2" cy="1350" r="1.25" fill="#4a4a4a"/><circle cx="1044.2" cy="1350.7" r="3.3"/><circle cx="1044.2" cy="1350.7" r="1.25" fill="#4a4a4a"/><circle cx="1063" cy="1348.4" r="3.3"/><circle cx="1063" cy="1348.4" r="1.25" fill="#4a4a4a"/><circle cx="1068.4" cy="1349.5" r="3.3"/><circle cx="1068.4" cy="1349.5" r="1.25" fill="#4a4a4a"/><circle cx="1065.1" cy="1352.7" r="3.3"/><circle cx="1065.1" cy="1352.7" r="1.25" fill="#4a4a4a"/><circle cx="1063" cy="1355.9" r="3.3"/><circle cx="1063" cy="1355.9" r="1.25" fill="#4a4a4a"/><circle cx="1071.6" cy="1355.9" r="3.3"/><circle cx="1071.6" cy="1355.9" r="1.25" fill="#4a4a4a"/><circle cx="1079.1" cy="1353.2" r="3.3"/><circle cx="1079.1" cy="1353.2" r="1.25" fill="#4a4a4a"/><circle cx="1092.5" cy="1352.5" r="3.3"/><circle cx="1092.5" cy="1352.5" r="1.25" fill="#4a4a4a"/><circle cx="1099.5" cy="1348.9" r="3.3"/><circle cx="1099.5" cy="1348.9" r="1.25" fill="#4a4a4a"/><circle cx="1116.1" cy="1353.2" r="3.3"/><circle cx="1116.1" cy="1353.2" r="1.25" fill="#4a4a4a"/><circle cx="1119.9" cy="1351.6" r="3.3"/><circle cx="1119.9" cy="1351.6" r="1.25" fill="#4a4a4a"/><circle cx="1129.6" cy="1357" r="3.3"/><circle cx="1129.6" cy="1357" r="1.25" fill="#4a4a4a"/><circle cx="1133.3" cy="1360.2" r="3.3"/><circle cx="1133.3" cy="1360.2" r="1.25" fill="#4a4a4a"/><circle cx="1143" cy="1363.4" r="3.3"/><circle cx="1143" cy="1363.4" r="1.25" fill="#4a4a4a"/><circle cx="1150" cy="1365" r="3.3"/><circle cx="1150" cy="1365" r="1.25" fill="#4a4a4a"/><circle cx="1042" cy="1361.3" r="3.3"/><circle cx="1042" cy="1361.3" r="1.25" fill="#4a4a4a"/><circle cx="1051.2" cy="1361.8" r="3.3"/><circle cx="1051.2" cy="1361.8" r="1.25" fill="#4a4a4a"/><circle cx="1083.4" cy="1361.1" r="3.3"/><circle cx="1083.4" cy="1361.1" r="1.25" fill="#4a4a4a"/><circle cx="1092.5" cy="1360.2" r="3.3"/><circle cx="1092.5" cy="1360.2" r="1.25" fill="#4a4a4a"/><circle cx="1099" cy="1362.9" r="3.3"/><circle cx="1099" cy="1362.9" r="1.25" fill="#4a4a4a"/><circle cx="1106.5" cy="1362.9" r="3.3"/><circle cx="1106.5" cy="1362.9" r="1.25" fill="#4a4a4a"/><circle cx="1103.8" cy="1368.3" r="3.3"/><circle cx="1103.8" cy="1368.3" r="1.25" fill="#4a4a4a"/><circle cx="1012.5" cy="1369.3" r="3.3"/><circle cx="1012.5" cy="1369.3" r="1.25" fill="#4a4a4a"/><circle cx="1030.8" cy="1370.4" r="3.3"/><circle cx="1030.8" cy="1370.4" r="1.25" fill="#4a4a4a"/><circle cx="1053.9" cy="1371.5" r="3.3"/><circle cx="1053.9" cy="1371.5" r="1.25" fill="#4a4a4a"/><circle cx="1072.1" cy="1368.3" r="3.3"/><circle cx="1072.1" cy="1368.3" r="1.25" fill="#4a4a4a"/><circle cx="1073.7" cy="1371.5" r="3.3"/><circle cx="1073.7" cy="1371.5" r="1.25" fill="#4a4a4a"/><circle cx="1081.2" cy="1367.9" r="3.3"/><circle cx="1081.2" cy="1367.9" r="1.25" fill="#4a4a4a"/><circle cx="1118.3" cy="1372" r="3.3"/><circle cx="1118.3" cy="1372" r="1.25" fill="#4a4a4a"/><circle cx="1060.8" cy="1374.7" r="3.3"/><circle cx="1060.8" cy="1374.7" r="1.25" fill="#4a4a4a"/><circle cx="1069.4" cy="1374.2" r="3.3"/><circle cx="1069.4" cy="1374.2" r="1.25" fill="#4a4a4a"/><circle cx="1080.2" cy="1377.4" r="3.3"/><circle cx="1080.2" cy="1377.4" r="1.25" fill="#4a4a4a"/><circle cx="1084.5" cy="1379.5" r="3.3"/><circle cx="1084.5" cy="1379.5" r="1.25" fill="#4a4a4a"/><circle cx="1094.7" cy="1375.2" r="3.3"/><circle cx="1094.7" cy="1375.2" r="1.25" fill="#4a4a4a"/><circle cx="1099.5" cy="1377.4" r="3.3"/><circle cx="1099.5" cy="1377.4" r="1.25" fill="#4a4a4a"/><circle cx="1109.7" cy="1375.8" r="3.3"/><circle cx="1109.7" cy="1375.8" r="1.25" fill="#4a4a4a"/><circle cx="1144.6" cy="1377.4" r="3.3"/><circle cx="1144.6" cy="1377.4" r="1.25" fill="#4a4a4a"/><circle cx="1148.9" cy="1378.5" r="3.3"/><circle cx="1148.9" cy="1378.5" r="1.25" fill="#4a4a4a"/><circle cx="1024.3" cy="1377.4" r="3.3"/><circle cx="1024.3" cy="1377.4" r="1.25" fill="#4a4a4a"/><circle cx="1023.3" cy="1389.2" r="3.3"/><circle cx="1023.3" cy="1389.2" r="1.25" fill="#4a4a4a"/><circle cx="1030.8" cy="1387" r="3.3"/><circle cx="1030.8" cy="1387" r="1.25" fill="#4a4a4a"/><circle cx="1044.7" cy="1388.1" r="3.3"/><circle cx="1044.7" cy="1388.1" r="1.25" fill="#4a4a4a"/><circle cx="1053.3" cy="1389.2" r="3.3"/><circle cx="1053.3" cy="1389.2" r="1.25" fill="#4a4a4a"/><circle cx="1060.3" cy="1391.3" r="3.3"/><circle cx="1060.3" cy="1391.3" r="1.25" fill="#4a4a4a"/><circle cx="1067.3" cy="1386" r="3.3"/><circle cx="1067.3" cy="1386" r="1.25" fill="#4a4a4a"/><circle cx="1039.4" cy="1395.1" r="3.3"/><circle cx="1039.4" cy="1395.1" r="1.25" fill="#4a4a4a"/><circle cx="1046.9" cy="1396.7" r="3.3"/><circle cx="1046.9" cy="1396.7" r="1.25" fill="#4a4a4a"/><circle cx="1101.6" cy="1393.5" r="3.3"/><circle cx="1101.6" cy="1393.5" r="1.25" fill="#4a4a4a"/><circle cx="1071.6" cy="1396.7" r="3.3"/><circle cx="1071.6" cy="1396.7" r="1.25" fill="#4a4a4a"/><circle cx="1078" cy="1394.6" r="3.3"/><circle cx="1078" cy="1394.6" r="1.25" fill="#4a4a4a"/><circle cx="1085.5" cy="1395.1" r="3.3"/><circle cx="1085.5" cy="1395.1" r="1.25" fill="#4a4a4a"/><circle cx="1078.6" cy="1400.5" r="3.3"/><circle cx="1078.6" cy="1400.5" r="1.25" fill="#4a4a4a"/><circle cx="1148.9" cy="1392.4" r="3.3"/><circle cx="1148.9" cy="1392.4" r="1.25" fill="#4a4a4a"/><circle cx="1025.9" cy="1398.3" r="3.3"/><circle cx="1025.9" cy="1398.3" r="1.25" fill="#4a4a4a"/><circle cx="1032.9" cy="1404.8" r="3.3"/><circle cx="1032.9" cy="1404.8" r="1.25" fill="#4a4a4a"/><circle cx="1024.3" cy="1408" r="3.3"/><circle cx="1024.3" cy="1408" r="1.25" fill="#4a4a4a"/><circle cx="1056.5" cy="1402.1" r="3.3"/><circle cx="1056.5" cy="1402.1" r="1.25" fill="#4a4a4a"/><circle cx="1063" cy="1409.6" r="3.3"/><circle cx="1063" cy="1409.6" r="1.25" fill="#4a4a4a"/><circle cx="1089.8" cy="1408" r="3.3"/><circle cx="1089.8" cy="1408" r="1.25" fill="#4a4a4a"/><circle cx="1143" cy="1398.9" r="3.3"/><circle cx="1143" cy="1398.9" r="1.25" fill="#4a4a4a"/><circle cx="1147.8" cy="1404.8" r="3.3"/><circle cx="1147.8" cy="1404.8" r="1.25" fill="#4a4a4a"/><circle cx="1113.5" cy="1410.7" r="3.3"/><circle cx="1113.5" cy="1410.7" r="1.25" fill="#4a4a4a"/><circle cx="1129.6" cy="1407.4" r="3.3"/><circle cx="1129.6" cy="1407.4" r="1.25" fill="#4a4a4a"/><circle cx="1129.6" cy="1412.8" r="3.3"/><circle cx="1129.6" cy="1412.8" r="1.25" fill="#4a4a4a"/><circle cx="1021.1" cy="1414.4" r="3.3"/><circle cx="1021.1" cy="1414.4" r="1.25" fill="#4a4a4a"/><circle cx="1035.1" cy="1417.1" r="3.3"/><circle cx="1035.1" cy="1417.1" r="1.25" fill="#4a4a4a"/><circle cx="1067.8" cy="1417.1" r="3.3"/><circle cx="1067.8" cy="1417.1" r="1.25" fill="#4a4a4a"/><circle cx="1079.1" cy="1418.2" r="3.3"/><circle cx="1079.1" cy="1418.2" r="1.25" fill="#4a4a4a"/><circle cx="1101.6" cy="1418.2" r="3.3"/><circle cx="1101.6" cy="1418.2" r="1.25" fill="#4a4a4a"/><circle cx="1113.5" cy="1416.6" r="3.3"/><circle cx="1113.5" cy="1416.6" r="1.25" fill="#4a4a4a"/><circle cx="1124.7" cy="1416" r="3.3"/><circle cx="1124.7" cy="1416" r="1.25" fill="#4a4a4a"/><circle cx="1143.5" cy="1413.9" r="3.3"/><circle cx="1143.5" cy="1413.9" r="1.25" fill="#4a4a4a"/><circle cx="1016.8" cy="1419.3" r="3.3"/><circle cx="1016.8" cy="1419.3" r="1.25" fill="#4a4a4a"/><circle cx="1209.9" cy="1296" r="3.3"/><circle cx="1209.9" cy="1296" r="1.25" fill="#4a4a4a"/><circle cx="1182.2" cy="1313" r="3.3"/><circle cx="1182.2" cy="1313" r="1.25" fill="#4a4a4a"/><circle cx="1163.4" cy="1344.6" r="3.3"/><circle cx="1163.4" cy="1344.6" r="1.25" fill="#4a4a4a"/><circle cx="1170.9" cy="1343.9" r="3.3"/><circle cx="1170.9" cy="1343.9" r="1.25" fill="#4a4a4a"/><circle cx="1216.6" cy="1353.2" r="3.3"/><circle cx="1216.6" cy="1353.2" r="1.25" fill="#4a4a4a"/><circle cx="1225.7" cy="1357.2" r="3.3"/><circle cx="1225.7" cy="1357.2" r="1.25" fill="#4a4a4a"/><circle cx="1262.2" cy="1357.2" r="3.3"/><circle cx="1262.2" cy="1357.2" r="1.25" fill="#4a4a4a"/><circle cx="1180.1" cy="1360.2" r="3.3"/><circle cx="1180.1" cy="1360.2" r="1.25" fill="#4a4a4a"/><circle cx="1165.9" cy="1367.5" r="3.3"/><circle cx="1165.9" cy="1367.5" r="1.25" fill="#4a4a4a"/><circle cx="1175.2" cy="1370.7" r="3.3"/><circle cx="1175.2" cy="1370.7" r="1.25" fill="#4a4a4a"/><circle cx="1237" cy="1366.6" r="3.3"/><circle cx="1237" cy="1366.6" r="1.25" fill="#4a4a4a"/><circle cx="1237" cy="1374.4" r="3.3"/><circle cx="1237" cy="1374.4" r="1.25" fill="#4a4a4a"/><circle cx="1292" cy="1368.8" r="3.3"/><circle cx="1292" cy="1368.8" r="1.25" fill="#4a4a4a"/><circle cx="1191.7" cy="1376.8" r="3.3"/><circle cx="1191.7" cy="1376.8" r="1.25" fill="#4a4a4a"/><circle cx="1163.4" cy="1380.6" r="3.3"/><circle cx="1163.4" cy="1380.6" r="1.25" fill="#4a4a4a"/><circle cx="1175.2" cy="1386.5" r="3.3"/><circle cx="1175.2" cy="1386.5" r="1.25" fill="#4a4a4a"/><circle cx="1151.6" cy="1394.6" r="3.3"/><circle cx="1151.6" cy="1394.6" r="1.25" fill="#4a4a4a"/><circle cx="1170.4" cy="1394.6" r="3.3"/><circle cx="1170.4" cy="1394.6" r="1.25" fill="#4a4a4a"/><circle cx="1176.8" cy="1392.4" r="3.3"/><circle cx="1176.8" cy="1392.4" r="1.25" fill="#4a4a4a"/><circle cx="1183.3" cy="1396.7" r="3.3"/><circle cx="1183.3" cy="1396.7" r="1.25" fill="#4a4a4a"/><circle cx="1170.4" cy="1400.5" r="3.3"/><circle cx="1170.4" cy="1400.5" r="1.25" fill="#4a4a4a"/><circle cx="1159.1" cy="1403.1" r="3.3"/><circle cx="1159.1" cy="1403.1" r="1.25" fill="#4a4a4a"/><circle cx="1172.5" cy="1408.5" r="3.3"/><circle cx="1172.5" cy="1408.5" r="1.25" fill="#4a4a4a"/><circle cx="1172.5" cy="1411.7" r="3.3"/><circle cx="1172.5" cy="1411.7" r="1.25" fill="#4a4a4a"/><circle cx="1193.5" cy="1410.1" r="3.3"/><circle cx="1193.5" cy="1410.1" r="1.25" fill="#4a4a4a"/><circle cx="1200.5" cy="1404.8" r="3.3"/><circle cx="1200.5" cy="1404.8" r="1.25" fill="#4a4a4a"/><circle cx="1227.8" cy="1406.9" r="3.3"/><circle cx="1227.8" cy="1406.9" r="1.25" fill="#4a4a4a"/><circle cx="1273.5" cy="1387" r="3.3"/><circle cx="1273.5" cy="1387" r="1.25" fill="#4a4a4a"/><circle cx="1220.9" cy="1391.3" r="3.3"/><circle cx="1220.9" cy="1391.3" r="1.25" fill="#4a4a4a"/><circle cx="1328.8" cy="1369.1" r="3.3"/><circle cx="1328.8" cy="1369.1" r="1.25" fill="#4a4a4a"/><circle cx="1305.8" cy="1413.2" r="3.3"/><circle cx="1305.8" cy="1413.2" r="1.25" fill="#4a4a4a"/><circle cx="1329.5" cy="1416.5" r="3.3"/><circle cx="1329.5" cy="1416.5" r="1.25" fill="#4a4a4a"/><circle cx="996.2" cy="1431.1" r="3.3"/><circle cx="996.2" cy="1431.1" r="1.25" fill="#4a4a4a"/><circle cx="943.2" cy="1458.5" r="3.3"/><circle cx="943.2" cy="1458.5" r="1.25" fill="#4a4a4a"/><circle cx="1008.7" cy="1480" r="3.3"/><circle cx="1008.7" cy="1480" r="1.25" fill="#4a4a4a"/><circle cx="991.5" cy="1493.6" r="3.3"/><circle cx="991.5" cy="1493.6" r="1.25" fill="#4a4a4a"/><circle cx="1000.7" cy="1505.7" r="3.3"/><circle cx="1000.7" cy="1505.7" r="1.25" fill="#4a4a4a"/><circle cx="1080.7" cy="1423.6" r="3.3"/><circle cx="1080.7" cy="1423.6" r="1.25" fill="#4a4a4a"/><circle cx="1090.2" cy="1423.1" r="3.3"/><circle cx="1090.2" cy="1423.1" r="1.25" fill="#4a4a4a"/><circle cx="1085.5" cy="1428.7" r="3.3"/><circle cx="1085.5" cy="1428.7" r="1.25" fill="#4a4a4a"/><circle cx="1138.1" cy="1419.8" r="3.3"/><circle cx="1138.1" cy="1419.8" r="1.25" fill="#4a4a4a"/><circle cx="1096.8" cy="1431.1" r="3.3"/><circle cx="1096.8" cy="1431.1" r="1.25" fill="#4a4a4a"/><circle cx="1096.8" cy="1434.3" r="3.3"/><circle cx="1096.8" cy="1434.3" r="1.25" fill="#4a4a4a"/><circle cx="1096.8" cy="1439.7" r="3.3"/><circle cx="1096.8" cy="1439.7" r="1.25" fill="#4a4a4a"/><circle cx="1119.9" cy="1435.6" r="3.3"/><circle cx="1119.9" cy="1435.6" r="1.25" fill="#4a4a4a"/><circle cx="1083.4" cy="1434.9" r="3.3"/><circle cx="1083.4" cy="1434.9" r="1.25" fill="#4a4a4a"/><circle cx="1078.6" cy="1437.5" r="3.3"/><circle cx="1078.6" cy="1437.5" r="1.25" fill="#4a4a4a"/><circle cx="1049" cy="1438.1" r="3.3"/><circle cx="1049" cy="1438.1" r="1.25" fill="#4a4a4a"/><circle cx="1046.7" cy="1445.4" r="3.3"/><circle cx="1046.7" cy="1445.4" r="1.25" fill="#4a4a4a"/><circle cx="1032.9" cy="1445.4" r="3.3"/><circle cx="1032.9" cy="1445.4" r="1.25" fill="#4a4a4a"/><circle cx="1062.8" cy="1452.8" r="3.3"/><circle cx="1062.8" cy="1452.8" r="1.25" fill="#4a4a4a"/><circle cx="1055.8" cy="1458.5" r="3.3"/><circle cx="1055.8" cy="1458.5" r="1.25" fill="#4a4a4a"/><circle cx="1080.9" cy="1457.7" r="3.3"/><circle cx="1080.9" cy="1457.7" r="1.25" fill="#4a4a4a"/><circle cx="1083.2" cy="1463.1" r="3.3"/><circle cx="1083.2" cy="1463.1" r="1.25" fill="#4a4a4a"/><circle cx="1090.4" cy="1461.4" r="3.3"/><circle cx="1090.4" cy="1461.4" r="1.25" fill="#4a4a4a"/><circle cx="1138.1" cy="1461.4" r="3.3"/><circle cx="1138.1" cy="1461.4" r="1.25" fill="#4a4a4a"/><circle cx="1069.7" cy="1482.4" r="3.3"/><circle cx="1069.7" cy="1482.4" r="1.25" fill="#4a4a4a"/><circle cx="1092.5" cy="1479.2" r="3.3"/><circle cx="1092.5" cy="1479.2" r="1.25" fill="#4a4a4a"/><circle cx="1081" cy="1506.3" r="3.3"/><circle cx="1081" cy="1506.3" r="1.25" fill="#4a4a4a"/><circle cx="1136.2" cy="1519.7" r="3.3"/><circle cx="1136.2" cy="1519.7" r="1.25" fill="#4a4a4a"/><circle cx="1179.9" cy="1423.9" r="3.3"/><circle cx="1179.9" cy="1423.9" r="1.25" fill="#4a4a4a"/><circle cx="1191.6" cy="1436.5" r="3.3"/><circle cx="1191.6" cy="1436.5" r="1.25" fill="#4a4a4a"/><circle cx="1214.2" cy="1448.5" r="3.3"/><circle cx="1214.2" cy="1448.5" r="1.25" fill="#4a4a4a"/><circle cx="1244" cy="1436.5" r="3.3"/><circle cx="1244" cy="1436.5" r="1.25" fill="#4a4a4a"/><circle cx="1244" cy="1442.7" r="3.3"/><circle cx="1244" cy="1442.7" r="1.25" fill="#4a4a4a"/><circle cx="1262.2" cy="1434.9" r="3.3"/><circle cx="1262.2" cy="1434.9" r="1.25" fill="#4a4a4a"/><circle cx="1161.3" cy="1470.3" r="3.3"/><circle cx="1161.3" cy="1470.3" r="1.25" fill="#4a4a4a"/><circle cx="1186.7" cy="1470.3" r="3.3"/><circle cx="1186.7" cy="1470.3" r="1.25" fill="#4a4a4a"/><circle cx="1045" cy="1383" r="3.3"/><circle cx="1045" cy="1383" r="1.25" fill="#4a4a4a"/><circle cx="1050" cy="1388" r="3.3"/><circle cx="1050" cy="1388" r="1.25" fill="#4a4a4a"/><circle cx="1055" cy="1380" r="3.3"/><circle cx="1055" cy="1380" r="1.25" fill="#4a4a4a"/><circle cx="1062" cy="1385" r="3.3"/><circle cx="1062" cy="1385" r="1.25" fill="#4a4a4a"/><circle cx="1068" cy="1390" r="3.3"/><circle cx="1068" cy="1390" r="1.25" fill="#4a4a4a"/><circle cx="1040" cy="1378" r="3.3"/><circle cx="1040" cy="1378" r="1.25" fill="#4a4a4a"/><circle cx="1085" cy="1381" r="3.3"/><circle cx="1085" cy="1381" r="1.25" fill="#4a4a4a"/><circle cx="1090" cy="1386" r="3.3"/><circle cx="1090" cy="1386" r="1.25" fill="#4a4a4a"/><circle cx="1078" cy="1383" r="3.3"/><circle cx="1078" cy="1383" r="1.25" fill="#4a4a4a"/><circle cx="1100" cy="1387" r="3.3"/><circle cx="1100" cy="1387" r="1.25" fill="#4a4a4a"/><circle cx="1030" cy="1381" r="3.3"/><circle cx="1030" cy="1381" r="1.25" fill="#4a4a4a"/><circle cx="1025" cy="1385" r="3.3"/><circle cx="1025" cy="1385" r="1.25" fill="#4a4a4a"/><circle cx="1112" cy="1383" r="3.3"/><circle cx="1112" cy="1383" r="1.25" fill="#4a4a4a"/><circle cx="1120" cy="1388" r="3.3"/><circle cx="1120" cy="1388" r="1.25" fill="#4a4a4a"/></g>
<path d="M891.5 1369.8 L1328.8 1401" fill="none" stroke="#262626" stroke-width="4.6" stroke-linecap="round"/>
<path d="M891.5 1356.3 L902.39 1357.95 L913.27 1359.54 L924.16 1361.09 L935.05 1362.57 L945.94 1364.01 L956.83 1365.39 L967.71 1366.71 L978.6 1367.99 L989.49 1369.21 L1000.38 1370.38 L1011.26 1371.5 L1022.15 1372.57 L1033.04 1373.59 L1043.92 1374.55 L1054.81 1375.47 L1065.7 1376.34 L1076.59 1377.16 L1087.47 1377.93 L1098.36 1378.65 L1109.25 1379.33 L1120.14 1379.95 L1131.03 1380.53 L1141.91 1381.07 L1152.8 1381.56 L1163.69 1382 L1174.58 1382.4 L1185.46 1382.75 L1196.35 1383.06 L1207.24 1383.32 L1218.12 1383.54 L1229.01 1383.71 L1239.9 1383.85 L1250.79 1383.94 L1261.67 1383.99 L1272.56 1384 L1283.45 1383.96 L1294.34 1383.89 L1305.22 1383.77 L1316.11 1383.62 L1327 1383.42" fill="none" stroke="#262626" stroke-width="3.3" stroke-linecap="round" stroke-dasharray="11 6"/>
<path d="M891.5 1383.39 L902.39 1383.16 L913.27 1383 L924.16 1382.93 L935.05 1382.92 L945.94 1382.99 L956.83 1383.13 L967.71 1383.34 L978.6 1383.62 L989.49 1383.96 L1000.38 1384.37 L1011.26 1384.83 L1022.15 1385.36 L1033.04 1385.95 L1043.92 1386.6 L1054.81 1387.3 L1065.7 1388.05 L1076.59 1388.86 L1087.47 1389.71 L1098.36 1390.62 L1109.25 1391.57 L1120.14 1392.56 L1131.03 1393.6 L1141.91 1394.68 L1152.8 1395.79 L1163.69 1396.95 L1174.58 1398.14 L1185.46 1399.36 L1196.35 1400.62 L1207.24 1401.91 L1218.12 1403.22 L1229.01 1404.57 L1239.9 1405.93 L1250.79 1407.32 L1261.67 1408.74 L1272.56 1410.17 L1283.45 1411.62 L1294.34 1413.08 L1305.22 1414.56 L1316.11 1416.06 L1327 1417.56" fill="none" stroke="#262626" stroke-width="3.3" stroke-linecap="round" stroke-dasharray="11 6"/>
<text x="-1" y="1811.2" font-size="43" text-anchor="start" font-weight="bold" fill="#1a1a1a">g</text>
<line x1="104.2" y1="1811" x2="104.2" y2="2187.4" stroke="#2e2e2e" stroke-width="5" stroke-linecap="butt"/>
<line x1="91.2" y1="2184.9" x2="104.2" y2="2184.9" stroke="#2e2e2e" stroke-width="5" stroke-linecap="butt"/>
<text x="80.4" y="2193.54" font-size="28.8" text-anchor="end" fill="#231f20">9</text>
<line x1="91.2" y1="2110.62" x2="104.2" y2="2110.62" stroke="#2e2e2e" stroke-width="5" stroke-linecap="butt"/>
<text x="80.4" y="2119.26" font-size="28.8" text-anchor="end" fill="#231f20">10</text>
<line x1="91.2" y1="2036.34" x2="104.2" y2="2036.34" stroke="#2e2e2e" stroke-width="5" stroke-linecap="butt"/>
<text x="80.4" y="2044.98" font-size="28.8" text-anchor="end" fill="#231f20">11</text>
<line x1="91.2" y1="1962.06" x2="104.2" y2="1962.06" stroke="#2e2e2e" stroke-width="5" stroke-linecap="butt"/>
<text x="80.4" y="1970.7" font-size="28.8" text-anchor="end" fill="#231f20">12</text>
<line x1="91.2" y1="1887.78" x2="104.2" y2="1887.78" stroke="#2e2e2e" stroke-width="5" stroke-linecap="butt"/>
<text x="80.4" y="1896.42" font-size="28.8" text-anchor="end" fill="#231f20">13</text>
<line x1="91.2" y1="1813.5" x2="104.2" y2="1813.5" stroke="#2e2e2e" stroke-width="5" stroke-linecap="butt"/>
<text x="80.4" y="1822.14" font-size="28.8" text-anchor="end" fill="#231f20">14</text>
<line x1="93" y1="2184.9" x2="576.2" y2="2184.9" stroke="#2e2e2e" stroke-width="5" stroke-linecap="butt"/>
<line x1="212.1" y1="2184.9" x2="212.1" y2="2197.9" stroke="#2e2e2e" stroke-width="5" stroke-linecap="butt"/>
<text x="212.1" y="2231.5" font-size="28.8" text-anchor="middle" fill="#231f20">10</text>
<line x1="393.8" y1="2184.9" x2="393.8" y2="2197.9" stroke="#2e2e2e" stroke-width="5" stroke-linecap="butt"/>
<text x="393.8" y="2231.5" font-size="28.8" text-anchor="middle" fill="#231f20">15</text>
<line x1="575.1" y1="2184.9" x2="575.1" y2="2197.9" stroke="#2e2e2e" stroke-width="5" stroke-linecap="butt"/>
<text x="575.1" y="2231.5" font-size="28.8" text-anchor="middle" fill="#231f20">20</text>
<text x="335" y="2271.7" font-size="29.25" text-anchor="middle" fill="#231f20">Placental surface area (square root)</text>
<text x="335" y="2305.2" font-size="29.25" text-anchor="middle" fill="#231f20">At 22–24 weeks gestation</text>
<text x="0" y="0" font-size="29.4" text-anchor="middle" fill="#231f20" transform="translate(24.7,2004.8) rotate(-90)">Log SPINT1 pg/ml</text>
<text x="313.3" y="1852.5" font-size="29.4" fill="#231f20"><tspan font-style="italic">R</tspan><tspan font-size="19" dx="1.5" dy="-12">2</tspan><tspan dy="12"> = 0.028, </tspan><tspan font-style="italic">p</tspan> &lt; 0.013</text>
<g fill="#2a2a2a"><circle cx="281.2" cy="1877.7" r="3.3"/><circle cx="281.2" cy="1877.7" r="1.25" fill="#4a4a4a"/><circle cx="263.7" cy="1888.8" r="3.3"/><circle cx="263.7" cy="1888.8" r="1.25" fill="#4a4a4a"/><circle cx="230.2" cy="1892.2" r="3.3"/><circle cx="230.2" cy="1892.2" r="1.25" fill="#4a4a4a"/><circle cx="217" cy="1904.2" r="3.3"/><circle cx="217" cy="1904.2" r="1.25" fill="#4a4a4a"/><circle cx="250.9" cy="1909.4" r="3.3"/><circle cx="250.9" cy="1909.4" r="1.25" fill="#4a4a4a"/><circle cx="233.7" cy="1912.4" r="3.3"/><circle cx="233.7" cy="1912.4" r="1.25" fill="#4a4a4a"/><circle cx="190.5" cy="1915.3" r="3.3"/><circle cx="190.5" cy="1915.3" r="1.25" fill="#4a4a4a"/><circle cx="238.6" cy="1924.1" r="3.3"/><circle cx="238.6" cy="1924.1" r="1.25" fill="#4a4a4a"/><circle cx="243.9" cy="1928.5" r="3.3"/><circle cx="243.9" cy="1928.5" r="1.25" fill="#4a4a4a"/><circle cx="264.6" cy="1925.7" r="3.3"/><circle cx="264.6" cy="1925.7" r="1.25" fill="#4a4a4a"/><circle cx="275.5" cy="1923.4" r="3.3"/><circle cx="275.5" cy="1923.4" r="1.25" fill="#4a4a4a"/><circle cx="227.5" cy="1929.5" r="3.3"/><circle cx="227.5" cy="1929.5" r="1.25" fill="#4a4a4a"/><circle cx="253.3" cy="1929.3" r="3.3"/><circle cx="253.3" cy="1929.3" r="1.25" fill="#4a4a4a"/><circle cx="256" cy="1931.4" r="3.3"/><circle cx="256" cy="1931.4" r="1.25" fill="#4a4a4a"/><circle cx="282.3" cy="1935.2" r="3.3"/><circle cx="282.3" cy="1935.2" r="1.25" fill="#4a4a4a"/><circle cx="244.7" cy="1937.8" r="3.3"/><circle cx="244.7" cy="1937.8" r="1.25" fill="#4a4a4a"/><circle cx="248.5" cy="1940" r="3.3"/><circle cx="248.5" cy="1940" r="1.25" fill="#4a4a4a"/><circle cx="252.2" cy="1942.7" r="3.3"/><circle cx="252.2" cy="1942.7" r="1.25" fill="#4a4a4a"/><circle cx="261.9" cy="1940" r="3.3"/><circle cx="261.9" cy="1940" r="1.25" fill="#4a4a4a"/><circle cx="261.9" cy="1943.8" r="3.3"/><circle cx="261.9" cy="1943.8" r="1.25" fill="#4a4a4a"/><circle cx="281.7" cy="1941.6" r="3.3"/><circle cx="281.7" cy="1941.6" r="1.25" fill="#4a4a4a"/><circle cx="288.2" cy="1943.8" r="3.3"/><circle cx="288.2" cy="1943.8" r="1.25" fill="#4a4a4a"/><circle cx="222.1" cy="1945.9" r="3.3"/><circle cx="222.1" cy="1945.9" r="1.25" fill="#4a4a4a"/><circle cx="224.8" cy="1949.7" r="3.3"/><circle cx="224.8" cy="1949.7" r="1.25" fill="#4a4a4a"/><circle cx="230.2" cy="1949.7" r="3.3"/><circle cx="230.2" cy="1949.7" r="1.25" fill="#4a4a4a"/><circle cx="234.5" cy="1944.8" r="3.3"/><circle cx="234.5" cy="1944.8" r="1.25" fill="#4a4a4a"/><circle cx="237.7" cy="1945.9" r="3.3"/><circle cx="237.7" cy="1945.9" r="1.25" fill="#4a4a4a"/><circle cx="237.7" cy="1949.7" r="3.3"/><circle cx="237.7" cy="1949.7" r="1.25" fill="#4a4a4a"/><circle cx="244.7" cy="1949.1" r="3.3"/><circle cx="244.7" cy="1949.1" r="1.25" fill="#4a4a4a"/><circle cx="245.2" cy="1955" r="3.3"/><circle cx="245.2" cy="1955" r="1.25" fill="#4a4a4a"/><circle cx="254.7" cy="1950" r="3.3"/><circle cx="254.7" cy="1950" r="1.25" fill="#4a4a4a"/><circle cx="270.7" cy="1951.1" r="3.3"/><circle cx="270.7" cy="1951.1" r="1.25" fill="#4a4a4a"/><circle cx="277.4" cy="1950.4" r="3.3"/><circle cx="277.4" cy="1950.4" r="1.25" fill="#4a4a4a"/><circle cx="264.6" cy="1958.2" r="3.3"/><circle cx="264.6" cy="1958.2" r="1.25" fill="#4a4a4a"/><circle cx="262.4" cy="1962" r="3.3"/><circle cx="262.4" cy="1962" r="1.25" fill="#4a4a4a"/><circle cx="284.4" cy="1956.6" r="3.3"/><circle cx="284.4" cy="1956.6" r="1.25" fill="#4a4a4a"/><circle cx="288.7" cy="1959.9" r="3.3"/><circle cx="288.7" cy="1959.9" r="1.25" fill="#4a4a4a"/><circle cx="231.8" cy="1958.8" r="3.3"/><circle cx="231.8" cy="1958.8" r="1.25" fill="#4a4a4a"/><circle cx="234" cy="1964.2" r="3.3"/><circle cx="234" cy="1964.2" r="1.25" fill="#4a4a4a"/><circle cx="222.1" cy="1965" r="3.3"/><circle cx="222.1" cy="1965" r="1.25" fill="#4a4a4a"/><circle cx="272.1" cy="1964.2" r="3.3"/><circle cx="272.1" cy="1964.2" r="1.25" fill="#4a4a4a"/><circle cx="270.5" cy="1967.4" r="3.3"/><circle cx="270.5" cy="1967.4" r="1.25" fill="#4a4a4a"/><circle cx="285" cy="1966.3" r="3.3"/><circle cx="285" cy="1966.3" r="1.25" fill="#4a4a4a"/><circle cx="244.7" cy="1971.7" r="3.3"/><circle cx="244.7" cy="1971.7" r="1.25" fill="#4a4a4a"/><circle cx="248.5" cy="1971.7" r="3.3"/><circle cx="248.5" cy="1971.7" r="1.25" fill="#4a4a4a"/><circle cx="222.7" cy="1973.8" r="3.3"/><circle cx="222.7" cy="1973.8" r="1.25" fill="#4a4a4a"/><circle cx="215.7" cy="1977.6" r="3.3"/><circle cx="215.7" cy="1977.6" r="1.25" fill="#4a4a4a"/><circle cx="209.8" cy="1981.3" r="3.3"/><circle cx="209.8" cy="1981.3" r="1.25" fill="#4a4a4a"/><circle cx="262.4" cy="1970.6" r="3.3"/><circle cx="262.4" cy="1970.6" r="1.25" fill="#4a4a4a"/><circle cx="248.5" cy="1978.1" r="3.3"/><circle cx="248.5" cy="1978.1" r="1.25" fill="#4a4a4a"/><circle cx="254.9" cy="1985.1" r="3.3"/><circle cx="254.9" cy="1985.1" r="1.25" fill="#4a4a4a"/><circle cx="265.6" cy="1981.3" r="3.3"/><circle cx="265.6" cy="1981.3" r="1.25" fill="#4a4a4a"/><circle cx="276.4" cy="1976.5" r="3.3"/><circle cx="276.4" cy="1976.5" r="1.25" fill="#4a4a4a"/><circle cx="288.2" cy="1980.3" r="3.3"/><circle cx="288.2" cy="1980.3" r="1.25" fill="#4a4a4a"/><circle cx="233.4" cy="1988.3" r="3.3"/><circle cx="233.4" cy="1988.3" r="1.25" fill="#4a4a4a"/><circle cx="229.1" cy="1993.1" r="3.3"/><circle cx="229.1" cy="1993.1" r="1.25" fill="#4a4a4a"/><circle cx="244.7" cy="1989.9" r="3.3"/><circle cx="244.7" cy="1989.9" r="1.25" fill="#4a4a4a"/><circle cx="240.4" cy="1993.7" r="3.3"/><circle cx="240.4" cy="1993.7" r="1.25" fill="#4a4a4a"/><circle cx="257.6" cy="1989.9" r="3.3"/><circle cx="257.6" cy="1989.9" r="1.25" fill="#4a4a4a"/><circle cx="266.7" cy="1989.9" r="3.3"/><circle cx="266.7" cy="1989.9" r="1.25" fill="#4a4a4a"/><circle cx="274.8" cy="1988.3" r="3.3"/><circle cx="274.8" cy="1988.3" r="1.25" fill="#4a4a4a"/><circle cx="274.8" cy="1992.6" r="3.3"/><circle cx="274.8" cy="1992.6" r="1.25" fill="#4a4a4a"/><circle cx="282.8" cy="1987.8" r="3.3"/><circle cx="282.8" cy="1987.8" r="1.25" fill="#4a4a4a"/><circle cx="282.8" cy="1993.1" r="3.3"/><circle cx="282.8" cy="1993.1" r="1.25" fill="#4a4a4a"/><circle cx="269.9" cy="1996.2" r="3.3"/><circle cx="269.9" cy="1996.2" r="1.25" fill="#4a4a4a"/><circle cx="275.3" cy="1999.6" r="3.3"/><circle cx="275.3" cy="1999.6" r="1.25" fill="#4a4a4a"/><circle cx="254.4" cy="1996.9" r="3.3"/><circle cx="254.4" cy="1996.9" r="1.25" fill="#4a4a4a"/><circle cx="208.7" cy="1999.1" r="3.3"/><circle cx="208.7" cy="1999.1" r="1.25" fill="#4a4a4a"/><circle cx="218.9" cy="1998.5" r="3.3"/><circle cx="218.9" cy="1998.5" r="1.25" fill="#4a4a4a"/><circle cx="175.4" cy="2001.7" r="3.3"/><circle cx="175.4" cy="2001.7" r="1.25" fill="#4a4a4a"/><circle cx="252.7" cy="2007.1" r="3.3"/><circle cx="252.7" cy="2007.1" r="1.25" fill="#4a4a4a"/><circle cx="259.2" cy="2007.1" r="3.3"/><circle cx="259.2" cy="2007.1" r="1.25" fill="#4a4a4a"/><circle cx="313.8" cy="1868.6" r="3.3"/><circle cx="313.8" cy="1868.6" r="1.25" fill="#4a4a4a"/><circle cx="393.2" cy="1879.1" r="3.3"/><circle cx="393.2" cy="1879.1" r="1.25" fill="#4a4a4a"/><circle cx="295.2" cy="1907.8" r="3.3"/><circle cx="295.2" cy="1907.8" r="1.25" fill="#4a4a4a"/><circle cx="304.3" cy="1915.3" r="3.3"/><circle cx="304.3" cy="1915.3" r="1.25" fill="#4a4a4a"/><circle cx="362.6" cy="1918.3" r="3.3"/><circle cx="362.6" cy="1918.3" r="1.25" fill="#4a4a4a"/><circle cx="317.7" cy="1924.7" r="3.3"/><circle cx="317.7" cy="1924.7" r="1.25" fill="#4a4a4a"/><circle cx="338.7" cy="1926" r="3.3"/><circle cx="338.7" cy="1926" r="1.25" fill="#4a4a4a"/><circle cx="337.6" cy="1928.7" r="3.3"/><circle cx="337.6" cy="1928.7" r="1.25" fill="#4a4a4a"/><circle cx="349.7" cy="1924.7" r="3.3"/><circle cx="349.7" cy="1924.7" r="1.25" fill="#4a4a4a"/><circle cx="356.7" cy="1926.6" r="3.3"/><circle cx="356.7" cy="1926.6" r="1.25" fill="#4a4a4a"/><circle cx="356.7" cy="1930.3" r="3.3"/><circle cx="356.7" cy="1930.3" r="1.25" fill="#4a4a4a"/><circle cx="382.7" cy="1928.5" r="3.3"/><circle cx="382.7" cy="1928.5" r="1.25" fill="#4a4a4a"/><circle cx="398.3" cy="1926.6" r="3.3"/><circle cx="398.3" cy="1926.6" r="1.25" fill="#4a4a4a"/><circle cx="427.3" cy="1924.7" r="3.3"/><circle cx="427.3" cy="1924.7" r="1.25" fill="#4a4a4a"/><circle cx="300" cy="1933.2" r="3.3"/><circle cx="300" cy="1933.2" r="1.25" fill="#4a4a4a"/><circle cx="328" cy="1933" r="3.3"/><circle cx="328" cy="1933" r="1.25" fill="#4a4a4a"/><circle cx="346.7" cy="1937.3" r="3.3"/><circle cx="346.7" cy="1937.3" r="1.25" fill="#4a4a4a"/><circle cx="408.3" cy="1935.4" r="3.3"/><circle cx="408.3" cy="1935.4" r="1.25" fill="#4a4a4a"/><circle cx="291.4" cy="1935.2" r="3.3"/><circle cx="291.4" cy="1935.2" r="1.25" fill="#4a4a4a"/><circle cx="295.2" cy="1939.5" r="3.3"/><circle cx="295.2" cy="1939.5" r="1.25" fill="#4a4a4a"/><circle cx="291.4" cy="1944.8" r="3.3"/><circle cx="291.4" cy="1944.8" r="1.25" fill="#4a4a4a"/><circle cx="311.8" cy="1941.6" r="3.3"/><circle cx="311.8" cy="1941.6" r="1.25" fill="#4a4a4a"/><circle cx="314" cy="1944.8" r="3.3"/><circle cx="314" cy="1944.8" r="1.25" fill="#4a4a4a"/><circle cx="326.3" cy="1942.1" r="3.3"/><circle cx="326.3" cy="1942.1" r="1.25" fill="#4a4a4a"/><circle cx="336.9" cy="1945" r="3.3"/><circle cx="336.9" cy="1945" r="1.25" fill="#4a4a4a"/><circle cx="358.6" cy="1943.5" r="3.3"/><circle cx="358.6" cy="1943.5" r="1.25" fill="#4a4a4a"/><circle cx="366.1" cy="1941.1" r="3.3"/><circle cx="366.1" cy="1941.1" r="1.25" fill="#4a4a4a"/><circle cx="395.6" cy="1945.7" r="3.3"/><circle cx="395.6" cy="1945.7" r="1.25" fill="#4a4a4a"/><circle cx="295.2" cy="1949.7" r="3.3"/><circle cx="295.2" cy="1949.7" r="1.25" fill="#4a4a4a"/><circle cx="303.3" cy="1949.1" r="3.3"/><circle cx="303.3" cy="1949.1" r="1.25" fill="#4a4a4a"/><circle cx="309.7" cy="1951.3" r="3.3"/><circle cx="309.7" cy="1951.3" r="1.25" fill="#4a4a4a"/><circle cx="319.4" cy="1950.7" r="3.3"/><circle cx="319.4" cy="1950.7" r="1.25" fill="#4a4a4a"/><circle cx="325.3" cy="1950.7" r="3.3"/><circle cx="325.3" cy="1950.7" r="1.25" fill="#4a4a4a"/><circle cx="331.7" cy="1948.6" r="3.3"/><circle cx="331.7" cy="1948.6" r="1.25" fill="#4a4a4a"/><circle cx="332.2" cy="1951.3" r="3.3"/><circle cx="332.2" cy="1951.3" r="1.25" fill="#4a4a4a"/><circle cx="366.1" cy="1952.3" r="3.3"/><circle cx="366.1" cy="1952.3" r="1.25" fill="#4a4a4a"/><circle cx="430" cy="1950.2" r="3.3"/><circle cx="430" cy="1950.2" r="1.25" fill="#4a4a4a"/><circle cx="301.1" cy="1956.6" r="3.3"/><circle cx="301.1" cy="1956.6" r="1.25" fill="#4a4a4a"/><circle cx="310.8" cy="1955" r="3.3"/><circle cx="310.8" cy="1955" r="1.25" fill="#4a4a4a"/><circle cx="302.2" cy="1960.4" r="3.3"/><circle cx="302.2" cy="1960.4" r="1.25" fill="#4a4a4a"/><circle cx="306.5" cy="1960.4" r="3.3"/><circle cx="306.5" cy="1960.4" r="1.25" fill="#4a4a4a"/><circle cx="328" cy="1958.8" r="3.3"/><circle cx="328" cy="1958.8" r="1.25" fill="#4a4a4a"/><circle cx="348.4" cy="1955.6" r="3.3"/><circle cx="348.4" cy="1955.6" r="1.25" fill="#4a4a4a"/><circle cx="353.7" cy="1957.2" r="3.3"/><circle cx="353.7" cy="1957.2" r="1.25" fill="#4a4a4a"/><circle cx="358" cy="1957.7" r="3.3"/><circle cx="358" cy="1957.7" r="1.25" fill="#4a4a4a"/><circle cx="337.6" cy="1960.9" r="3.3"/><circle cx="337.6" cy="1960.9" r="1.25" fill="#4a4a4a"/><circle cx="295.2" cy="1964.7" r="3.3"/><circle cx="295.2" cy="1964.7" r="1.25" fill="#4a4a4a"/><circle cx="314" cy="1962.5" r="3.3"/><circle cx="314" cy="1962.5" r="1.25" fill="#4a4a4a"/><circle cx="328" cy="1963.1" r="3.3"/><circle cx="328" cy="1963.1" r="1.25" fill="#4a4a4a"/><circle cx="340.8" cy="1964.7" r="3.3"/><circle cx="340.8" cy="1964.7" r="1.25" fill="#4a4a4a"/><circle cx="376.3" cy="1965.8" r="3.3"/><circle cx="376.3" cy="1965.8" r="1.25" fill="#4a4a4a"/><circle cx="287.1" cy="1971.7" r="3.3"/><circle cx="287.1" cy="1971.7" r="1.25" fill="#4a4a4a"/><circle cx="291.4" cy="1973.8" r="3.3"/><circle cx="291.4" cy="1973.8" r="1.25" fill="#4a4a4a"/><circle cx="291.4" cy="1978.1" r="3.3"/><circle cx="291.4" cy="1978.1" r="1.25" fill="#4a4a4a"/><circle cx="295.7" cy="1978.1" r="3.3"/><circle cx="295.7" cy="1978.1" r="1.25" fill="#4a4a4a"/><circle cx="305.4" cy="1973.8" r="3.3"/><circle cx="305.4" cy="1973.8" r="1.25" fill="#4a4a4a"/><circle cx="305.4" cy="1976" r="3.3"/><circle cx="305.4" cy="1976" r="1.25" fill="#4a4a4a"/><circle cx="314" cy="1971.7" r="3.3"/><circle cx="314" cy="1971.7" r="1.25" fill="#4a4a4a"/><circle cx="338.7" cy="1975.4" r="3.3"/><circle cx="338.7" cy="1975.4" r="1.25" fill="#4a4a4a"/><circle cx="351.6" cy="1972.7" r="3.3"/><circle cx="351.6" cy="1972.7" r="1.25" fill="#4a4a4a"/><circle cx="351.6" cy="1977" r="3.3"/><circle cx="351.6" cy="1977" r="1.25" fill="#4a4a4a"/><circle cx="358" cy="1972.7" r="3.3"/><circle cx="358" cy="1972.7" r="1.25" fill="#4a4a4a"/><circle cx="358" cy="1977" r="3.3"/><circle cx="358" cy="1977" r="1.25" fill="#4a4a4a"/><circle cx="353.7" cy="1981.3" r="3.3"/><circle cx="353.7" cy="1981.3" r="1.25" fill="#4a4a4a"/><circle cx="359.1" cy="1981.3" r="3.3"/><circle cx="359.1" cy="1981.3" r="1.25" fill="#4a4a4a"/><circle cx="375.2" cy="1972.2" r="3.3"/><circle cx="375.2" cy="1972.2" r="1.25" fill="#4a4a4a"/><circle cx="384.9" cy="1974.4" r="3.3"/><circle cx="384.9" cy="1974.4" r="1.25" fill="#4a4a4a"/><circle cx="324.7" cy="1979.2" r="3.3"/><circle cx="324.7" cy="1979.2" r="1.25" fill="#4a4a4a"/><circle cx="329" cy="1980.8" r="3.3"/><circle cx="329" cy="1980.8" r="1.25" fill="#4a4a4a"/><circle cx="333.9" cy="1982.9" r="3.3"/><circle cx="333.9" cy="1982.9" r="1.25" fill="#4a4a4a"/><circle cx="326.3" cy="1986.7" r="3.3"/><circle cx="326.3" cy="1986.7" r="1.25" fill="#4a4a4a"/><circle cx="367.7" cy="1984" r="3.3"/><circle cx="367.7" cy="1984" r="1.25" fill="#4a4a4a"/><circle cx="375.2" cy="1986.7" r="3.3"/><circle cx="375.2" cy="1986.7" r="1.25" fill="#4a4a4a"/><circle cx="396.1" cy="1988.3" r="3.3"/><circle cx="396.1" cy="1988.3" r="1.25" fill="#4a4a4a"/><circle cx="293.6" cy="1989.9" r="3.3"/><circle cx="293.6" cy="1989.9" r="1.25" fill="#4a4a4a"/><circle cx="296.8" cy="1995.3" r="3.3"/><circle cx="296.8" cy="1995.3" r="1.25" fill="#4a4a4a"/><circle cx="297.9" cy="1999.6" r="3.3"/><circle cx="297.9" cy="1999.6" r="1.25" fill="#4a4a4a"/><circle cx="293.6" cy="2000.7" r="3.3"/><circle cx="293.6" cy="2000.7" r="1.25" fill="#4a4a4a"/><circle cx="308.4" cy="1993.1" r="3.3"/><circle cx="308.4" cy="1993.1" r="1.25" fill="#4a4a4a"/><circle cx="324.2" cy="1995.8" r="3.3"/><circle cx="324.2" cy="1995.8" r="1.25" fill="#4a4a4a"/><circle cx="317.2" cy="2000.7" r="3.3"/><circle cx="317.2" cy="2000.7" r="1.25" fill="#4a4a4a"/><circle cx="322.6" cy="2003.9" r="3.3"/><circle cx="322.6" cy="2003.9" r="1.25" fill="#4a4a4a"/><circle cx="327.4" cy="2002.8" r="3.3"/><circle cx="327.4" cy="2002.8" r="1.25" fill="#4a4a4a"/><circle cx="344.6" cy="2003.3" r="3.3"/><circle cx="344.6" cy="2003.3" r="1.25" fill="#4a4a4a"/><circle cx="351.6" cy="2005.5" r="3.3"/><circle cx="351.6" cy="2005.5" r="1.25" fill="#4a4a4a"/><circle cx="361" cy="2003.3" r="3.3"/><circle cx="361" cy="2003.3" r="1.25" fill="#4a4a4a"/><circle cx="371.8" cy="2006.6" r="3.3"/><circle cx="371.8" cy="2006.6" r="1.25" fill="#4a4a4a"/><circle cx="405.6" cy="1998.3" r="3.3"/><circle cx="405.6" cy="1998.3" r="1.25" fill="#4a4a4a"/><circle cx="474.5" cy="1900.4" r="3.3"/><circle cx="474.5" cy="1900.4" r="1.25" fill="#4a4a4a"/><circle cx="493.3" cy="1923.3" r="3.3"/><circle cx="493.3" cy="1923.3" r="1.25" fill="#4a4a4a"/><circle cx="497.2" cy="1931" r="3.3"/><circle cx="497.2" cy="1931" r="1.25" fill="#4a4a4a"/><circle cx="524.2" cy="1926.2" r="3.3"/><circle cx="524.2" cy="1926.2" r="1.25" fill="#4a4a4a"/><circle cx="515" cy="1945.5" r="3.3"/><circle cx="515" cy="1945.5" r="1.25" fill="#4a4a4a"/><circle cx="552.9" cy="1957.1" r="3.3"/><circle cx="552.9" cy="1957.1" r="1.25" fill="#4a4a4a"/><circle cx="452.2" cy="1959.5" r="3.3"/><circle cx="452.2" cy="1959.5" r="1.25" fill="#4a4a4a"/><circle cx="436.8" cy="1972.1" r="3.3"/><circle cx="436.8" cy="1972.1" r="1.25" fill="#4a4a4a"/><circle cx="452.4" cy="1979.3" r="3.3"/><circle cx="452.4" cy="1979.3" r="1.25" fill="#4a4a4a"/><circle cx="253.8" cy="2014.5" r="3.3"/><circle cx="253.8" cy="2014.5" r="1.25" fill="#4a4a4a"/><circle cx="254.7" cy="2019.1" r="3.3"/><circle cx="254.7" cy="2019.1" r="1.25" fill="#4a4a4a"/><circle cx="227.5" cy="2020.2" r="3.3"/><circle cx="227.5" cy="2020.2" r="1.25" fill="#4a4a4a"/><circle cx="226.4" cy="2022.5" r="3.3"/><circle cx="226.4" cy="2022.5" r="1.25" fill="#4a4a4a"/><circle cx="280.1" cy="2020.6" r="3.3"/><circle cx="280.1" cy="2020.6" r="1.25" fill="#4a4a4a"/><circle cx="276.9" cy="2025.8" r="3.3"/><circle cx="276.9" cy="2025.8" r="1.25" fill="#4a4a4a"/><circle cx="221.1" cy="2031.1" r="3.3"/><circle cx="221.1" cy="2031.1" r="1.25" fill="#4a4a4a"/><circle cx="265.4" cy="2040.6" r="3.3"/><circle cx="265.4" cy="2040.6" r="1.25" fill="#4a4a4a"/><circle cx="234" cy="2044.9" r="3.3"/><circle cx="234" cy="2044.9" r="1.25" fill="#4a4a4a"/><circle cx="244.2" cy="2043.5" r="3.3"/><circle cx="244.2" cy="2043.5" r="1.25" fill="#4a4a4a"/><circle cx="147.5" cy="2063" r="3.3"/><circle cx="147.5" cy="2063" r="1.25" fill="#4a4a4a"/><circle cx="254" cy="2059.9" r="3.3"/><circle cx="254" cy="2059.9" r="1.25" fill="#4a4a4a"/><circle cx="273.1" cy="2060.7" r="3.3"/><circle cx="273.1" cy="2060.7" r="1.25" fill="#4a4a4a"/><circle cx="150.4" cy="2085" r="3.3"/><circle cx="150.4" cy="2085" r="1.25" fill="#4a4a4a"/><circle cx="274.8" cy="2084.6" r="3.3"/><circle cx="274.8" cy="2084.6" r="1.25" fill="#4a4a4a"/><circle cx="305.4" cy="2014.5" r="3.3"/><circle cx="305.4" cy="2014.5" r="1.25" fill="#4a4a4a"/><circle cx="308.8" cy="2017.7" r="3.3"/><circle cx="308.8" cy="2017.7" r="1.25" fill="#4a4a4a"/><circle cx="319.6" cy="2012.3" r="3.3"/><circle cx="319.6" cy="2012.3" r="1.25" fill="#4a4a4a"/><circle cx="321" cy="2018.3" r="3.3"/><circle cx="321" cy="2018.3" r="1.25" fill="#4a4a4a"/><circle cx="362.5" cy="2018.3" r="3.3"/><circle cx="362.5" cy="2018.3" r="1.25" fill="#4a4a4a"/><circle cx="378.4" cy="2021.3" r="3.3"/><circle cx="378.4" cy="2021.3" r="1.25" fill="#4a4a4a"/><circle cx="379.7" cy="2028.1" r="3.3"/><circle cx="379.7" cy="2028.1" r="1.25" fill="#4a4a4a"/><circle cx="341.4" cy="2027.9" r="3.3"/><circle cx="341.4" cy="2027.9" r="1.25" fill="#4a4a4a"/><circle cx="331.2" cy="2035.4" r="3.3"/><circle cx="331.2" cy="2035.4" r="1.25" fill="#4a4a4a"/><circle cx="299.5" cy="2040.6" r="3.3"/><circle cx="299.5" cy="2040.6" r="1.25" fill="#4a4a4a"/><circle cx="296.8" cy="2043.5" r="3.3"/><circle cx="296.8" cy="2043.5" r="1.25" fill="#4a4a4a"/><circle cx="314" cy="2051.8" r="3.3"/><circle cx="314" cy="2051.8" r="1.25" fill="#4a4a4a"/><circle cx="404.4" cy="2073" r="3.3"/><circle cx="404.4" cy="2073" r="1.25" fill="#4a4a4a"/><circle cx="294.9" cy="2097.7" r="3.3"/><circle cx="294.9" cy="2097.7" r="1.25" fill="#4a4a4a"/><circle cx="285" cy="1957" r="3.3"/><circle cx="285" cy="1957" r="1.25" fill="#4a4a4a"/><circle cx="287" cy="1962" r="3.3"/><circle cx="287" cy="1962" r="1.25" fill="#4a4a4a"/><circle cx="290" cy="1968" r="3.3"/><circle cx="290" cy="1968" r="1.25" fill="#4a4a4a"/><circle cx="292" cy="1975" r="3.3"/><circle cx="292" cy="1975" r="1.25" fill="#4a4a4a"/><circle cx="289" cy="1980" r="3.3"/><circle cx="289" cy="1980" r="1.25" fill="#4a4a4a"/><circle cx="296" cy="1970" r="3.3"/><circle cx="296" cy="1970" r="1.25" fill="#4a4a4a"/><circle cx="298" cy="1975" r="3.3"/><circle cx="298" cy="1975" r="1.25" fill="#4a4a4a"/><circle cx="303" cy="1965" r="3.3"/><circle cx="303" cy="1965" r="1.25" fill="#4a4a4a"/><circle cx="307" cy="1970" r="3.3"/><circle cx="307" cy="1970" r="1.25" fill="#4a4a4a"/><circle cx="312" cy="1968" r="3.3"/><circle cx="312" cy="1968" r="1.25" fill="#4a4a4a"/><circle cx="314" cy="1976" r="3.3"/><circle cx="314" cy="1976" r="1.25" fill="#4a4a4a"/><circle cx="280" cy="1973" r="3.3"/><circle cx="280" cy="1973" r="1.25" fill="#4a4a4a"/><circle cx="270" cy="1975" r="3.3"/><circle cx="270" cy="1975" r="1.25" fill="#4a4a4a"/></g>
<path d="M146.4 1985.6 L553.7 1945.5" fill="none" stroke="#262626" stroke-width="4.6" stroke-linecap="round"/>
<path d="M146.4 1972.62 L156.52 1973.09 L166.63 1973.41 L176.75 1973.58 L186.86 1973.61 L196.98 1973.51 L207.09 1973.28 L217.21 1972.92 L227.32 1972.44 L237.44 1971.85 L247.55 1971.15 L257.67 1970.34 L267.78 1969.44 L277.89 1968.45 L288.01 1967.36 L298.12 1966.2 L308.24 1964.96 L318.36 1963.64 L328.47 1962.26 L338.59 1960.82 L348.7 1959.32 L358.82 1957.78 L368.93 1956.18 L379.05 1954.55 L389.16 1952.89 L399.27 1951.19 L409.39 1949.47 L419.5 1947.74 L429.62 1945.98 L439.74 1944.23 L449.85 1942.47 L459.97 1940.71 L470.08 1938.96 L480.2 1937.22 L490.31 1935.51 L500.42 1933.81 L510.54 1932.15 L520.65 1930.52 L530.77 1928.93 L540.88 1927.39 L551 1925.9" fill="none" stroke="#262626" stroke-width="3.3" stroke-linecap="round" stroke-dasharray="11 6"/>
<path d="M146.4 1999.19 L156.52 1997.04 L166.63 1994.98 L176.75 1993.02 L186.86 1991.15 L196.98 1989.36 L207.09 1987.66 L217.21 1986.04 L227.32 1984.51 L237.44 1983.05 L247.55 1981.67 L257.67 1980.37 L267.78 1979.15 L277.89 1977.99 L288.01 1976.91 L298.12 1975.9 L308.24 1974.95 L318.36 1974.07 L328.47 1973.25 L338.59 1972.49 L348.7 1971.79 L358.82 1971.15 L368.93 1970.57 L379.05 1970.04 L389.16 1969.56 L399.27 1969.13 L409.39 1968.75 L419.5 1968.41 L429.62 1968.12 L439.74 1967.88 L449.85 1967.67 L459.97 1967.5 L470.08 1967.37 L480.2 1967.27 L490.31 1967.21 L500.42 1967.18 L510.54 1967.18 L520.65 1967.2 L530.77 1967.25 L540.88 1967.33 L551 1967.42" fill="none" stroke="#262626" stroke-width="3.3" stroke-linecap="round" stroke-dasharray="11 6"/>
</svg>
</body></html>
